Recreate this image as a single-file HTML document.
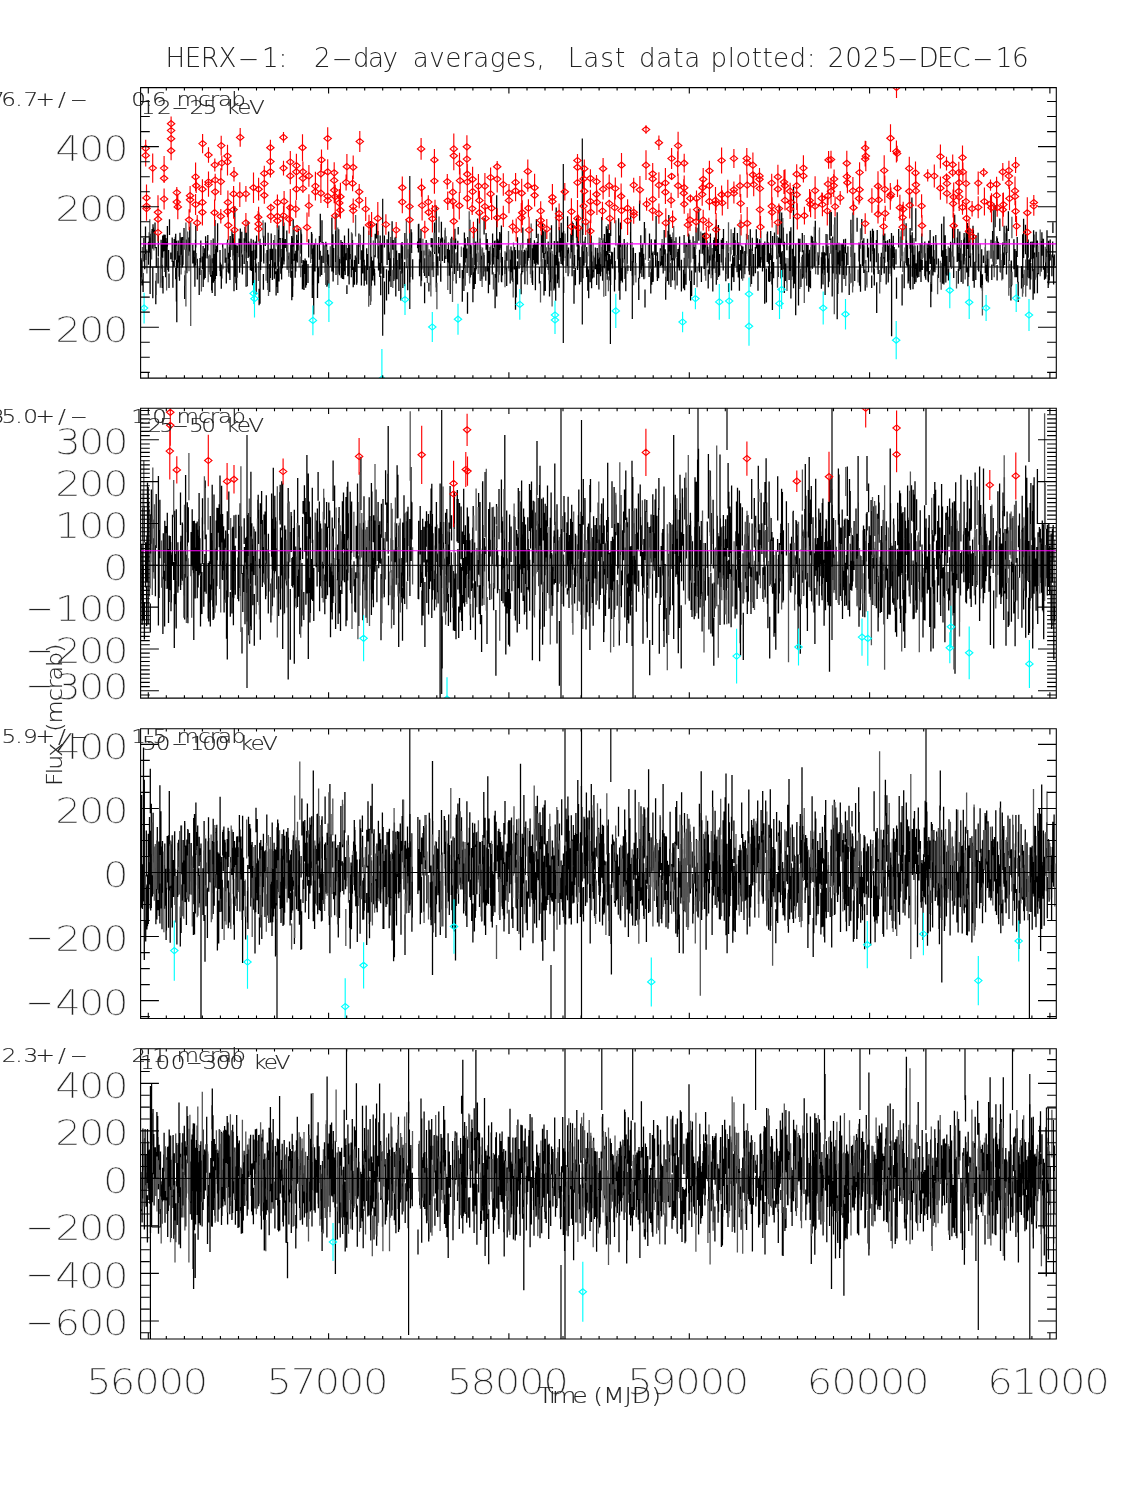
<!DOCTYPE html>
<html><head><meta charset="utf-8"><title>HERX-1 2-day averages</title>
<style>html,body{margin:0;padding:0;background:#fff;overflow:hidden}svg{display:block}</style>
</head><body>
<svg width="1125" height="1500" viewBox="0 0 1125 1500">
<rect width="1125" height="1500" fill="#fff"/>
<style>.big{stroke:#fff;stroke-width:0.45px}.sm{stroke:#222;stroke-width:0.15px}</style>
<defs>
<clipPath id="c0"><rect x="140.6" y="87.6" width="915.7" height="290.5"/></clipPath>
<clipPath id="c1"><rect x="140.6" y="408.3" width="915.7" height="289.8"/></clipPath>
<clipPath id="c2"><rect x="140.6" y="728.7" width="915.7" height="289.8"/></clipPath>
<clipPath id="c3"><rect x="140.6" y="1048.7" width="915.7" height="290.3"/></clipPath>
</defs>
<g clip-path="url(#c0)" fill="none">
<path stroke="#000" stroke-width="1.30" d="M141 260.1V277.3M141.9 258.3V280.6M142 263.2V285.4M143.1 273V292M143.9 237.9V261.6M144.7 254.1V269.3M145.5 226.6V254M146.3 249.7V260M148.5 241.7V264.8M149.3 232.3V252.6M150.1 266.5V294.1M150.3 233.7V256.7M150.4 252.6V267.7M152.1 229V247.9M152.8 267.2V298.2M153 224.2V249M153.3 227.6V246.8M154.5 229.8V245.7M155 222.5V248.2M155.8 280.8V304.3M156.3 246.9V267.8M158.1 257.4V283.4M158.3 235.4V256.5M161.1 239.8V268.6M161.9 243.3V265.1M162.2 264.7V288M162.7 235.6V257.8M163 276.1V293.6M163.9 234.4V251.5M165.2 234.8V253.1M165.6 252.5V274.1M165.6 238.1V277.3M166.4 241.7V267.1M167.1 238.3V270.1M167.4 226.1V246.6M168.6 250V271.8M169 273.6V287.9M169.5 219.3V234.9M170.8 252.4V259.2M172.2 237.5V261.9M172.9 261V287.7M174.2 238.9V266.7M175.3 236.8V259.7M175.7 233.8V254.4M175.7 268V279.3M176.4 240.7V301.4M176.8 250.9V322.3M177.5 252.8V268M178.2 240.6V262.6M179.1 255.6V276.7M179.5 261V280.8M180 232.7V265.1M181.4 237.2V256.7M181.6 239V267.4M181.9 239.4V251.5M182.5 237V267.6M183 249.6V264.8M184 228.1V249.7M184.7 275.2V298.9M185.8 249.3V267.9M186.4 239.4V269M186.5 249.5V270.2M186.9 261V273.2M188.8 237.5V255.8M189.7 226.7V252M192.8 244.5V263.5M194.1 250.6V267.2M194.9 256.9V286.8M195.5 239.8V265.5M195.8 225.7V247.5M197.3 258.8V279.4M199.2 267.9V295M200 258.1V275M200.8 240.6V262.4M202.4 256.6V269M203.1 246V265.1M203.2 254.5V287M204.2 252.9V279.5M204.7 248.2V275.5M205.2 253.6V278M205.6 237V258.3M205.6 236.2V250.7M207.3 241V258.6M207.8 235V250.6M210.1 255.3V274.5M210.6 259.3V276.8M211.8 258.3V275.3M211.7 259.6V290.5M212.2 271.1V293M213.2 238.4V263.2M213.4 256.2V282.8M213.8 253.9V281M215 220.1V295.9M215.4 254.3V279M216.1 249.3V271.4M216.5 245.7V275.9M217.5 239.9V252.2M217.6 223.3V241.3M220 249.9V270.9M220.4 262.5V276.3M221.3 270.5V288.7M221.8 264.4V278.5M222.7 244.1V268.8M225.1 248.5V262.8M226.3 257.6V283.5M227.6 239.6V258.9M228.1 263.4V272.2M228.8 252.7V273.6M229.5 246.7V268.3M229.8 242.8V255.6M229.9 259V280.1M230.2 235.9V256.9M232 230.2V250M233.1 234.1V255.5M234 238.2V291.2M234.8 206.3V274.3M234.8 252.3V276.7M235.1 261.2V276.3M235.9 244.4V283.3M236.6 269.3V290.1M237.3 245.6V277M239.1 238.5V257.2M239.6 251.1V272.8M240.3 228.6V254.4M240.4 239.4V261.2M241.7 250.3V257.1M241.8 231.7V251.8M242.4 254.5V274.6M244.2 238.3V263.9M245 226.8V251.1M246.1 262.8V286.7M246.2 241.5V269.8M246.4 232.6V252.5M247.3 261.3V286.2M248.1 221.3V258M248.8 241.5V256.8M250.3 243.5V270.3M251.1 238.7V256.9M251.4 250.7V270.9M252.6 266.5V285.3M252.8 250.7V276.1M253.3 239.7V256.6M253.6 249.8V263M253.7 261.2V293.5M255.2 241.4V259.9M255.7 250.2V272.5M256.2 263.6V294.7M256.6 235.6V258.4M259.1 288.7V305.3M260 238.8V303.8M260.6 247.5V269.9M261.2 245V261.8M263.4 274.1V289.7M263.8 248.2V263.5M263.6 235.8V261.3M265.3 222.5V246M267 250.1V263M267.5 256.7V283M268.1 232.8V289.9M269.7 264V291.9M270.1 248.8V261.3M270.4 256.5V278M271.2 233.5V259.9M272.4 248.8V279.9M273.9 239.9V267.4M274.3 260.2V278.8M274.8 248.5V274.3M275.7 249.3V268.8M276.1 271.2V295.6M277.1 268.4V286.9M277.8 239.6V266.4M277.8 268.7V292.9M278.6 229.7V273.9M278.9 225.4V258.3M279 267.6V281.6M279.1 239V254.6M280.2 237.9V256.8M280.8 248.9V273.8M281.6 257.3V279.4M282.4 246.5V268.3M282.4 237.9V266.6M283 215.8V260.6M283.9 222.4V264.5M284.2 241.4V261.6M285.3 239.1V248.1M286.8 230.5V251.5M287.2 250V269.7M288.7 256.1V272.9M289 252.4V267.6M290.8 244.6V277.8M291.6 242V263.9M291.7 236V263.5M291.8 270.8V300.3M292.3 237.7V269.3M292.6 277.4V297.1M292.8 259.6V286.3M293.2 219.3V246.5M293.9 242.6V260.8M295.2 253.4V277.7M295.8 250.8V271.4M296.7 234.8V260.9M297.3 240V262.6M298.3 228.4V250.4M300.9 229.2V252.9M301.1 232.4V254M301.5 234.3V263M302.4 264.7V289.2M303.1 259.9V286.5M303.8 260.7V289.4M304 266.1V289.9M305.1 258.5V273.9M305.7 264.4V287.7M306.4 260.4V285.3M308 264.1V282.9M308.7 239.3V257.4M311.4 245.8V253.5M311.5 231.9V254.2M312 233.7V258.9M312.3 264.2V298.1M312.7 248.4V268.3M313.2 265.8V285.1M313.7 245.5V314.5M313.8 244.9V264.4M314.2 243.5V264.2M315 243.5V271.6M317.5 244.6V297.9M318.5 267.2V283.2M319.4 236V259.7M320.3 213.8V242.2M320.2 250.8V276.5M321.7 255.7V275.1M322 220.2V243.1M323.2 242.3V262.9M325.2 253.3V272.7M325.8 241.7V262M326.6 243.7V262M326.9 264.4V286.7M327.6 249.9V276.4M328.3 265.2V285.4M328.2 260.5V277.6M328.6 254.4V285.5M331.9 217.6V271.5M332.6 247.3V265.1M332.9 234.2V263.5M333.1 254.5V281.5M333.4 252.8V272.7M333.7 248V266.2M335.6 230.8V242.4M335.7 239.8V262M336 213.9V274.9M338.7 229.3V271.6M338.9 257.3V273.8M339.4 259.1V275.3M339.8 259.5V263.6M341 240V259.5M341.3 245.3V277.8M342.4 242.1V279M342.7 246.4V276.4M343.1 244.9V261.4M343.6 256.7V279.2M344.5 256.7V271.3M344.5 235.4V265.3M345.2 253.2V274.9M346.3 245.1V260.3M346.9 285.3V294M347.8 248V276.2M348.5 228.6V253.6M349.1 253.8V284.6M349.2 247.7V274M349.9 244.4V259.3M351.3 254.1V277.3M352 233.5V259M352.5 240V270.1M353.2 266.9V287.2M353.4 271.6V281M354.5 260.1V284.7M355.3 255.4V272.1M356.7 257.6V284.7M357 244.8V282.7M358.6 243.9V262.5M358.6 246.7V264.1M358.9 233.6V246.9M361.4 250.3V285.5M362.2 257.5V273.2M362.1 250.4V267.3M362.8 244.5V273.4M363.6 226.5V261.9M363.6 240.9V262.1M364.2 259.8V285.8M365.1 265.5V280.7M366.7 248.2V284.4M367.9 254.1V269.9M369.4 266.4V295.8M370.8 221V301.4M370.9 263.1V288.4M371.4 256.8V285.7M372 260.8V278.7M372.7 260.6V280.5M373.8 255.2V275.7M374.5 268.8V282.1M374.7 273.1V285.4M375.2 233.7V257.3M376.5 223.2V238.5M378 231.1V258.5M378.5 246.3V270.4M379.8 253.2V277.1M380.2 235.5V256.5M380.7 275.7V295.3M381 246V273.7M381.4 243V262.9M383.7 266.4V278.1M384.4 235.5V247.6M384.5 281.4V314.6M386.5 269.2V300.5M387.1 239.2V264.9M388.6 270.6V294.3M388.6 231.6V259.9M389.5 253.8V281.4M390 252.6V276.1M390.3 251.7V275.4M391 255.7V272.6M391 236.9V286.9M392.1 221.2V249.7M393.2 240V249.7M393.7 257.9V281M394.1 248.6V279.4M395.8 236.7V296.6M395.7 241.7V264.3M396.3 258.4V278.2M396.6 250.6V275.5M396.8 269V278.3M397.1 260V279.2M398.9 276.5V291M398.9 253V280.5M399.7 253.2V269.6M400.8 271V300.4M401.2 242.9V273.7M402.1 242.1V258.6M402.6 246.2V272.7M402.8 268V288M404.6 261.9V286.2M404.9 233.1V259.5M407.7 266.2V290.2M409.6 253.5V282.6M411.1 229.2V252.9M411.6 232.2V253.1M412.7 259.2V279.4M417.6 241.6V248.2M418.4 224.3V252.6M418.8 223.8V246.6M419.5 259.3V276.2M419.9 246V262.4M420.2 238.2V258.1M421 229V286.3M421.5 250.7V280.8M424.6 282.5V303.3M424.5 258.2V276M426.2 240V278.1M428.3 255V276.1M428.9 282.7V291.5M429.2 251.4V260.7M429.9 258.2V276.2M430.2 250.7V272.2M431.2 237.9V247.3M432 251.8V270.3M432.3 238.3V268.4M433.5 262V277M434.5 222.5V254M436.2 205.6V287.6M436.4 268.8V291.9M436.8 245.3V267.9M437.9 256.3V275.4M438.7 236.9V253.4M439.7 246.9V260.9M440.8 264.4V281.8M440.7 238.4V281.3M441.4 221.8V251.4M442.4 237.7V261.1M442.5 237.5V254.6M444.5 239.4V263.1M445.2 230.2V248.1M445.9 236.2V258.9M447.6 248.9V275.8M448.4 243.5V263.3M448.5 242.6V257.8M449.4 249.7V261.9M449.4 256.8V275.7M450.2 261.3V274.2M450.2 266V293.9M451.3 242.2V260.1M451.7 254.9V268M451.7 236.7V258.7M452.4 245.5V263.2M454.2 244.6V266.2M454.4 249.4V274M454.9 228.8V247.7M455.6 238.4V249.3M456.2 253.3V283.5M457.6 245.8V264.5M457.8 240.7V270.9M458.2 227V234.6M459.8 263.3V277.9M462.3 270.1V301.8M463.5 247.6V278.5M463.9 266.1V291M464.4 232.4V257M464.6 250.2V268.3M465.2 238.3V262.5M465.8 243.6V258.2M467.1 248.6V273.1M467.5 292.3V313.8M467.7 237.1V245.5M469 239V267.4M469.8 219.7V255.9M470.4 252.3V277.4M470.9 244.5V271.7M471.2 246.2V275M472.9 257.8V302.3M474 228.5V242.8M474.2 267.9V289M474.8 245.1V264.9M475.3 261.3V284M475.3 242.6V274.1M475.8 241.6V270.5M476.2 253.5V269.1M477.6 218.5V250.1M480.1 238.5V265.1M480.7 246.7V272.4M480.9 249.3V280.9M482 255.8V265M482.1 258V279.2M483.8 252.4V276.5M484.1 254.9V271.4M484.1 217.8V234.5M485.8 266.6V280.8M486.1 232.9V249.7M487.3 239.1V271.5M487.8 245.1V262.9M488.4 266.3V293.2M489.1 251.1V278.7M489.6 261.8V284.7M490.1 247V264.8M492.3 253.4V274.4M492.6 233.6V256.3M493.3 248V264.4M494.5 240.8V257.2M495.1 274V308.3M496.1 249V277.8M496.7 195.2V296.5M497 246.7V271.8M497 241.4V262.4M497.8 238.8V259.1M498.6 240.5V261.4M499 243.8V274.7M499.7 232.1V250.1M501.1 252.7V262.5M501.1 233.6V248.3M501.4 225.4V281.5M501.7 268.5V282.2M502.4 257.1V275.6M504.9 260.3V273.9M506 252.5V269.8M506.7 267.5V286M507 245.4V260.7M510.2 259.5V283.6M511 246.5V272.3M511.8 250.3V260M512 250.2V280.4M512.8 251.3V282M514.3 249.4V269.5M514.6 246.9V264.4M515.5 249.9V309.7M516.2 266.1V297.6M517.5 261.3V284.6M517.5 237.2V258.8M519.1 250.3V268.7M521.1 273.4V294.2M521.7 250.3V274.6M522.8 252V272.3M522.8 227.4V248.4M524.3 249.7V266.9M524.9 263.8V284.3M525.4 250.6V263.8M527.3 250.6V271.3M527.9 238.8V260.8M529 238.4V257.9M530.5 238.1V263.5M532.1 248.2V282.8M532.6 270.5V285M532.7 251.4V266.6M533.1 244.5V260.1M534.4 240.2V263.8M534.7 242.3V258.1M535.4 255.9V290.3M536 244.2V257.2M536 246.9V265.2M536.4 219.3V238.1M537.2 241.8V262.7M537.6 242.2V263.8M538.1 233.8V264.7M539.4 267.1V283.5M541.4 234.3V261.5M541.9 258.8V274M542.5 223.2V248.4M542.4 237.2V252.8M543.3 231.2V258.1M544 273.3V295.6M544.2 252.9V278.9M545.1 229.7V253.7M545.3 259.8V291.1M546.2 251.4V264.7M547.2 251.2V263.9M548.2 241.5V270.1M549 256.5V274.5M549.5 265.2V296.6M549.8 247.7V282.3M550.8 247.6V276.7M551.1 267V290.7M551.5 225.2V249.1M553.9 267.1V290.6M554.3 240.9V267.8M555.1 255V288.6M555.7 274.6V300.7M556.2 207.5V265.4M557.4 251.8V283.2M557.7 241.3V261.7M558.1 258.3V279.6M559 261.4V287.8M559.3 227V252.4M560.2 237.9V256.8M560.9 241.2V261.3M561.1 239.3V264.1M561.2 222.8V250.7M562.5 232.6V265.6M563.6 231V260.7M566.9 242.7V266.1M567.6 216.3V242.2M568.1 249.9V276.2M568.5 247.4V273.2M570.9 233.8V252.3M572.1 221.6V276.3M572.9 245.1V264.2M573.1 223.1V240.1M573.9 243.5V268.7M574 269.9V303.7M574.6 254.9V266.3M575.4 268V285.3M576.5 218.6V237.8M577.1 217.6V246.4M577.5 249.6V270.1M577.9 244.1V260.6M578.5 231.8V259.1M579.1 245.2V266.1M579.5 257.2V284.4M581 257.1V282M582.8 220.5V234.9M582.9 251.3V278.2M584 241.4V265.8M584.6 242.7V262.8M585.3 236.8V247M586.6 254.8V272.5M586.7 247.1V277M587.8 266.4V290.7M588.7 269.6V298.3M589.3 242.9V256.2M589.7 228.4V245.3M590.2 258.6V282.3M590.6 237.5V262.3M591.2 235.5V254.3M591.6 251.4V288.2M592.4 261.6V278.4M593.5 255.6V272.1M593.9 257.5V277.4M595.4 247.6V269.2M596.7 264.3V284.9M597.2 247.9V265.1M597.9 252.7V274M598.9 259.1V289.5M599.4 242.6V265M600.2 252V274M600.6 253.7V276.2M601.8 216.9V239.9M602.1 247V271.8M602.6 261.8V280.8M602.6 240.3V273.1M603.8 249.9V268.1M604.4 233.9V245.3M604.5 234.4V260.8M605 250.5V268.6M605.6 242.1V256.5M606.4 251.1V273.8M606.3 226.3V243.8M607.2 260.2V279.7M607.6 229.1V255.2M608.1 224.2V270.8M608.9 233.1V250.9M609.3 254.1V274.6M609.9 233.3V253.1M609.9 255.5V280.5M610.7 221.4V236M610.6 259.3V284.9M611.6 251.8V264.3M612.4 252.2V268.6M614.3 251.4V269.5M614.5 247.5V291.6M615.1 260.9V279.8M618.6 218.2V267.4M618.8 235.3V272.5M619.1 269.6V290.8M619.9 235.4V299.7M620.1 249.5V283.4M620.5 222.5V247.2M621.4 258.6V280.7M622.2 244.3V266.2M622.4 257.9V282.5M624.2 239V262.8M624.9 243.6V278.6M625.8 267.5V291.2M627.3 242.6V263.8M627.8 265.2V270.9M630.6 232.3V249.6M630.7 209.3V270.9M632.4 259.1V275.7M632.5 248V266.2M633.4 247.6V276.2M635.4 252.9V275.2M638.8 285.3V300M638.7 277.7V289.9M639.6 200.5V220.8M639.5 252.3V278.5M640.2 253.1V273.4M640.9 245.3V253.4M640.8 235.2V256.8M641.6 249.3V269.7M641.6 248.1V261.2M641.9 253.5V277.1M642.8 243.4V266.3M643.6 253.7V276.7M643.9 258.1V279.2M644.4 222.1V243.3M645 289.6V307.5M649.1 262.1V277.1M649.5 233.4V258.2M650.8 272.3V293.6M651.3 239.3V259.1M651.7 253V284.7M653 251.5V281.9M653.2 258V280.8M654.8 239.4V255.1M655.6 244.6V266.8M656.1 216.1V255.7M657.2 260.2V277M657.4 257.7V280.9M657.5 252.3V270.7M658.6 261.1V278.2M660.3 248.3V266.2M661.5 243.4V265.4M662.8 246V267.5M663.2 251.9V273.4M663.4 243.3V266.4M664.2 229.9V254.4M665.1 249.3V270.7M665.2 249.8V261.9M665.7 276.7V299.7M667.4 253.6V281.1M667.8 257.7V272.3M668 230.7V260M668.8 215V284.8M668.7 243.3V259M670 234.6V255M670.9 263.1V287M671.1 236.9V261.1M671.5 239.2V265.3M672.4 258.1V280.2M673.1 232.4V260.4M674.5 241.1V265.7M674.5 260V280.4M676 237.3V257.6M677.1 258.1V285.4M677.7 252.1V267.2M678 249V267.5M679.3 247.2V270.4M679.6 236.6V270.5M681.4 259.8V291.5M683.5 269.8V288.6M684.1 235.1V252.9M684.3 257.7V279.7M684.6 272V290.2M686 266.1V284.8M685.9 242.5V269.4M687 244.8V257.1M688.6 233.6V258.5M689 234.7V253.3M689.8 255.6V280.8M689.9 239.7V263.8M690.6 280.9V300.6M691.6 270.4V295.9M693.1 236.2V258.7M694.2 257.8V285M694.5 247V263.2M695.1 241V263.7M695.6 254.9V272.5M697 227.7V243.4M698.8 208.7V240.7M699.1 262.8V271.1M699.5 249.7V272.6M701.4 266.6V282.1M702.3 233.2V253.7M703.3 233.9V249.4M703.8 233V255.2M704.1 253.8V269M704.9 232.5V258.1M705.3 244.6V275.8M707.1 240.5V265.7M707.8 246.7V263.2M708.2 269.6V288.6M709.3 249.5V274.2M710.4 233.6V260.4M712 248.1V270.8M712.5 257.4V275M712.8 254.6V291.4M713.7 240V260.2M714.2 247.3V268.4M714.4 237.4V257.9M715.6 225.7V251.1M715.8 229.1V250.9M716.3 219.5V284.7M717.1 239V263M717.4 249.2V273.2M718.1 250.7V272M718.5 241.1V276.9M718.4 225V246.4M719.6 264.1V275.4M719.5 253.9V275.2M721.3 239.8V262.6M722.5 238.1V264.9M723.2 246.5V270.6M723.5 228.9V249.3M725.8 257.5V281.2M727.9 243.8V278.8M728.3 253V278.2M728.6 283.3V291.9M731.5 263.8V290.6M732.7 255.5V277.3M733.2 233.1V250M733.6 236.7V255.9M733.9 257.2V282M734.6 227.6V250.7M734.9 240.1V266.3M735.1 240.4V255.3M737.4 233.1V271.9M738.3 242.7V270.8M738.3 247.6V277.4M738.9 242.5V259.9M739.4 264.2V290.7M740.7 250V270.4M741.7 245.6V278.7M742.9 246.6V264.1M744.1 252.2V269.7M744.8 251V274.3M745.8 243.3V265.6M748.9 254.6V271.2M749.4 249.1V274.8M750.3 245.4V274.9M750.3 229.3V249.2M751.5 267.2V283.9M751.9 248.7V276.3M752 251.9V274.8M752.3 237.8V250.9M753.6 254.1V276.3M755.4 247V273.2M756.3 229.3V248.5M757.5 238.3V268.8M758 271.3V290.7M758.6 243.5V267.3M759.7 239.3V266.7M760.3 241V267.8M760.8 244.3V262.6M761.1 246.2V259.8M762.5 244.8V271.4M763.7 242.9V267.9M764.7 246.2V303.7M764.8 241.5V255.1M766.4 268.6V302.5M767.2 233.7V262.1M767.5 231.6V252.9M768.5 242.5V263.7M768.6 266.3V281.4M769.4 253.2V281.9M770 271.8V281.3M770.7 230.9V260M771.5 255.2V273.8M771.9 266.7V284.4M772.4 248.1V310M772.6 236V258.6M773.6 262.1V278.3M774.5 232.5V242.9M776.9 236V259.3M778 255.6V268.4M778.2 266.6V277.1M778.6 237.4V257.7M779.8 205.9V256.9M780.4 238.5V264M781 252.3V278.4M781.5 219V243M781.7 212.5V241.2M782.2 251V277.3M783.4 227.5V246.2M783.8 243.8V269.2M784.2 252.2V277.4M784.3 271.9V293.1M784.4 241.8V265.1M784.9 257.4V281M785.9 263.6V280.9M786.9 233.7V250.3M789.1 258.3V280.1M789.4 246.2V262.6M789.8 231.2V259.1M790.3 243.6V271M790.9 227.3V298.4M792.5 248.7V276.4M793.5 260.2V288.3M793.5 186.9V283.5M794.3 268.1V280.1M794.5 256.2V283.8M795.7 256.7V315.2M795.8 243.4V274.4M798.5 238.6V305.6M799.3 242.1V262.9M799.9 238.7V251.8M800.9 268.8V286.9M802.3 233V252.3M802.5 254.8V278.7M803.4 250.3V277.6M804 254.7V271.1M806.2 243V272.6M806.8 244.4V267.4M806.8 262V285.7M808.1 245V267M808.7 264.8V291.7M808.7 253.5V274.4M809.3 263.2V284.5M809.5 259.6V286.9M809.7 249.7V270.3M810.5 270.6V288.2M811.3 235.7V248.4M812.4 236.8V268.7M814 241.1V266.8M815 243V266.2M815.3 220.8V256.6M818 252.3V274.7M818.8 255.5V265M821.4 257.3V288.7M821.9 252.3V273.5M823.1 245.8V263.9M823 253.5V284.5M824.4 252.2V269.7M824.9 253.2V271.2M824.8 260.5V275M825.1 258.4V295M826.1 233.9V255.4M827.5 244.1V272.7M828.4 254.7V287.3M828.9 253V266.2M829.1 254.4V281.7M829.8 210.9V240.1M831 238.4V253.8M831.3 212V236.1M832.2 250.2V296.5M832.7 236.5V261.2M833.2 248.9V273.5M833.3 249.2V272.8M833.6 245.3V258.4M834.4 252V264.8M834.9 217.3V265.4M836.5 243.6V271.1M836.4 245.1V274.2M837.2 212.2V319.3M837.8 267.2V293.9M838.5 252.2V273.3M839 242.8V270.1M839.7 250.5V274.5M841.1 243.9V265.9M842 264.6V292.4M842.5 243.7V266.5M842.9 251.2V275M843.7 239.2V256.5M844.1 246.8V279.1M843.9 254.1V273.3M844.3 254.5V265.3M845.5 238.7V253.5M846.4 252.7V275.5M847.9 246.3V265.1M849.2 266V295M850.9 219.7V244.5M851.1 246.9V257.1M851.8 239V265.7M852.1 242.8V259.3M852.8 258.5V286.4M854.7 252.8V281.1M857.1 217.7V231.8M859 242.4V261.4M859.5 243.2V285.8M860.5 264.3V291.7M861.8 218.9V239.8M862.4 240.4V266M863.5 246.5V264.2M863.8 238.3V273.1M865.2 269.5V290.8M867.5 238.7V257.4M868.5 247.4V272.2M870.5 230.8V261.6M870.6 233.7V251.5M871.7 275.4V288.1M872.5 228.8V251.1M873 239.9V253.9M873.7 263.9V274.5M873.4 230.8V266.2M874.3 268.6V285.6M874.4 248.2V267M876.4 239.9V262.2M876.7 282.3V313M877.2 230.1V256.8M878.2 253.2V274.1M881.4 252.7V275M883.4 229.7V256.1M883.2 234.6V258.8M884.1 256V273.4M884.3 254.5V273.6M884.8 233.5V262.8M885.8 241.1V251.8M886.2 266.1V284.5M887.6 241.3V260.4M887.6 240.3V261.8M888.3 254.3V280.5M888.2 261.5V282.4M888.6 245.7V273.8M889.5 238.9V259.9M890.4 248.3V268.2M891.3 261.7V276.3M891.6 240.7V336.2M891.5 233.1V262.5M892.2 245.7V266.6M893.3 235.7V258.1M893.8 258.8V267.9M894.2 246.9V269.2M894.4 252.7V269.8M896 249.3V264.4M896.5 277.6V298.7M898.7 228.9V247.4M900.5 246V267.6M901 236.5V254.9M902 228.5V255.9M902.1 274.2V305.6M904.2 261.3V288.3M906 239.4V263.1M906.1 223.3V250.6M906.5 240.4V265.4M907.4 246V266.8M907.5 244.9V265.7M908.1 258.5V283.6M908.5 258V281.3M910 264.5V288.1M910.1 227.9V248.7M910.5 241.1V289.7M910.7 235.3V253M911.9 197.4V230.8M912.3 238.3V276.7M912.2 232.3V252.6M913 246.6V289.2M913.2 246.3V277.8M913.9 254.4V268.1M914.6 258.4V284.1M914.9 245.6V269M915.8 208.2V241.6M916 263.2V282.2M917.3 259.8V275.7M917.5 245.3V277.8M918.9 252.3V277M919.3 251.1V271.6M920.2 243.2V271.8M921 259.3V282.1M922 242.5V259.5M921.8 233.4V253.3M922.2 260V270M924.8 241.6V276.2M925.1 253.2V270M925.5 261.5V278M925.8 260.8V279.8M927.2 243.9V271.5M927.6 247.9V263.7M928 262.6V280.7M928.4 262.9V282.2M928.7 240.8V264.2M929.5 246.3V258.7M929.3 270.9V274.4M930.1 229.9V251.5M930.3 246.2V264.1M930.8 281.9V307.3M931.6 245V291.7M933 256.5V275.4M933.5 236.2V271.8M933.9 249.9V269.5M934.9 258.7V272.3M935.8 234.9V259.8M936.2 243.8V256.5M936.5 242.9V264.6M938.4 258.4V278M941.6 223.8V256.7M942.5 256.8V283.7M942.7 250.2V282.8M943.9 216.4V284.4M945.2 235.3V274.3M945.8 249.1V282.4M947 256V275.4M948.6 247.6V274.6M948.5 261.7V280.6M949.2 248.1V261.9M950.6 241.7V265.6M950.7 248.8V266.9M952.6 227.8V256.7M953.7 256.6V278.1M954.7 214.7V243.8M957.2 237.6V262.1M957.9 229V250M958.2 247.1V260.9M958.3 268.8V283.8M959 257.1V271M959.5 252.9V261.9M959.8 231.6V259.4M960.4 248.2V269.3M961.2 256.9V282.1M963 253.7V283.7M963.7 239.6V258.8M964.1 233V264.4M964.4 237.4V261.3M966.2 231.2V256.2M966.7 249.3V272.6M967.4 222.9V249M967.9 267.3V286.2M968.2 226V244.2M968.6 251.2V276.9M968.7 240.6V271.2M970 228.7V258M970.6 253.3V266.7M972.5 231V249.7M972.9 236.9V255M973 225.7V280.9M973.4 230.3V266.1M974.2 261.7V287.7M975.8 244.2V280.1M976 235.1V262.5M978.1 232.7V249.6M978.2 246.3V270.1M978.6 253.7V271.6M980.6 268.7V287M981.1 264.7V288.3M981.7 249.2V267.6M982.4 274.3V290.7M983.5 255.6V262.9M985.3 247.3V273M986.2 266.5V279.4M986.7 257.6V281.2M987.2 250.7V275.9M988.2 258.7V273.9M988.2 262.3V282.6M991 239.8V258.8M991.8 264.5V280.1M992.6 231.1V258.5M993.4 250.5V265.9M993.5 210.3V242.9M994.7 242.7V267.1M995.1 205.1V227.3M996.8 236.3V259.1M997.1 264.9V280.5M997.4 238.2V259.4M998.4 241.7V259.2M999.8 218.6V230.9M1000 245.1V265.3M1000.5 253.8V272.5M1002.7 242.4V279.2M1003.4 252.6V268.1M1004.1 225.7V240.5M1004.2 232V245.6M1004.5 246.5V264.9M1006.3 225.7V241M1006.5 252V274.5M1006.9 228.5V253.1M1008.4 211.3V230.9M1009.2 239V260.9M1010.9 279.1V300.4M1011.2 260.5V286.6M1011.4 260.5V286.4M1013.9 239.2V269.3M1015 249.1V277.2M1016.4 258.4V277.2M1016.4 251.1V273.4M1017.2 236.9V256.9M1017.7 265.2V282.3M1018.2 281.7V302.1M1021.5 266V288.4M1022.7 234.2V293.6M1023.2 274.2V286.7M1023.6 218.8V258.1M1025.5 224.7V251.6M1025.6 244.1V254.3M1026.9 253.8V285.8M1027.2 234.7V277.3M1027.5 247.4V269.9M1028.2 239.4V257.7M1028.9 259.6V278.2M1030.1 258.2V289.6M1030.6 241.7V262.2M1030.8 262.9V279.6M1032.1 241.4V259.2M1032.7 242.5V271.3M1033.1 269V299.8M1033.6 230.3V258.5M1034.5 264.8V293.4M1034.5 252.5V278.1M1036.1 231.7V257.5M1037.4 240.4V293.2M1038.6 252.1V274.2M1041.1 240.9V271.8M1041.9 232.3V249.5M1042 238.3V255.7M1043.5 246.3V260M1043.4 238.8V269.7M1044.5 266.1V279.8M1045.6 249V278.7M1047 230.2V264.3M1047 249.5V272.9M1048.2 275V287.9M1048.6 240.8V256.7M1048.7 248.2V284.4M1049.3 253.9V280.4M1050.2 239.4V260.6M1051.9 254.6V276.2M1052.9 222.2V233.1M1052.7 241.4V257.5M1053.6 256.3V284.4M1054.3 254.5V265.8"/>
<path stroke="#555" stroke-width="1.30" d="M142.4 246.9V261.3M142.5 258.8V279.6M146.9 249.4V273.6M149.8 219.3V237.5M151.6 230.9V259.5M153.9 232.6V250.6M156.3 273V295M160.3 265.7V287.7M160.8 257.2V282.4M164.5 251.6V272.1M166.6 267.4V290.6M176.5 245.4V260.1M181.1 254.8V274.4M183.2 240.1V255.4M185.2 270.4V285.8M185.9 222.6V306.4M187.3 249.6V266.8M187.7 231.6V251.3M189 250.8V271.3M190.7 222.2V325.9M196.4 253V262.7M201.4 269.8V291.5M208.2 256.1V282.3M209.2 254.5V272.1M211.1 240V275.1M222.7 247.5V269.4M227.2 242.2V269.1M232.8 243.2V260.3M237.2 253.1V277.9M240.6 243.3V266.5M241.2 253.3V265.9M245.3 241.5V258.4M246.8 261.7V285.7M258.5 262.1V281M258.9 212.6V242.5M263 220.3V237.4M266.1 253.2V280.7M268.5 268.9V296M274.8 235.1V262.3M277.2 224.9V246.5M279.8 239.4V261.7M287.8 244.6V269.7M288.8 259.5V276.7M294.4 225.7V243.2M299.1 245.2V267.2M300.8 256.5V277.3M310.7 243.6V263.1M315.6 238.6V267M324.7 245.3V263.6M325.7 266.6V285.1M326.2 246.4V266.2M327.1 264.6V280.2M328.9 265.9V288M330.3 246.3V267.1M337.4 255.6V274.1M337.8 227.4V285.1M346.1 244.7V252.9M351.5 232.3V259.6M355.6 215.1V236.4M360.4 234.8V259.8M368.7 230.7V306.7M370.5 268.1V305.1M373.4 240.4V258.6M379.6 240.8V262.8M390.4 247.8V258.3M391.5 236.8V253.7M392.8 269.7V288.1M394.5 237.6V263.8M406.4 219.2V268.2M407.1 238.8V258.1M407.9 249.3V269.4M409 243.3V266.1M410.7 247.8V277.1M422.9 238.8V269.5M423.8 250.5V270.2M423.7 254.7V273.1M425.2 242.8V255.4M427.4 255.2V283.1M427.7 242.7V272.2M429.2 249.3V266.7M430.3 256.8V285.2M430.9 264.8V296.5M433.2 254.2V277M434.2 232.7V252M436.9 282.8V309.3M439 216.4V232.6M440.5 245.2V263.4M441.6 241.8V258.8M445.3 227.7V255.8M447.8 262.2V290.1M450.7 238.6V265.4M452.5 271.5V302M453 253.9V281M453.2 238V260.6M453.6 249.4V265.3M456.3 252.3V280.1M461.3 246.6V256.9M465.3 265V285.8M468.3 238.4V263.9M469.2 211.3V275.7M469.6 254V283.5M473.3 254V272.2M473.4 236.6V255.9M477.8 242.2V261.9M478.2 252.4V273.9M480 212.2V280.7M482.1 259.6V286.9M482.6 247.4V271.1M490.9 245.3V261.6M493.4 272.2V289.6M494.8 246.9V266.8M495.6 240.6V255.8M498.5 259.5V282.4M505 251.2V287.2M508.5 231V268.4M509.2 249.5V271.3M513.2 278.3V297.6M513.5 242.5V267M520.3 244.5V265.4M522.2 242.7V271.1M526.2 247.8V266.3M527.4 265.3V284.7M530.4 260.3V274.3M531.2 223.6V278.1M540.5 280.9V302.4M541.1 246.6V273.6M546.4 247.3V267M549.2 248.8V280.6M550.1 232.5V252.6M552.1 251.1V306.4M552.4 253.8V266.5M553 254.5V278.8M563.8 276.7V293.1M565.1 233.5V258M565.9 256.3V273M568.7 253.4V273.5M570.4 249.9V258.6M573.3 236.3V263.8M580.4 227.5V243.2M581.8 246.4V273.5M585 239.3V262.8M587.2 251.7V264.4M587.9 223.2V244.1M589.7 235.1V274.2M593.1 242.7V269.8M599.2 237.6V257.4M600.9 238V264.3M603.1 238.3V266.2M603.8 266.9V296.7M605.7 261.3V296M608.4 276.2V291.3M615.8 220.2V245.4M617.5 243.8V259.2M621.5 246.2V268.1M624.5 259.2V278.9M626.9 246.8V273.8M632 241.9V263.7M633.6 262.6V285.3M635.9 263V282.6M644.7 263.2V278.5M645.5 228.3V259.7M648.4 244.4V261M649.8 260.3V276.8M651.1 255.2V268.8M660.3 250.6V261.5M662.1 238.9V255.9M666.1 266V282.5M669.3 251.6V272.6M671.6 259.9V280.6M673.7 226V243.9M675.2 271.4V289.4M675.1 241.6V258.6M685.1 252.4V273.8M686.7 246.7V267.3M687.7 243.9V266.3M689.2 244.5V269.1M690.8 242.3V262.4M695.8 226.7V249.2M697.1 266.9V287.2M700.8 231.4V253.8M705.8 247.5V280.8M709.5 242.2V255.6M711.1 243.5V278.2M715.4 261.5V273M717.4 262V280.1M722.3 249.1V265.4M726.1 245V262.5M726.6 241.1V261.1M726.7 254.1V273.9M728.5 222.3V251M730.3 247V261.4M731.1 229.3V254.4M736.8 254.9V272.2M740.1 219.8V246.2M742.6 253.8V280.8M743.8 252.1V278.3M746.5 233.7V253.7M748.4 234.9V256.1M748.4 241V252.4M750.5 266.1V286.8M760.9 230.8V257M776.2 224.7V246.6M777.5 260.5V287.8M778 253.6V272.1M782.8 218V244.2M786.7 268.7V282.4M787 258V291.1M791.6 254V280.1M799.8 262.6V289.1M801.7 256.7V274.1M804.3 234.9V303.1M805.1 253.4V278.4M810.8 247.2V269.7M811.6 242.5V267.6M814.3 226.8V245.4M815.6 253.8V274.3M815.9 241.8V261.3M819.5 227.5V254.1M819.3 230V257.5M827.5 234.3V246.4M828.6 246V258.4M831.8 238.4V264.5M834.3 224.5V314.3M835.8 250V279.3M838.2 264.4V283.1M841.8 261.2V284.8M845.7 265.8V286M849.8 273.5V283.7M851.2 233.4V282.8M852.6 212.5V292.6M853.5 202V266.6M858.1 269.6V282.4M860.5 228.3V248.8M864.6 245.4V263.5M865.9 260.1V284.7M867 270.9V287.6M871.7 237.3V272.4M877.5 243V269.9M879.7 270.1V293.4M880.6 256.7V282.1M882.6 246.9V268.3M883.9 239.9V256.9M890 241.9V273.8M900.4 237V258.5M901.2 231.3V261.2M902.8 251.7V272.1M904 218.5V236.3M905 247.4V263.2M914 238V254.8M923.1 245.3V257.8M930.9 269.8V283.9M935.6 241.4V270.1M937.6 274.6V294.3M940.4 260.8V282.2M941.2 263.1V289.7M944.6 266.3V282.6M948.2 246.3V268.9M951.4 251.4V268.9M953 242.3V267.8M956.5 271V288.5M961.4 240V260.5M965.2 257.5V279.6M969.8 242.1V255.7M975.6 244V261.3M980.2 243.6V271.3M982.4 285.1V315.5M985.4 238.7V261M986.2 254.5V264.8M988.9 250.6V266.5M992.6 244.1V261.7M994.2 203.7V277.3M996.1 241.1V264.1M1000.1 247V271.9M1001.8 260V280.6M1005.3 233.2V254.8M1008.8 259.8V295.7M1010.2 263.9V288.1M1011.9 216.7V238.2M1012 271.7V285.3M1022.5 278.1V296.7M1024.2 269.7V285.1M1025.7 259.5V296.8M1034.7 234.6V247.4M1035.4 254.4V279.8M1036.1 257.7V277.5M1037.9 245.6V272.9M1040.2 229.4V276.2M1045.3 246.8V262.4M1046.7 256.9V276.8"/>
</g>
<g clip-path="url(#c1)" fill="none">
<path stroke="#000" stroke-width="1.30" d="M141.8 544.3V600.5M142.1 551.6V624.7M142.8 508V540.1M143.3 489.3V620.4M144.4 602V639.6M144.2 505.8V542.5M145.6 542.2V587.6M146.6 585.9V626.1M146.9 535.7V582.3M147.5 482.6V538.7M147.9 545.7V576.1M148.2 487V624.2M148.7 501.4V560.4M149.9 540.5V588.5M150.3 603.6V632.6M150.7 514.2V553.5M151.4 489.6V543.7M152.6 547.8V572M153.6 538.3V572.3M155.4 545.3V596.3M156.2 493.9V547.9M158.4 476V625.4M159.1 530.1V598M159.9 499.7V558.3M162.9 576.7V633.9M163.3 533.2V579.3M164.6 570.8V626.6M164.8 520.7V562.9M165.2 530.7V580.9M166.1 526.1V580.7M167.3 512.7V566.8M167.3 553.3V588.7M168.5 548.9V622.9M169.1 535.6V602.1M170.3 536V590M170.6 542.1V590.2M171 552.5V611.3M171.3 554.7V602.6M172.5 514.7V565.7M173.6 562.1V579.9M174.3 594.1V647.9M174.6 510.8V561M174.9 558.1V604.3M175.6 553.9V587.2M176.1 564.5V626.7M176.2 581.1V628.6M176.3 509.2V564.8M177.9 558.3V592.8M177.9 542.3V592.7M178.6 551V586.5M180.5 492.6V524.9M180.6 541.6V589.9M180.9 535.8V584.9M182.3 522.4V578.7M182.5 524.2V580.8M184.1 563.8V595.4M184.7 570.7V619.4M185.4 517.2V577.8M185.6 475.1V532.3M186.8 554.8V617.6M187.3 502.2V566.5M187.9 558.2V623.3M188.3 507.3V542.5M191.1 531.9V576.3M192.2 509.2V570.2M193.5 521V573.2M193.8 524.7V639.9M194.4 520.7V568.6M195.2 557.8V586.5M195.2 547.5V598.6M195.9 523.2V571M197.2 521.4V598.3M197.5 529.7V567.7M198.1 535.7V587.4M198.9 518.9V573.1M199.1 493.1V575.2M199.3 525.9V565.1M199.9 538.3V573.4M200.5 587V626.4M200.7 575.7V614.6M201 563.6V598.9M201.9 572V613.9M202.3 517.4V564M202.5 498.3V552M202.7 530.4V562.1M203.8 562.7V606.7M204.8 554V591.8M205.2 480.6V539.3M206.2 534.4V593.8M208.2 562.9V618.4M208.8 583V621.4M209.3 561.3V602.4M210.3 516V564.1M210.3 584.4V626.4M211 558.9V600.2M211.4 533V589.5M212.2 484.8V542.7M212.3 540.4V574.6M212.8 559.9V606.8M213.1 570.5V620M213.6 560.8V590.2M214 494.6V618.6M215.7 548.9V595.6M216.2 520.6V605.4M216.9 507.8V586.3M217.2 521V560.3M218 508.1V532.8M219.2 504.3V547.2M220 475.4V589.1M220.8 514.2V579.2M221.6 485.7V560.2M222.5 521.8V579.9M222.6 514.1V551.5M223.6 526.3V570.5M223.9 552.8V569.1M224.1 564.7V612.6M224.8 539.7V599.6M225.1 538.6V585.4M225.7 530.5V579.8M226.5 590.4V638.8M226.9 563.3V616M227.3 511.3V659.5M228 533.7V597.2M228.8 491.5V530.1M230.3 592.1V616.8M231.3 550.5V589.8M231.9 572.9V613.5M232.3 528.3V597.4M232.8 526.8V580.4M233.4 563.6V625.3M233.8 536.1V598.3M234 515.2V570.8M235.2 545.7V590.1M235.3 550.3V594.8M235.9 514.7V538.2M237.9 557.4V599.1M238.5 514.8V562.2M238.7 551.3V601.3M238.8 526V590.9M239.2 529V588.1M240.1 503.3V551.1M241.5 526.5V574.1M242 627.3V653.6M242.8 573V612M243.6 566.1V592M244.2 518.3V544.1M244.4 547.1V576.6M245 567.1V624.3M245.7 537.8V587.1M246.7 536.7V592.7M247.7 515V574.7M248.5 513.1V635.3M249.6 517.1V643.7M250.2 527.9V583.8M250.6 585.7V626.2M250.9 471.7V536.6M251.2 563.2V629.9M251.8 523.2V571.6M252.8 544.4V605.3M253.2 538.7V570.4M254 528.9V575.1M254.3 594.1V645.7M255.5 531.5V585.5M257.2 550.4V602M257.9 499.8V541.6M258.2 494.8V541.9M258.5 509.7V544M259.3 558.8V605.3M260.3 503.2V639.7M261.6 491V538.8M262.3 519.9V582M262.3 527.3V587M263 547V582.4M264 514.5V573.4M265 523.1V555.6M265.1 511.6V560.6M265.6 563V599.2M266 557.3V596.1M266.3 495.3V563.7M268.4 533.7V582M268.3 563.8V613.6M268.9 552.9V591.4M270.9 583.4V622.6M271.6 493.6V556.7M272.2 518.7V569.2M272.4 562.6V606.3M273.3 467.7V570.8M274.1 535.1V597.4M274.5 528.8V573.6M274.8 495.8V559.9M275.6 517.2V571.3M275.9 521.3V566.4M276.6 548.2V589.2M278.7 576.3V616.1M279.8 492.2V520.3M280.4 527.5V593.5M280.2 484.7V524.4M280.6 564.7V609.4M281.3 537.5V575.5M281.8 481.2V530.3M282.4 520.2V588.4M282.7 483.5V648.9M284.5 573.3V613.2M284.7 525.5V583.4M285.6 565.6V579.4M285.7 529.6V576.7M286.6 561.5V585.6M288.2 488.1V679.6M288.6 519.4V578.4M289.7 532.1V562.2M290.3 589.1V659.8M291.1 512V551.7M291.4 516.1V552.1M291.9 558V585.9M292.7 557V587.4M293.4 527.9V585M294.4 526.8V596.9M294.3 509.7V663.8M294.8 572.8V606.4M295.8 546.4V583.4M295.7 557V598.2M297.7 478V537.3M297.5 562.5V607M298.7 555.2V596.7M299.2 525.2V577.6M299.8 579.6V634.2M299.9 575V623.3M300.5 547.8V609.1M301.6 589.7V626.4M302 563.1V615.5M302.6 517V559M303.1 501.1V513.7M303.8 592.1V620M304.4 485.3V514.7M304.8 513.3V551M305.1 498.1V552M305.9 551.4V604.7M306.2 512V573.6M306.7 536.3V555.8M307 558.6V593.6M306.9 455.1V523.9M308.3 473.5V658.9M308.3 474.7V518.8M309.2 501.6V593M309 515.3V556.6M309.9 516.8V622.5M310.4 517.6V613.1M311.6 558.9V599.5M312.3 487.8V543.1M312.7 539.8V601M313.8 567.9V621.1M316.1 521.2V567.3M316.4 520.6V555M317.1 549.9V586.4M317.4 508.4V550.6M318.1 472.1V500.7M318.9 531.7V572.1M319.3 501.4V568.8M319.6 521.1V611.3M319.8 535.4V580.3M320.3 561.5V586.2M320.5 523.5V551.6M320.6 535.5V580.2M322.3 561.7V598M323.4 511.8V581.1M324.1 497.8V519.5M324.8 574.4V614.2M325.4 535.9V593.6M325.3 523.4V551M326 556.5V599.1M326.6 502V547.5M326.4 550.5V581.4M327.5 526.8V595.2M328.8 502.5V527.8M329.4 549.9V587.2M329.6 543.7V576.1M329.7 510.5V573.1M330.5 566.4V637.2M331.4 563.3V612.2M332.2 517.6V619.5M332.9 575.3V603M333.1 460.6V501M333.3 528.4V558.7M333.8 558V596.3M334.6 485.6V528.6M335.6 578.9V628.9M337.5 544.4V580.2M338.1 546.4V624.1M338.7 518V572.1M339.1 507.1V553.4M339.5 557.7V613.6M340.5 589.9V631.1M341.1 542.1V586.6M341.8 539.6V568.1M341.9 560.2V594M342.4 501.2V566.6M342.8 552.7V580.4M343.5 492.4V549.3M344.5 533.9V582.2M346 497V626.2M346.1 509.6V533.7M346.5 506.6V566.2M347 569.6V620.5M347.2 486.8V540.2M347.7 548.5V580.6M347.8 481.8V534.9M348.3 513.3V562.7M350.2 491.8V539.5M350.3 538.1V590.3M350.7 529V593M351 505.6V559.7M351.7 567.9V603.4M351.6 501.4V552.8M354 561.2V586.2M354.8 579.3V611.8M355.7 572.3V612.4M356.2 525.7V558.6M357.1 533.5V578.3M357.5 483.6V560M357.9 502V554.3M358.2 555.5V578.5M358.8 572.6V626M359.8 523.2V559.6M360.9 456.7V510.1M363 529.6V584.3M362.8 579.4V620.3M363.5 522.7V581.4M364 496.2V561.5M365 529.6V590.3M366.1 574.4V617.8M366.6 547.2V600.4M367 526.9V578.5M369.2 497.2V556.9M369.8 515.9V540.8M371.2 544.1V589.7M371.4 483V615M371.6 524.1V564.7M371.9 491.4V542M372.6 550.6V593.6M373 550.8V599.7M373.4 557.9V607.2M373.6 515.2V542.2M373.9 560.7V579.4M374.5 515.3V561M375.1 521.3V571.7M375.8 504.7V564.4M376.9 565.4V602.2M378 516.6V561.1M378.1 502.1V537.7M378.7 525V568.3M379.8 521.2V563.3M380.5 534.2V563.7M381 574.1V640.2M381.4 503.8V537.7M381.9 558.4V598M383 498.9V551.5M384 538.3V594M384.3 548.5V597.3M385.6 470.2V504.7M386.8 502.4V541.5M387.9 473.7V522.7M388.2 426V553.7M388.5 555.8V605.3M391.9 508.7V561.5M392.1 570V609.5M393.9 549.7V624.9M394.1 550.4V597.2M395.3 522.4V562.3M396.2 533.3V584.7M396.7 523.3V578.1M397.1 465.3V518.6M397.9 474.8V518.3M398.7 582.8V647M398.8 525.6V578.3M399.2 531V593.6M399.8 558.5V590.9M400.9 572.6V597M401.9 558V602.8M402.5 587.7V640.8M402.7 522.5V575.6M403.3 558.4V586.5M403.7 567.3V598.4M404 495.2V560.9M404.2 513.4V597.3M404.7 537.9V603.9M406.2 521.3V551.7M407 511.4V562.2M407.7 528.9V580.9M408 506.7V546M409.9 546.8V596.1M409.8 519V576.4M411 467V538.6M411.2 515.6V560.9M411.2 501.3V550.3M411.9 502.3V539.6M418.2 551.3V598.9M418.7 520.8V564.8M418.7 555.4V599.2M420.2 506V554.4M420.5 564.4V587.1M421.2 529.9V583M421.9 590.6V625.3M422.4 572.2V601.6M422.7 518.7V582.5M423.2 578V615.7M424.1 526.8V562.4M424.9 581.9V647M425.5 521.3V576.7M426.5 511.2V546.8M426.8 559.6V603M428 521V562.5M428.4 513.9V572.1M428.6 548.9V614.5M429.4 523.8V572.4M429.5 548.5V589.1M430.4 510.8V581.4M431.1 488.5V511.9M431.2 526.3V570.7M431.8 483.7V617.9M432.3 527.7V599.5M432.4 513.9V554.2M433 533.3V590.3M434.5 570.5V610.5M435.3 526.8V564.8M435.3 550.5V599.6M436.4 502.1V548.6M436.8 524.4V562.1M437.3 553.6V592.3M438.1 555.2V603.6M438.9 528.3V566.9M440.1 483.5V700.2M440.7 521.9V575.4M441.3 527.2V571.4M442.1 616.2V668.4M443.6 522.1V558.4M444.1 558.4V612.4M445.6 512.7V543.9M446 526.4V574.8M446.3 563V611.2M446.8 509.1V572M447.5 531.6V585M447.7 571.4V602.4M448.4 594V626.1M448.8 544.6V582.5M449.1 522.5V552.9M449.5 532.3V564.3M450.1 486.1V528.7M450.4 565.6V597.1M450.5 569.5V622.3M451.3 552.2V597.2M451.5 515.3V540.5M453.4 571V630.5M453.7 573.6V611.5M454.4 492.3V529M454.7 578.6V630.9M455.2 552.5V598.1M456 573.5V620.7M456 596V639.2M457 498.9V541.6M457.3 490V525.5M457.9 548.9V589.4M458.1 499.1V542.9M458.7 606.6V638.1M459.5 502.9V570.2M459.5 542.4V593.6M460 576.8V612.5M460.5 563.3V610.1M461.1 506.5V559.3M461.6 566.9V621M462.5 531.6V570.7M462.4 594.9V630.9M463.5 558.1V591.6M463.4 563.4V603.3M463.7 488.7V543.9M464.6 540.7V606.7M465 534.9V566.5M465.4 525.3V550.8M465.7 556.8V587.9M466.3 566.9V601.9M466.8 540V574.1M467.3 507.5V566M468.3 528.9V597.5M468.5 516.6V551.3M469.1 533.4V578.9M469.9 540.2V599M470.5 604.1V630.1M471.3 552.5V591.1M472.2 539V583M472.1 553.4V588.3M472.8 527.5V580.8M473 583.2V617.4M473.2 506V535M474.6 542.6V597.8M475.4 581.2V639.7M477.5 555.3V586.7M478.6 534.5V574.8M478.6 493V549.9M479.2 585.2V614.1M480 502V563.2M480.1 539.8V576.4M480.4 553.7V624.2M481.6 615V652M482.1 553.7V605.7M482.6 483V598.5M482.7 481.2V581.2M483 525.1V586.2M484.5 537.9V571.6M485.1 472V537.2M485.6 546.4V554M487 597.1V644M488.7 509.1V570.8M488.6 538.9V581.3M489.3 539.3V588.4M489.8 583.7V599.9M489.8 502.2V546.6M490.2 539.8V556.6M492.2 507.2V556.3M492.6 530.2V564.6M493.6 582.9V610.2M494.3 550V584.9M494.6 516.8V588.6M495.9 610V675.7M496.5 503.9V524.3M496.7 526.1V566.4M497.5 550.3V593.2M498 555.2V590.3M499 489.1V539.3M501.4 479.4V532.8M501.6 555.7V601.1M501.9 516.7V569.4M502.7 521.2V563.1M503.1 557.2V603.3M504.4 530.4V567.9M504.7 540.2V588.7M504.8 435.1V606.5M505.8 592V654.5M506.7 510.5V565M507.1 558.3V613.5M507.6 574.2V607.9M508.5 589V644.7M509.1 542.1V579.5M509.6 514.6V646.4M510.4 593.2V609M511.1 526.6V562.1M511.9 565V591.2M514.2 516V580.9M514.9 516.9V563.5M515 546.7V597M515.5 556.3V620.5M516.6 530.1V545.8M517.2 533.8V632.6M518.3 488V529.3M518.4 537.4V588.3M518.9 512.4V574.6M519.4 564.2V624.1M520.8 501.6V569.4M521.3 536.5V592.7M521.6 480.5V554.8M522.2 521.9V574M523.1 547.2V601M523.1 534.4V593M523.6 508.5V566.9M524.4 572.7V614.5M524.4 516.7V568.3M525.1 543.2V583.9M525.5 524.6V558.3M526.1 549.6V612M526.8 586.9V629.5M527.8 517.3V570.3M528.2 539.1V589.8M529.2 549V591.5M529.5 483.9V530.9M529.7 559.8V610.7M530.5 520.4V548.4M530.6 489.9V532.3M531.5 481.4V528.3M532.4 510.9V660.2M532.9 509.8V556.2M533.3 500.8V542.8M533.7 529.9V562.9M534.1 530.2V576.4M534.3 572.1V615.4M535.8 512.6V573.6M537 440.9V495M537.3 529.8V552.7M538.1 498V541.6M538.1 510.2V570M538.9 523.8V586.3M539.6 485.1V661.3M540 465.8V629.2M540.9 528V566.9M541.4 539.3V584.4M541.7 498.8V553.9M542.6 581.7V644.7M543.3 497.5V540.6M544.3 512.7V626.7M545.2 503.7V575.3M546.4 520.3V557.5M546.9 505.9V569.5M547.3 532.7V593M547.5 485.5V526.5M549.9 554.5V597.4M550.3 517.7V558.5M551.1 492.5V552.2M551.6 552.7V595.2M552 554.4V615.8M552.2 565V594.5M552.8 567.1V606.1M553.9 536.4V570.8M554.2 530.4V584.5M554.8 463.6V525M555.2 521.7V570.2M555.4 534.4V583M557 504.2V643.4M557.2 554.7V590.7M557.7 529.6V579.7M558 540.4V592.1M559.4 621.1V685.8M561.1 534.3V582.1M561.7 529V586.2M563.6 554.5V606.6M564 496V531.9M564.8 512.3V551.9M566.6 533V584.5M567 522.2V564.8M567.3 588.2V594.5M568.1 496.8V564.5M568.1 540.5V566.2M568.5 544V590.6M569 541.4V608M569.5 535V560.5M570.4 539.9V587.7M570.6 518.8V584.7M571.7 504.8V564.3M572.2 537.8V604.8M572.7 521.9V574.7M574.6 567.6V603.6M575.4 533.7V586.9M577.6 544.2V600.1M578.4 515.3V559.2M578.8 489.5V525.8M579.5 561.3V601.6M579.9 524.1V570.6M580.4 556.4V578.8M581.1 511.8V564.4M581.3 533.6V614.7M582.1 516V591.8M583.3 479.1V524.7M583.5 552.2V604.8M584.9 498.1V556M585 500.3V558M586 584.4V629.6M586.8 575.2V602M587.1 560.9V612.2M587.8 526.8V566.2M588.5 523.5V581.5M589.3 582.1V616.2M589.9 485.1V649.9M590.5 479.1V512.3M591.9 559.5V596.9M592.3 553.4V603.1M592.5 536.9V568.3M592.5 538.6V587.1M593.2 564.8V625.8M593.6 516.3V583.2M595.1 525V578.5M596.1 548.9V604.7M596.5 517.9V556.1M596.8 529.2V579M598.2 502.4V561.1M599.2 571.5V609.3M599.7 525.3V575.6M600.3 543.6V595M601.3 513.8V549.6M601.7 503.5V556.9M602.1 533.1V588.6M603.3 498.3V544M603.7 561.3V641.9M604.2 525.5V574.7M604.1 594.8V632.2M605.5 568.9V615.9M605.7 543.3V593.2M606.6 520V552.6M607 540.8V584.3M607.7 462.8V532.3M608.2 516.9V570.9M608.1 534.2V577.9M608.9 553.1V609M610.1 552.3V607.7M611.1 550V600.7M611.1 541.1V561.4M611.6 564.4V618.9M612 481.2V528M612.5 536.7V590.1M613.4 539.3V591.8M614.1 487V583.1M614.2 561.6V617M614.8 546V609.8M615.2 523.9V565.1M616.1 504.6V535.2M617.2 579.9V605.8M617.7 522.7V574.7M618.6 522.9V568.6M619.3 584.4V645.6M620.4 524.5V559.5M621.4 570.6V607.3M622.4 530.3V585.2M623.6 511.4V560.2M624.5 489.4V532.7M624.8 566.9V617.5M625.3 547.5V574.5M625.8 470.4V520M626.8 517.6V642.9M627.5 522.2V583.4M627.8 587.5V620M628.7 573.5V623.5M629.2 508.7V576.1M629.8 560.9V596.2M630.4 556.2V615.4M630.5 546.5V604.4M631.2 546.1V590.9M632 460.8V605.4M632.1 606.6V646M632.5 519.3V575.3M632.8 477.1V527.7M634.1 523.2V583.6M635 533.9V584.5M636.3 559.7V611.7M636.5 508.5V569.9M636.5 526.4V578.3M637.2 532.6V572.6M638.4 493.6V549.8M638.7 570.5V591.7M640.2 484.5V529.4M640.5 517.1V556.3M641.7 525.2V576.2M642.6 551.9V595.2M643 594.4V643.8M643.9 539V587.8M644.9 499.3V560M645.6 511.2V556.2M646.3 522.3V563.3M646.8 500V621.8M647.3 586.7V637.7M647.6 522.2V585.4M649.2 527.1V576M649.7 640V675.2M650.6 526.2V558.6M651.1 519.4V562.4M651.1 514.4V549.8M652.5 564.7V645.1M652.8 494.3V566.4M653.6 514.9V561.6M654.2 533.2V570.8M655.1 499.6V558.1M655.8 537V597.8M655.9 488.7V540.6M656.9 515.8V558.5M656.9 531.9V593.1M658.6 507.9V577.1M658.9 478.1V509.9M659.3 604V653.8M660.1 566.7V605M661.2 545.9V597.5M662.3 532.7V573.5M662.8 529V575.6M663.6 568.4V630.9M664 583.7V642.3M664 486.5V647M664.5 564.4V611.2M665.1 564V619.3M666.6 607.9V643.2M668.5 553.7V597.1M669.4 579V614.7M670.2 563.2V610.6M670.2 523V572.9M672 524.5V569.1M672.7 544V605.3M673.1 544.3V577.9M673.5 520V588.1M673.7 434.9V639.1M675.3 494.8V554.1M676 508.9V567.8M675.8 537.9V576.9M676.6 530.7V574.6M677.8 519.6V584.4M678.2 581V639.5M678.3 589.1V653.2M678.9 571.6V589M679.2 556V616.6M679.5 510.1V627.9M680 474.8V524.5M680.3 503.3V562.7M681.2 605.3V668.6M681.6 532.3V581.3M682.3 488.4V542.8M682.6 497.5V545.7M683.6 533.9V590.5M684.8 477.8V519.4M686.1 487.7V550.6M686.3 509.5V558.4M688.9 534.4V595.5M689.3 542.2V600.8M689.2 525V568.7M690.1 530V574.9M690.4 512.8V548.9M690.6 520.8V580.5M691.2 553V610.1M692 551.8V617.1M692.5 543.9V566.5M692.5 541.2V581.5M694.2 582.7V619.3M694.8 526.7V581.1M695 477.3V616.2M696.2 481.7V596.3M696.8 506.3V552.2M697.4 481.5V586M697.6 459.5V503.6M697.8 557.5V597.1M698.5 448.8V618.7M699.4 526.3V570.4M700.1 545V607.5M700.3 540V599.1M701.1 558.3V593.7M701.3 521.1V567.3M701.9 535.3V596.1M702.1 591.9V631.6M703.8 568.5V606.2M704.4 581.1V616.8M705.4 542.9V600.4M707.3 521.6V568M707.9 551.4V595.7M708.4 454V518.5M708.9 576.9V629.4M710.4 471V535.9M710.9 572.8V633.6M711.3 512.9V564.2M712.5 583.5V636.5M713.1 499.8V543.9M713.4 528.7V568.3M713.4 543.7V568.6M713.8 617.6V665.7M714.2 582.6V616.9M715.1 549.6V597.4M715.9 547.5V604.3M717.3 515.7V550.3M717.8 532.9V584.6M719.1 536.3V578.2M719.6 554V598.7M720 454.4V625.1M720.3 518.6V556.5M721.2 527.3V587.1M722.8 532.7V575.2M723.4 515V567.9M723.8 526.1V589.9M724.3 554.8V624.5M724.7 548V597.7M725.4 539.3V590.6M725.7 519.3V577.3M726.5 548.1V599.8M726.8 538.8V587.9M727.4 515.3V548.1M728.1 463V508.5M728.2 560.9V579M728.8 491.8V556.9M728.8 559.7V623.5M729.9 506.6V574.1M730.3 514.8V546.7M731.1 569.3V627.3M731.2 512.8V553M731.6 485.4V576.8M735.1 566V618.6M735.9 531.3V559.4M735.7 551.7V609.1M736.5 501.4V546.2M736.9 569.6V614.5M737.7 533.5V569.7M737.5 487.8V543.5M738.6 533.4V587.7M739.4 490.5V558.1M739.8 558.4V590.7M740.2 588.1V643.2M740.5 503.2V655.6M740.9 582.3V624.7M742.3 507.2V545.4M743.1 553.2V603.6M743.3 612.8V660.1M745.1 534.2V578.5M746.2 543.5V592.2M747 515.9V557.8M747.3 566.7V614.1M747.9 515V559.6M748 532.9V595.7M748.3 540.8V601.4M749.3 535.7V568.4M750.2 549.8V576.6M750.9 578.4V602.1M751 567.3V614M751.7 479V519.1M752.1 531.2V569.8M752.1 523.5V577.2M753.3 566.4V608M754.3 498.1V547.4M755.7 515.8V580.5M757.1 571.4V599M758.3 465.8V532.8M758.1 539.5V584.2M759 524.2V561.8M759.7 529.9V575.6M761.1 492.7V548.2M761.9 523.2V554M762.9 567.3V599.1M763.9 502.2V562M764.1 531.2V589.8M765 481.9V524.9M765.2 566.3V597.5M766.1 458.3V503.2M766.7 502.5V565.3M767.4 553.7V603.7M767.9 561V628.2M769.1 481.6V541.9M769.7 616.8V658.5M770.2 539.5V584.5M771.1 518.1V564.2M771.9 532V580.7M772.5 540.3V592.5M772.7 554.6V593.7M773.3 537.5V572.6M773.7 554.9V587.8M774 586.8V636.7M775 583.3V633.1M775.8 578.5V649.8M776.1 551.2V599.5M777.7 476.3V520.5M777.6 539.1V551.7M778.3 558.8V613.4M778.5 554.8V612.9M779.3 543V593.4M780.6 533.1V574.1M780.9 523.7V581.4M781.6 488.8V551.6M781.8 533.5V573.8M782.4 491.9V568.8M782.8 562.5V602.4M783.4 567.3V600.6M783.4 530.2V595.5M786.4 501.2V555.4M790.4 543.4V567.3M790.7 544.5V592.6M791.6 536.7V586M793.3 510.8V578M794.8 555.2V586.3M795.2 556.6V594.5M796 520.1V550.3M796.6 521.2V564.3M797.1 524.1V572.4M797.8 535.6V604.3M798.1 589.1V649M798.8 572.2V605.4M799.1 566.6V593.8M799.5 558.2V606.6M800.3 598.7V653.8M802.1 514.5V582.8M803.5 531.4V595.9M804.8 509V538.1M805.3 464.1V579.5M805.9 495.8V547.6M806.6 552V608.3M807.4 573.1V631M808.3 490.1V537.4M809.2 457.1V587.2M810.2 513.2V546M810.6 499.4V555.3M811.3 550.7V589.4M811.3 486.1V524M811.6 566.2V601.6M813 517.3V564.5M814.1 553.3V600.3M814 564.2V612.4M814.9 587.9V644.1M815.2 538.2V575.9M815.7 478.7V528.3M815.9 517.3V570.4M816.9 544.2V594.8M817.6 538V581.4M818.8 508.5V567.2M819.2 555.3V605.7M819.5 519.8V586.1M820.1 523.3V576.2M820.4 512.8V553M821 553.5V564.4M821.7 535.9V595.4M822.1 531.5V600.3M822.3 502.9V561.3M822.3 554.3V584.1M822.9 498.4V550.1M822.9 522.5V578.1M824.1 559.8V625.7M824.8 542.1V562.8M825.5 553V610.2M825.5 528.6V583.3M826.2 519.3V573.6M826.6 521.1V581.9M827.1 541.2V577.7M827.6 555V602M828 550.4V573M828.2 546.7V605.4M828.5 501.7V557.3M828.8 507.9V556.1M829.5 479.6V671.8M830.3 539.8V589.7M830.7 544.8V606.3M831 475.6V502.8M832.1 504.7V566.5M833.3 551.3V580M833.6 517.9V562.1M834.2 554.6V590M836.1 546.8V600M838.4 468.6V524.7M839 474.6V604.9M839.3 513.7V543.2M840.5 531.7V573M840.5 527.6V595.9M841 527.7V582.7M842 546.4V596.1M842.2 509.4V582.2M842.5 573.1V619M843.2 566.9V586.9M843.9 527.7V590.2M844.4 519.8V573.3M844.7 571.5V606M845.1 518.5V538.1M845.1 562.7V595.4M846.4 555.1V605.4M847.1 518.8V569M847.3 466.4V516M848.1 575.4V610.1M848.2 519.9V570.2M849.5 478.9V536M849.6 583.6V616.4M850.2 491.1V532.7M850.5 543.7V590.1M851.2 563.3V576.7M851.8 553.1V590.8M852.3 534.9V586.2M852.8 536.2V581.4M854.1 521V569.9M856 508.6V587.7M857.3 533.8V589.9M858.1 455.9V605.3M858.2 502.5V540.9M859 574.4V626.7M860 571.6V591.4M860.3 555.4V610.2M862.8 573.2V616.7M863.2 530.3V565.5M863.5 525.4V566M864.6 541.2V570.1M864.6 529V593M864.8 580.9V617.3M865.3 541V590.4M866.4 513.5V561.4M867 456.1V491M867.1 512V530.4M868.6 483.6V512.3M868.6 543V578.8M869.2 526.3V593.7M869.8 535.2V585.9M870.1 543.5V597.1M870.5 538V585.6M871.1 500.1V600.2M871.3 531.1V542.4M871.9 511V554.8M872.8 557.7V605.1M873.2 506.3V548.6M873.9 548.2V568.4M874.7 554.5V584.1M876.4 550.6V608.2M877.2 513.8V576.9M878.1 579.1V631.5M878.4 575.9V617.4M878.6 495V534.6M879.1 502.4V542.8M880.1 561V600.8M880.2 556.8V612.9M880.6 557.4V602.5M880.9 540V580.1M881.5 566.8V612M881.5 526V571.9M882.9 542.6V597.8M883.1 519.7V570.7M884.8 534.9V589.8M885.2 554.1V587.7M886.3 521.2V580.5M886.6 526.7V578.6M887.5 568.6V619.1M888.9 574.8V614.5M889.1 548.1V607.9M889.7 562.4V612.4M890.2 448.5V614.7M890.5 503.2V563.7M890.7 543V588.4M892.1 545.7V586.3M892.7 571.5V602.8M893.5 521.8V604.8M893.6 518.4V587.7M894.9 544.9V611.3M895.3 540.9V592.7M895.5 563.3V632.3M896.6 580V636.7M897.3 548.8V599.8M897.7 502.7V545.2M897.7 551.6V598.8M898.9 531.6V576.6M899.5 518.9V563.2M899.6 490.5V550M899.9 557V608.7M900.5 493.2V623.1M901 506.3V575M901.9 541.5V573.1M902 513.2V548.9M902.8 550.4V599.3M903 512V556.6M903.5 570.6V631.4M904.4 539.4V585.5M904.8 507.2V648.1M905.2 557.7V599.7M905.6 574.1V613.3M905.5 520.7V572.6M906.9 528.3V555.1M907.6 485.5V580.4M908.9 519.9V578.5M909.1 555.2V590.5M909.3 517.5V596.4M911.2 533.3V584.9M911.5 485.3V520.7M913.2 489.8V521.7M913.1 560.5V619.3M913.8 494.5V550.7M914.2 564.3V618.8M915 481.3V568.7M915.4 529.9V600.5M915.9 541.3V590.9M916.1 571V612.7M916.6 499.3V530.6M917.1 562.3V609.7M917.6 549.4V568.7M918.7 540.6V581.4M919.7 550V601.2M920.2 510.3V546.7M922 544.6V597.4M922.3 553.4V595.6M923 576.7V637.6M924.1 568.1V619.9M924.6 505.3V574.8M925 572V620.6M925.6 527.4V573M926.1 518.4V569.6M927.2 556.5V593.5M928.5 527.8V589.7M929.1 515.1V551.5M929.2 516.1V577.8M929.7 544.3V593.5M929.7 569.7V626.9M930.9 587.3V651.5M932.2 530.1V586.8M933.1 548.4V589.3M933.2 535.2V648.4M934 494.1V541.4M934.1 558.1V593.8M934.7 580.3V628.4M934.8 482.1V535.8M935.6 489.8V534.2M936.6 540.6V569.2M936.5 544.3V563.7M937.4 576.9V602.3M937.7 520.9V567.3M937.7 524.6V585.6M938.4 538.1V585.4M938.7 505.4V558.4M940 527.6V585.5M940.3 554.6V605M940.7 570.5V615.9M941.6 484V547.3M941.7 524.3V578.4M942.5 506.6V552.9M943 567.6V622.5M943.8 566.9V596.3M944.6 534.9V597.9M944.9 572.3V642.2M945.8 513.1V555.3M946.3 512.4V565.6M947.5 506V563.1M947.9 571.9V594.3M948.7 588.5V610.6M949 516.7V546.8M949.7 557.3V600.6M949.6 498.5V534.6M951.1 526V571.5M952.2 531.3V585.4M952.5 502.5V541.8M953.2 555.4V615.5M954.2 501.3V627.1M955 501.2V673.7M955.5 544.5V577.2M955.7 482.3V593.1M956 510.5V547.5M956.7 528.8V579.9M957.7 532.5V563.9M958.2 530.9V588.3M960.5 553V595.5M960.9 474.8V541.4M961.7 551.2V573.5M963.5 534.4V571.8M963.9 531.3V582.2M964.1 501.7V534.8M965.6 527.9V582.2M965.8 533.2V583.7M965.8 539.8V602.3M966.2 532.6V568.7M966.5 563.9V603.6M966.9 522.2V570.9M967.3 479.8V590.7M967.7 490.1V536.6M968.5 554.6V588.8M968.8 531.3V583.1M969.6 508.6V540.8M970.2 545.7V598.7M970.3 567.4V592.5M970.8 479.9V530.8M971.2 553.6V607.1M971.3 485.7V529.2M972.6 539.4V586.1M973.9 552.9V574.9M975.1 472.4V528.7M975.5 555.9V604.5M976.1 529.8V587M977 550.9V581.8M979.1 500.2V544.7M979.6 466.4V621.1M979.9 548V598.2M980 521.3V570.7M980.7 505V535.2M982.7 553.7V587.7M983.2 545.1V603.3M983.5 468.4V598.7M983.9 540.2V580M984.2 517V572.3M984.7 537V592.9M985.1 513.8V564.8M985.7 530.8V581.2M986.3 533.8V576M989 545.3V591.8M989.7 540.6V580.2M990.4 576V645M990.9 520V568.4M990.9 505.9V560.1M991.5 506V560.1M993.2 518.1V572.9M993.7 590.4V648.4M995.9 535.3V577.1M996.8 531.2V575.1M997.9 491.3V533.1M999.5 546.6V594.6M999.6 483.5V534.1M999.7 536.9V593M1000.2 528.2V570.4M1000.9 544.1V604M1001.5 543.6V597.2M1001.9 548.7V587.8M1002.8 510.8V586.4M1003 492.5V528.4M1003.3 532.7V595.9M1003.7 591.1V620M1004.4 477.3V516.3M1005 528.9V593.5M1005.9 541.1V559.4M1006 568.8V645.7M1006.6 528.8V599M1007.1 511.5V546M1007.7 527.2V565.3M1008.2 611.4V626.9M1009 577.8V625.4M1010.1 513.5V554.7M1010.9 518.5V529.8M1011.4 561.7V621.7M1012.2 541V572.3M1012.6 517.7V571.4M1013.1 549.3V589.8M1013.8 554.9V613.6M1015.1 601.8V646.2M1015.4 565.8V602.1M1016 523.2V562.7M1016 500.7V547.4M1017.1 557.9V600.5M1018.5 525.4V547.3M1019.5 513.6V577.8M1019.8 538.7V571.7M1021.9 529.8V627.7M1022.2 495.8V561.2M1022.5 528.1V573.7M1023.3 527.8V557.3M1023.6 563.9V609.5M1024.6 542.7V578.3M1025 540.4V578M1025.7 465.5V637.7M1026.3 549.4V597.5M1026.7 520.7V572.9M1026.8 477.7V522.9M1027.4 533.5V564.2M1027.7 507.4V580.5M1028.6 597.7V635M1028.7 541V582.1M1029.5 567.6V633.1M1029.7 555.7V608.5M1030.1 503.1V600.8M1030.9 483.1V540.3M1031.9 545.1V598.3M1032.6 510.9V562.9M1032.7 554V648.4M1032.9 485.2V629.2M1033.4 530.3V578.7M1034.1 477.3V593.8M1034.4 550.8V585.4M1034.8 537.5V586.6M1036.1 558.5V610.8M1036.8 546.9V591.3M1037.4 469.1V524M1037.7 563V624.1M1038 532.3V585.9M1039.4 526.9V557.9M1040.3 528.7V577.5M1040.9 538.6V583M1041.3 544.2V578.1M1041.5 551.6V592.8M1042.3 520.5V583.4M1042.5 561.9V610.5M1043.4 524.2V612.3M1043.3 528.1V576M1043.7 574.7V639.2M1046.6 528.7V578.2M1047.3 546.4V595.4M1047.4 524.7V571.1M1048.3 549.2V587.1M1048.8 523.9V557.7M1049.6 545.9V594.3M1051.1 533.5V594.9M1051.1 578.5V620.4M1051.6 590.3V629.1M1052.5 528.8V582.4M1053.2 525V560.4M1053.8 594.2V659.7M1054.6 577.6V621.5"/>
<path stroke="#555" stroke-width="1.30" d="M143.4 499.7V565.3M143.8 460.5V516.3M149.5 509.2V560.9M149.5 528.4V596.5M152 521.7V562.2M152.3 515.6V594.9M152.8 467.5V528.4M154 519.6V578.6M154.5 504.2V578.7M161.6 540.4V587.7M166.2 533.3V588.9M173.7 479.9V517.2M183.4 550.9V585.2M183.8 558V617.8M184.5 504.8V574M186.4 561.3V622.9M187.5 546.2V576.5M188.9 452.9V500.2M191.7 566.3V617.7M204.4 476.3V524.2M205.2 488.1V534.6M208.1 497.7V529.8M213.6 515.9V578.8M215 547.7V612.7M220.7 565V612.4M221.8 542.4V561.1M225.5 547.7V602.8M230.7 517.9V590.1M240.4 525.9V596M240.9 466.3V631.9M245.3 562.6V600.6M246.5 569.2V592.8M247.1 575.5V621.5M248.3 555.9V578.8M249.3 498.4V640.8M253.6 526.4V555.9M256.2 561.1V614.3M257.5 518.4V575.8M259.5 568.3V619.5M261.3 523.9V550.6M264.7 534.6V584.4M267.7 549.3V578.4M271.6 578.4V615.4M277.3 486.3V637.4M283.6 566.2V614.5M286.2 539.8V581.1M287.2 566.3V607.4M287.8 503.3V553.8M289.2 501.5V562.1M296.3 556.4V608.2M297.3 523.1V576M298.3 536.9V569.6M300.5 559.9V598.6M300.7 590V637.8M309.6 538.8V577.7M315.1 512.4V565.9M315.7 513.1V562.7M321.7 528.5V588.2M323.2 568.6V602.6M323.7 488.8V564.3M324.6 523.2V564.6M332.2 536.5V571.6M335.6 547.4V602.9M336.1 507.5V560M339.2 522.5V559.1M340.2 525.2V585.2M341.2 531.2V580.8M348.5 538.3V572.7M352 565.2V629.1M353.9 511.8V556.9M357.9 566.7V639.3M359.9 471.9V595.4M361.6 527.4V557.4M361.8 513.1V542.2M364.7 520.5V575.3M365 546.1V608.5M367.2 561.9V622.9M368.4 520.3V566.9M369.5 552.5V626.1M370.5 520.9V568.7M375 464V520.4M376.3 489.5V550M376.9 518.5V560.9M382 579.2V623.2M382.5 531.8V579.2M382.6 556.2V598.4M385.4 532.1V579.6M389.9 571.4V595.3M390.8 538.2V572.6M391.2 503V558.5M391.5 585.5V628.5M392.7 539.9V578.4M395.4 497.6V537.3M398 547V596.5M399.3 522.7V558.6M400.3 518.4V612.4M405.8 512.4V562.7M406.8 581.4V609.2M410.2 411.3V480.8M412.6 547.2V584.6M427.4 527.5V551.2M433.9 545.5V579M436.4 573.7V607.2M438.6 543.5V590.2M441.6 534.4V588M442.2 534V569.8M443.1 486.4V542.6M443.8 548.4V594.1M445.6 575.6V624.7M447.1 518.8V556.7M448 566.3V588.3M452.6 565V607.7M454 523.6V564.4M466.9 575.2V604.1M470 570.6V615.6M473.7 515.5V565.5M476.1 488.4V530.8M476.8 548.1V607.2M478.2 507.1V560M480.8 548.5V584.9M483.9 565.9V585.1M484 569.4V605.1M486.3 468.7V610.7M491.6 550.1V599.3M493.5 506.7V565.5M493.9 537V587.9M497 506.4V548.1M499.7 588.9V640.7M504 489.1V538.7M514.1 503.4V562.4M514.4 556.6V615.8M519.7 491V537.5M524.1 568.1V595.4M534.5 501.5V617.4M535.4 548.3V595M536.6 487.6V525.8M537.6 521V572M539.8 545.7V609.5M542.5 551.6V592.2M546.1 561.7V611.1M549 527.1V594.8M549.4 563.4V608.4M550.3 571.8V644.4M554.3 543V579.1M556.1 510.3V553.4M559.3 536.9V583.7M562 551V603.9M562.7 516V561.2M565.8 550.2V587.8M572.4 569.8V623M572.9 584.1V634.7M573.7 511.4V569.7M576.9 535.4V576.3M577.4 573.3V611M579 550.8V600.9M582.6 533.7V588.2M582.8 579.2V628.9M585.3 561.9V617.7M586.8 540.1V577M587.5 543.4V579.2M590.7 543.4V608.4M591 541.4V571.6M591.6 528.3V556.5M597.3 543.1V600.7M598.8 481.5V539.5M606.3 541.4V589.9M608.9 554.2V597.8M610.6 589.4V652.4M613.7 581.4V646.9M615.7 495.3V512.2M615.8 492.8V531.9M619.4 551.4V620.8M619.8 462.2V630.6M620.3 554.9V596M621.2 495.1V551.9M625.1 522.6V585.4M627 527.2V574.5M633.2 510.7V560M634.8 508.2V555.8M637.4 548.9V586M642.4 500.2V544.8M644.5 566.5V593.5M646.3 512V565.1M648.2 527.8V572.8M648.8 547.5V598.6M650 533.1V578.4M652.4 531.9V574.1M661.7 560.6V596M665 565.4V600.3M667.3 524.2V670.3M667.6 533.4V570.5M668.7 576.5V635M669.2 555.2V596.8M669.4 521.9V572M677 498.3V538.8M685.4 550V604.5M685.9 472.4V526.1M687.5 524.5V550.1M688.3 455.1V598.5M691.4 535.8V582.7M692.8 568.5V611.3M696.9 567.2V613.3M698.4 521.7V570.8M702.5 510.6V566.6M704 543V652.5M709.9 470.1V532.2M710.6 496.2V571.7M715.4 548.3V608.4M716.8 571.3V606.3M716.7 445.6V555.5M718.3 604.8V657.7M720 572.4V610.9M721.8 546.5V600.2M722.3 526.3V578.5M725.2 556.4V614.4M726.8 590.4V624.3M732.7 564.2V606.5M734.1 541.2V580.5M744.1 545.5V598.9M745.3 521.8V572.1M747 510.7V585.9M749.4 522.7V562.6M752.8 555.5V602.3M754.5 560.8V610M755.7 527.5V546.3M758.9 489V501.7M760.4 544.9V588.3M763.6 575V602.1M765.5 530V557.7M767.4 526.7V564.9M769.6 516.5V586M771.8 541V586.9M780.3 545V578.2M781.6 554.2V609.6M788.5 557.4V662.2M788.4 523V572.6M789.5 552.7V590.6M792.8 512.1V570.9M794.1 542.7V567.2M794.6 560.2V610.5M798.5 521.7V574.6M801.2 549V604.3M802.2 536.2V570.5M802.4 469.5V510.7M803.9 529.4V595.4M806.8 531.6V581.6M810.2 563.3V591.1M813.2 542.4V605.4M831.7 527.9V567M831.7 489.2V542.6M833.8 557.8V592.8M835.5 519.9V593.5M838.2 561.4V602.7M841.4 543.9V583.4M841.6 558V600.8M843.6 526.3V570.7M845.8 467V496.1M848.8 543.4V600.6M851.2 527.8V560.7M854.2 526.4V561.3M856.9 558.8V606.2M858.4 555.9V607.4M859.5 548V607.6M861.2 556.1V589.2M862.3 560.1V603.7M866 535.4V611.6M871.4 589.5V645.2M872.5 497V557.4M874.6 501.1V536M875 541.7V605.9M875.9 505.6V558.1M878 518.8V582.3M883.3 509.9V562.5M883.7 574.1V624.6M884.6 485.2V669.7M885.7 540.6V566.4M888.7 527.5V587.2M894.1 524.5V598.3M896.2 559.4V607.8M901.7 605.7V651.5M903.8 538.3V590.1M909.6 490.7V543.3M910.4 471.4V603.5M914.6 564.1V605M917.8 535.3V589M918.7 532.3V581.5M919.3 590.3V652.3M921.3 572.4V602.3M931.7 497.7V533.9M946.6 520V591M950.8 508.6V644.9M953.4 517.6V573M953.9 613V669.5M957.1 520.4V561.5M957.3 528.6V573.8M959.5 513.3V636.4M959.6 593.4V622.1M974.4 537.3V595.5M974.8 500.6V590M976.7 528.9V581.3M977.2 486.5V525.1M977.5 564.9V585M981.4 526.7V589.1M983.1 513.9V556.3M987.6 537V566.6M991.9 504.4V559M995.8 551.1V608.5M996.4 553V595.9M996.9 554.5V597.2M997.8 528.1V574.8M1004.2 455.3V506M1007 533.5V582.9M1008.5 530.4V568.8M1009.5 560.1V610.1M1011.1 511.5V558.5M1013 516V563.7M1014.5 504.7V565M1018.2 577.2V619.1M1021.5 532.1V580.6M1023.9 517.2V588.5M1024.3 525.7V590.8M1028 551.1V581M1030.5 524V580.4M1038.8 536.9V561M1039.8 542.5V593.6M1044.6 413.3V601.1M1045.2 483.1V529.3M1045.8 545V586.5M1052.5 585V625.9M1054.1 539.4V606.1"/>
</g>
<g clip-path="url(#c2)" fill="none">
<path stroke="#000" stroke-width="1.30" d="M141.5 850.5V905.1M141.6 795V907.8M142.4 864.3V909.1M143.2 875.7V901.6M143.5 747.5V894.4M143.7 849.2V873.7M144.3 779.7V960M145.7 886.6V941.5M146.3 830.6V876.5M146.9 884.6V929.6M147.5 874.5V926.2M148.3 833.7V924.1M148.8 862.2V908.5M149.5 817V856.5M149.8 855.2V884.4M150.2 830.8V870.5M150.3 768.7V813.3M150.8 840.9V892.5M150.7 861.4V910.5M151.3 803.8V907.9M152.4 875.2V896.4M153.1 812.7V862.6M153 834.8V894M155 846.6V879M155.9 868.1V924.3M156.7 844.5V899M156.9 887.4V919.5M157.3 827.1V889.6M158.2 900V910.3M158.8 841.6V893.4M158.8 841.7V872.6M159.2 878.5V915.9M159.9 785.2V923.6M160.6 837.4V882.1M160.9 811.2V861.2M161.3 862.8V908.5M161.7 846.4V893.8M162 881.3V929.3M162.5 841.1V892.7M164.5 870.2V908.7M164.6 864.9V905.6M164.8 843.4V905.8M166.1 874.6V940M166.1 868.8V915.4M166.4 887.8V930.6M167.2 836.1V868.9M167.6 845.2V882.6M168.2 846.5V889.5M168.5 879.7V927.7M168.5 835.3V886.2M169.3 791.1V845.8M169.6 868.7V890.5M170.2 885.9V942.8M170.5 844.3V888.3M171.1 844.5V879.3M171.9 841.5V889M171.7 848.7V907.8M172.2 835.2V902.7M172.3 874.4V927.4M173.5 860V897M174.7 831.3V870.1M174.5 834.7V876.1M175.1 869.7V904.9M176.9 876V944.5M177.6 870.1V897M178 842.8V895.3M178.7 839.7V866.9M180.3 906.4V946.6M181.1 884.5V933M181.2 838.8V874.3M181.5 825.4V868.4M182.5 862.4V900.5M183 871.7V916.3M183.2 839.9V898.3M184 860.6V897.4M184.7 820.9V847M184.8 823.3V902.1M186 845.4V902.2M186.4 898.2V925.1M187 839.4V884.7M186.9 840.2V892.2M187.8 829V872.8M188.1 829.9V877.8M188.8 847.9V901.8M189.5 833V882.6M189.7 844.6V894.3M191.3 843.1V881.6M191.6 855.4V894.4M193.4 912V934.9M193.7 818.1V868.3M193.8 868.5V904.2M194.5 814.1V934.6M194.6 860.5V877.7M195.3 864.2V901.9M195.3 853.6V913.6M195.9 802.5V855M196.6 832V849.9M197.5 848V885.3M197.7 825.4V888.7M198.9 868.2V907.5M199.2 836.7V865.9M199.7 875V903.2M199.8 848.3V855.5M200.8 855.9V890.8M201 843.5V1022.3M202.9 868.3V915M204 850.5V920.9M204.1 821.1V877.8M205 914.9V961.7M205.3 839.3V876.5M205.7 838.4V885.3M205.9 872.6V906.2M207.4 887.8V938.1M208.1 841.2V873.7M208.5 817.2V853.1M208.8 838.1V891.8M210.2 849.7V882.3M212.2 841V893.2M213.2 877.9V913.9M213.2 818.8V864.2M213.7 847.7V888.7M214.2 841.9V905.8M214.5 850.7V887.3M215.7 832.1V886.5M215.8 837.9V878.7M216.1 828.1V888.3M216.8 824.7V853.6M217.1 840.8V874.4M217.4 890.7V950.4M217.7 864.9V900.4M217.9 852.2V879.6M218.7 900.6V943.4M218.9 853.6V889M220.1 796.7V912.1M220.3 856.1V876.6M220.9 862.3V898.7M221.7 857.1V911.8M222.3 879.7V929M222.7 832V855.5M223.3 829.8V871.3M223.9 826.6V857.6M224.9 839.8V921.2M225.2 842.5V875.5M225.8 851.8V891.2M226.6 868.4V886M227.2 864.3V888.2M227.2 838.9V873.4M228.1 827.7V866.9M228.3 880.4V928.3M228.9 831V857M229.4 892.4V922.5M230.5 856.9V909.6M231.8 829.4V875.1M233.1 847.8V879.4M233.3 832V894.1M233.5 851V903.7M233.7 879V924.7M234.3 896.4V939.8M234.5 840.9V867.1M235.1 848.4V872M235.9 847.5V898.5M236.6 844V880M236.7 836.4V869.1M237.1 874.1V911M237.8 836.3V875.1M238.2 847.3V889.9M239.4 814.9V842.2M239.9 846.6V911.4M239.9 829.6V875.4M241 836.5V874.1M241.3 848.5V879.4M242.1 866.3V912.2M242.2 896.2V919.9M242.6 815.8V963.1M243.4 866.1V910.4M243.5 857.6V895.2M244.9 880.9V895.9M245.6 906.6V939.4M247.5 891.1V922.4M247.9 887V929M247.8 864.9V904.6M248.5 816.7V856.4M249.2 829.3V869.1M249.8 823.9V855.4M250.5 828.4V872.6M250.8 844.7V906.4M251.1 870.1V891.6M251.4 858.7V897.7M252.1 842.1V877.9M252.6 869.8V898.8M253.3 865.9V909.7M254.8 867.9V912.8M255 886.7V953.5M255.2 844.9V889.1M255.7 877.2V912.2M256 807.8V832.3M256.7 863.3V892.8M257.1 839.7V900.3M257.2 819V879.6M257.8 858.4V876.5M258.4 875V913.9M258.7 860.6V904.3M259.4 917.6V944.8M259.7 842.8V886.7M260.1 895.1V927.4M260.8 840.1V876.5M261.8 889.3V938.9M262.2 846.3V899.2M262.6 878.3V906.8M263.4 833.8V887.1M264.4 851.2V892.6M265.1 857.1V917M265.5 850.3V871.1M266.8 814.5V845.7M267.3 867.1V915.6M268.9 848.8V923.1M270.6 876.9V922.4M271.5 867.9V908.6M272 877.3V936M272.2 822.6V872.5M272.7 875.1V922.3M272.7 868.9V916.7M273.6 881V916.4M273.8 850.9V903.5M273.9 855.8V882.9M274.1 842.8V877.8M274.5 858.1V908.8M274.9 848.9V883.4M275.5 850.1V956.5M275.8 919.1V955M276.6 860.1V905.6M276.8 847.3V894.1M277.1 827.2V888.8M277.7 819.5V848.5M278.3 823.3V860.3M278.9 840.8V892.1M279.3 862.6V898.1M279.3 835.1V871.7M280.2 881.8V909M281 858.3V922.9M281.1 848.8V921.7M281.4 853.3V907.7M281.8 850V908M282.1 834V895.3M282.6 855.7V901.5M283 877.1V926M283.6 829.5V859.4M283.9 883.8V924.8M284.1 855.9V904.8M284.7 835.8V889.2M284.6 862.1V912.8M285 853.8V886.1M286.5 831.8V885.4M287.9 828.1V869.7M287.8 865.5V897.8M288.4 837.5V897.9M288.8 849V878.6M289.4 879.6V898.8M289.4 860.2V897.7M290.1 893.1V925.5M290.7 854.6V891.1M291.2 880.4V919.9M291.5 850V902.2M291.7 850V912.7M292.6 865.7V910.6M293.3 835.3V858.7M293.6 848.5V886.3M294.2 830.7V889.8M294.4 891.6V943.9M295.6 844V896.4M295.8 840.2V876M296.5 848.5V896.6M296.6 859.8V909.3M297.3 836.9V883.7M298.2 860.2V910.9M298.8 840.3V888.5M299.1 845.3V901.7M299.5 863.6V915.1M299.4 851.3V924.8M300.8 899.2V950.1M301.1 855.9V877.6M301.6 911.3V949M301.9 798.6V835.4M303 879.7V902.9M303.4 821.2V868.7M303.3 822.4V874.3M303.6 833.3V889.1M304.1 826.6V853.6M304.8 820.1V855.6M304.8 825.2V861.4M305.3 863.2V912.5M305.7 842.8V886.7M305.9 871.6V900.9M306.7 831V876.6M307.4 803.4V837.8M307.7 842.4V885.8M308.7 879.9V918.9M309.1 834.3V877M309.8 844.9V878.4M309.9 817.4V893.6M310.1 866.5V887.8M311.1 824.7V885.6M311.7 816.2V868M313.2 880.8V912M313.3 770.5V921.3M313.9 848.8V897.9M314.6 891.5V929M315.3 845.5V903.7M316.7 849.1V897.2M317.1 814V864.1M317.2 859.3V903M317.7 865.4V914.3M318 813.5V860.8M318.9 816.1V850.8M319.3 893V910M319.2 837.5V878.7M319.8 848.1V887.4M320.3 841.4V895.6M320.4 873.1V911M321.4 868.5V921.4M321.7 819.7V858.5M322.1 816.3V920.7M322.4 836.6V899.9M323.9 873.5V904.1M324.6 844.3V898.9M325.1 796.5V824M325.5 842.6V886M326 858V891.9M326.2 860.6V893.8M327.1 832.8V890.2M327.6 844.1V893.1M328.2 823.4V857M328.6 837V873.8M329.4 883.5V925M329.3 855.1V897.2M329.9 784V953.2M330.4 839.2V868.7M330.5 836.4V877.9M331.3 834.2V887.2M332.7 841.4V867.4M333.6 872V899.2M334.7 877.4V915.3M335.5 834.6V883M335.6 851.9V883.7M335.8 852V895.4M336.5 847.8V881.2M337.9 861V899M338 845V876.3M338.3 891.2V937.6M338.9 860.1V906.3M339.5 889.9V918.1M339.7 847.4V897.3M339.8 842.1V869.7M340.4 854.9V892.2M340.9 805.9V865.8M342.3 861.3V891M342.6 804.2V847.3M343.8 862.7V894.4M344.2 839.6V879.7M344.3 830.2V874.4M344.9 792.1V832.8M345.5 857.1V889.3M346.3 857V881.1M348.2 835.3V877.7M349.6 899.9V927.7M350.2 911.7V948.7M350.5 874.4V919.1M351 862.4V917.2M351.4 866.3V911.1M351.4 874.9V929.2M351.8 875.4V913M352.4 855V893.7M353.6 841.4V877M354.3 833.6V849.9M354.3 820V875.2M354.6 827V890.5M354.9 830V883.4M355.4 844.8V896.4M355.8 861.9V906.2M356.1 851.6V891.6M357.1 859.5V912.8M357.3 896.1V941.9M359.6 859.3V897.7M360 819.4V876.8M360.1 884.6V933.7M360.8 830V876.5M360.6 828.2V885.8M362.4 815.4V831.9M362.6 835.7V866.9M362.8 880.6V919.7M363.7 878V919.4M364.2 873.7V910.8M365.1 864.8V903.1M365.4 857V887.5M366.7 892.9V945M366.8 829.8V867.5M368 801.3V841.6M368.1 865.8V912.7M368.8 854.5V908.4M369.5 881.3V938.3M369.3 828.7V924.1M370.8 805.7V855.3M371.5 860.6V902.3M372.2 783.7V833.6M373.4 833.4V888.6M373.5 859.6V904.2M374.1 829.2V876.4M374.5 854.5V900.9M375 853.5V881M376.1 879V908.3M376.9 843.6V905.7M377.2 856.1V912.2M377.9 860.5V897.9M378.4 820.8V887.7M379.4 871.1V899M379.7 833.2V865.8M380.3 856.6V900.2M380.7 839.2V903.3M380.8 852.5V893.7M382.4 812.6V889.2M382.4 834V875.9M383.1 827V928.9M383.8 860.9V929M385 854.8V879.8M385.1 871.3V887M385.1 845.1V880.5M386 880.2V907M385.9 849.6V902.7M386.8 857.8V892.7M387 831.9V904.2M387.9 859.1V897.2M388.4 832.6V889M388.6 831.8V869.7M389.2 883.3V928.3M389.4 828.8V887.2M389.7 861V902.7M390.1 854.3V915.5M390.6 861.1V898.2M392.1 877.1V940.5M392.1 853.6V906.7M393.1 830.8V859M393.6 836.3V961.3M393.8 877.9V907.7M394.4 822.4V957.2M394.7 872.1V910.9M395.8 844.1V881.5M395.9 831.8V888.5M396 870.6V893.8M396.5 875.3V925.5M397 845.3V877.1M397.5 830.9V875.3M398.3 866.3V893.7M398.8 831.7V866.7M398.9 868V898.2M399.6 853.7V892.2M400.3 823.4V865.5M400.7 861V883.7M401 841V934.8M402.2 816V862.3M402.9 799.5V849.7M404 841.1V889.6M404 863.1V889.6M404.7 845.3V867.7M405 914.5V955.1M405.6 840.7V906.5M406.3 848.6V884.2M406.7 863.3V913.1M407.5 826.5V875.4M407.7 843V883.2M408.7 848.5V881.2M408.9 856.7V913.1M409 847.6V898.8M409.9 814.1V863.1M410 856.9V905.5M410.2 841.3V883M411.3 842.4V878.8M411.6 833.4V899.4M411.9 893.4V931.7M412.3 866.8V917.5M417.9 817.1V894.1M419.1 849.1V890.6M419.8 819.7V875.7M419.8 856.2V889.7M420.3 887.9V924.3M420.8 852V902.5M421.5 877V912.7M421.6 837.4V864.3M422.4 838V850.6M423 832.9V875.4M423.6 826V857.6M423.8 872.5V911.7M425 827.7V869.1M426 824.4V875.4M426.8 872.6V903.3M426.8 872.7V896.8M429.3 812.8V872.2M429.7 818.5V872.2M430.3 882.2V907.4M430.8 893.2V920.1M431.1 887.2V925.3M431 865.4V905.1M431.5 872.9V917.1M432.5 761.1V975.1M432.7 821V845.4M433.7 854.6V890.9M433.8 860.1V890.8M435 863.2V923.3M435.3 855.8V899.5M435.8 903.7V936.9M436.4 841.7V904.2M437.3 848.4V868.9M437.9 849V895.3M437.9 854.9V886.9M438.9 836.9V892.8M439.1 830.1V871.6M439.3 871.2V912.3M440.3 880.9V935M441.5 810V862.3M441.8 861.8V909.6M444.3 815.9V854M445.1 820.1V868.6M445.4 841.8V885.8M445.8 874V908.1M445.9 884.3V938M447.6 851.2V892.8M447.8 843.6V885.2M448.3 848.2V901.6M448.7 814.4V855.2M449.3 855.1V915.1M449.5 844.9V874.1M451.3 854.8V895.1M451.5 840.4V885.8M451.9 869V910.3M452.6 884.8V929M453.1 837.2V873.3M454.2 837.7V893.2M454.4 882.2V931.4M455.2 871V922.1M455.5 860.4V960.4M456.2 817.8V905.9M456.6 863.6V893.6M456.5 814.4V868.9M457.2 857.2V879.7M457.9 803.5V888.8M458.5 879.1V903.7M459.2 854.1V884.6M459.5 798V882.8M460.9 828.7V889.5M461.5 817.2V846.8M462.3 849.7V884M462.9 861.3V889.5M463.1 841.6V881.2M463.6 876.7V908.3M463.6 878.5V913.6M464.2 863.6V903.4M465.1 848.7V874.6M465.3 857.4V893.9M465.8 874.2V915.7M466.9 801.3V927M467.6 843.6V882.3M468.4 842.6V881.5M469.3 827.7V855.4M469.8 812.2V897.2M470.8 879.6V900M471.5 848V877.7M471.6 857V902.3M471.7 870.6V921.1M472.6 822.7V857.5M472.9 903.6V942.5M473.3 832.7V894.9M473.4 846.6V886.6M474.4 872.7V910M474.4 899.7V931.6M474.7 823.6V875.1M475.3 877.2V917.8M475.7 844.5V910.9M476.3 832.2V885.2M476.9 852.3V894.3M477.3 840.9V863.8M478 842.4V879.5M479.1 841.8V875.4M479.5 844.7V907M480.3 841.9V886.2M481.3 869.8V916.5M481.6 877.2V921.4M482.2 841.1V903.2M482.7 873.5V901.6M483 835.1V882M482.9 865.8V902.3M483.7 858.2V874.4M483.8 792.1V837.8M484.1 856.8V903.3M484.4 844.9V925.4M485.1 817.7V863.6M485.3 849.1V911.6M485.6 880V935.1M486.5 847.5V905.5M486.8 863.8V897.4M487.3 830.6V882.5M487.8 776.3V843.8M487.6 864.9V903.3M488.4 848.7V891.7M488.6 866.4V904M489.1 818.5V847.6M490.3 843.1V887.8M490.7 846.7V905.7M491.3 869.4V921.7M491.9 843.9V898.7M492.3 871.2V927.4M493.1 874.2V916M494.2 862.2V905.8M494.5 815.5V879M494.5 855V893.5M494.9 856.5V912.3M495.2 810.7V868.1M496.1 821.7V871.4M497.5 845.2V861.4M498.2 831.1V879.3M498.9 828.7V892.1M499.2 832.4V872.8M500 832.1V874.1M499.9 870.3V919.9M500.4 837.1V878.9M501.6 848.5V882.3M501.8 841.7V876.5M502 867.3V902.7M502.5 845.3V909.1M502.8 857.8V895.1M503.4 890.4V915.6M504 885.1V931.4M503.9 822.9V864M504.5 862.2V919.3M505 801V834.5M505 805.3V830.9M505.9 863.6V900.4M506 851.5V890.5M507.2 843.5V886.1M507.9 861.5V902.1M508.3 822.2V869.6M508.7 820.2V856.7M509 909.7V934.1M509.7 842.5V893.2M510 820.3V855.3M511.2 840.5V884.2M511.5 817.4V878.7M511.8 873.2V918.8M512.1 863.4V907.2M512.9 906.9V928.1M513 843.4V875.7M514.9 842.1V873.6M515.5 832.8V882.8M516.6 859.7V908.4M516.8 819.2V854.7M517.4 833.8V931.1M518.1 835.4V888.3M518.8 856V893.6M520.1 894V931.9M520.5 763.7V950.3M521.6 857.1V889.6M521.5 858.9V907.1M522.2 833.7V907.1M522.8 878.6V937.4M522.8 841.8V886.3M523.5 837.7V883.4M523.9 794.9V844.8M525.4 826.9V875.1M525.8 821.5V856.6M526.1 880.3V922.7M527.3 891.5V930.2M528.4 846.5V898.5M529.6 831V862.8M529.9 840V906.7M530.1 818.6V863.6M531.4 846V893.1M532.1 863V897.9M532.4 834.4V899.4M532.6 835.2V899.7M533 897.1V943.2M533.5 852.1V903.8M534.7 838.6V923.6M535.9 872V899.8M535.9 805.9V840.4M536.7 851.3V882M536.6 876V927.8M537.4 795.7V846.3M537.8 827V877.7M538.3 834.1V880.3M538.5 822.9V850.5M539.3 876.9V920.2M539.5 842V889.6M540 812.3V913.7M540.8 854.7V885.4M541.1 824.9V885.4M541.8 836.2V888.4M541.8 902.5V941.4M542.2 873.2V912.3M542.8 807.4V960.8M543.9 861.7V910.4M544.4 855.8V893.1M544.3 804.7V844.2M545.1 800.3V844.6M545.2 882.1V940M545.8 843.6V883.9M546.2 876.3V910.3M546.5 844.8V883M546.9 867V905M547.3 841V876.6M547.9 853.2V900.1M549 829.1V873.1M549 848.5V894.9M550 865.2V914.2M549.9 875.5V904.7M551.1 860.4V897.4M551.7 856.2V900.4M552.3 840.5V901.8M552.9 847.5V887.6M552.8 851.4V875M553.6 870V915.8M554.1 855.5V912.3M554 897.7V951.2M554.9 878.6V911.5M555.2 824.5V884.3M556 869.9V899.1M557.7 810.1V860M557.9 843.5V885.7M558 867.6V902.9M558.6 849.6V866M559.5 823.6V866.5M559.8 877.8V924.8M561.1 860.6V899M561.7 799.2V835.2M562 882.4V899.3M562.2 872V902.3M562.6 866.2V910.5M562.7 865.1V908.9M563.4 871.1V917.1M563.4 853.5V903.7M564.8 845.4V901.2M565.6 885.6V924.4M566 808.4V841.8M566.4 851.3V895.4M566.9 819.2V862.5M567.5 860.4V900.2M567.3 843.3V894.7M567.9 796.5V869.4M568.5 815.6V852.6M569.1 874.2V918.6M569.1 830.7V879.8M570.2 875.9V918.1M570.3 848.3V899.3M571.1 840.8V879.4M571.3 815.2V924.4M572 839.6V872M572.3 846.8V895.6M572.9 867.3V903.6M573.3 825.1V865.1M573.7 838.2V867.5M574 860.9V902.8M574.2 834.9V874.3M574.6 838.2V885.1M575.5 833.1V877.5M575.9 813V842.8M576.4 843.6V896.8M576.7 833.9V885.2M577.1 852.2V897.7M577.4 861.5V923.3M577.8 780.1V902M578.3 837.4V887M578.5 804V842.9M579.3 855.4V884.9M579.5 861.8V886M580.4 865.1V917M580.5 832.2V885.9M581.4 785.9V832.2M581.9 806.9V845.5M582.2 852.5V881.6M582.9 887.6V914.3M583.5 887V921.4M584 816.8V878.6M584.7 818.8V864.1M585.5 858.2V906M585.4 837.3V884M586.4 792.6V850.9M586.6 835.4V866M587 841.7V902.5M587.4 840.1V884.4M587.8 817.4V861M589.3 810.6V860.5M589.6 840.9V898M590.2 862.5V943.4M591.3 784.1V898.6M591.9 863.1V885.9M592.6 817.6V861.2M592.8 846.1V892.1M593.4 863.2V898.8M593.9 795.1V846.6M594.1 810.7V869.5M594.5 873.6V916M595.2 847.8V918.1M596 880.5V913.9M596.7 836.5V856.7M598.6 827.8V882.2M598.8 832.3V885.8M599.1 843.3V895M599.7 880.7V921.8M600.2 850.3V896M600.4 833.6V888.7M600.5 808.7V892.2M601.6 833.9V877.7M602.4 824.7V845.1M602.5 897.5V925.4M602.9 839.6V883.2M603.5 825.7V866.2M603.5 882.4V911.6M603.8 843.5V914.6M604.5 860.6V912.7M605.6 861.6V904.6M607.6 825.6V880.7M607.7 853.5V905.4M608.3 819.5V883.2M609 872.9V921.1M608.9 853V898.7M609.2 884.2V936.1M611 884.3V944.1M611.4 895V974.6M611.7 844.2V887.9M612.3 857.7V882.4M612.5 834.5V867.3M613.1 839.4V871.3M614.2 841.6V882.8M614.5 852.6V903.1M615.4 860.8V906.7M616.1 838V879.5M616.3 853V866.8M616.5 856.5V900.4M616.7 857.7V881.3M617.5 854.4V899.1M618.3 866.4V914.8M618.5 806.7V836.4M619.6 847.6V875.1M620.1 859.4V886.4M620.1 885.4V918.6M620.7 860.6V920.4M622.8 845.4V886.8M623.4 836.2V878M624.1 852.9V896.9M624.7 809.5V869.2M625.1 860.3V927.3M625.5 829.7V885.6M626 845.9V883.7M626.9 862.5V892.3M627 853.8V889.5M627.1 868V909.5M628.4 861.5V936.9M628.4 852.8V891.4M628.9 789V905.7M629.2 868.4V910.8M629.8 858.6V913.4M629.9 818.3V883.1M630.9 864V903.4M631.8 857.8V915.7M632.7 885.9V925.6M633.7 854.4V879.8M634.2 842.7V874.7M635.2 879.9V925.9M635.2 789.8V894.8M636 832.4V875.2M636.3 878.4V920.5M637.4 858.5V909.1M637.6 848.1V885.7M638.1 872.7V924.7M639.3 876V919.5M639.6 839V881.6M639.9 841.9V881.5M640.3 871.8V900.9M641 806.2V866.5M641.2 850.3V900.2M641.9 845.7V886.6M642.4 854.3V905.4M643.1 826.1V871M643.7 863.3V916M643.9 807.3V858.4M644.1 873.3V919M644.7 809.2V857.4M645.7 868V909.1M646.4 885.3V941.9M647 855.8V883.7M647.9 807.6V862.8M648.2 852.5V889.1M648.6 769.3V913.1M649.5 832.9V877M650.1 885.1V911.8M650.6 867V886.5M651.3 837.5V871.7M652.9 812.5V870.7M654.2 851.8V867.8M654.4 851.3V882.3M655.2 845.2V877.7M655.6 798.3V857.9M656.7 873.8V907M657.5 868.7V922.5M658 850.2V886.2M659 861.5V926.4M659.4 842.9V877.2M659.6 839.5V873.8M660.4 816.4V861.2M660.6 842.2V870M661.1 875.2V919.1M662 883V914.5M661.8 863.1V923.3M662.6 829.9V879.9M663.1 784.1V837.2M664.1 833.2V878.1M664.6 864.7V900.2M665.3 859.3V903.9M665.4 836.3V883M666 891.1V927.3M666.2 837.2V884.4M666.4 836.6V867M667.4 860.7V900M668 875.6V928.7M668.4 864.8V912.4M668.6 875.6V922.8M669.8 848.8V876.3M670.1 811.7V853.9M670.5 880.3V905.1M671.6 863.9V899.6M672.8 843.4V881.8M673.2 843.1V876.6M673.8 847.6V911.7M674.9 841.8V889.8M675.6 876.9V914.2M675.8 806.9V915.8M675.8 881.6V933.4M676.7 801.1V845.5M677.3 897.3V936.9M677.6 897.9V933.9M678.5 858.1V929.4M678.3 831.5V849.1M678.8 865V920.7M679.3 914.6V953M679.9 861.2V887.4M680.8 865.7V903.5M681.1 844V874.1M681.6 792.3V844M681.6 835.5V897.4M683.2 898.7V953.4M684.1 866.2V911.2M684.5 813V853.8M685.6 858.3V890M688.9 818.7V874.5M688.9 869.3V902.4M690.4 831.5V893.5M692.2 851.6V867.7M692.8 873.7V923.4M693.4 880.5V913.7M693.9 826.7V871.6M694.4 855.7V883.6M695.5 873V905.1M696 866.8V911.4M696.4 839V891.5M697.3 862.7V888.3M697.8 875.3V916.3M698.2 874.8V917.4M699.4 803.7V880M699.6 812.9V879.8M699.7 856V896.9M701.2 771.2V898.4M701.6 895.1V920.1M701.9 850V909.9M701.8 820.2V863.2M704.4 863.8V909.1M704.4 838.8V878.8M705.2 831.7V882.9M705.9 859.6V909.5M706.1 849.2V949.7M706.7 831.6V853.1M706.8 845V916.2M707.2 841.7V881.6M707.6 820.8V880.5M708.4 834.5V872.6M708.6 879.1V913.4M709.4 872.5V893.2M709.8 852.6V870M711.6 834.8V861.1M712.1 886.7V935.1M712.4 843.2V908.2M712.6 790.4V882.6M713.4 853V895.6M714.3 841.3V886.7M714.6 834.6V871.6M715.1 810.7V863.3M715.2 860.8V904.9M716.1 839.5V873.9M716.9 850.7V907.7M717.1 836.6V884.6M717.8 861.3V897M718.6 869.9V901.6M719 855.3V882.9M719.4 874.7V919.2M719.9 827.5V870.2M719.9 853.5V877.8M720.3 864.6V919.6M722.5 873.1V889.9M722.9 854.6V902.8M723 843.5V893.2M723.1 820.3V870.2M724.1 811.6V883.3M724.3 877.3V920.7M724.8 834V894.5M725.2 797.2V839.3M725.5 834.2V884.9M726 852.8V889.4M726 773.5V935.2M727 843.7V893.3M727.1 860V953.3M728.6 803.6V934.1M729.3 844.2V891.9M729.4 822.3V916.4M729.8 871.7V906.1M730.4 839.1V883.4M730.7 844.5V896.1M731.5 835.7V860.9M731.5 816.8V871.7M732 775.1V830.8M732.5 859.1V889.9M732.8 873.3V942.7M733.2 879V907.3M733.5 873.3V898.2M733.9 820.6V863M733.9 865.9V930.7M734.8 876.2V918.3M735.3 847.8V931.9M736.5 864.2V910.2M736.5 871.1V908.6M738.4 855.7V904.7M739.1 850.1V888.6M740.1 844.7V884.8M740.9 861V896.5M740.8 850.2V895.5M741.2 850.3V912.1M741.7 802.5V837.9M742.7 834V866.5M743 858.1V901.4M743.9 842V893.6M744 869.1V920.1M744.8 845.9V889.1M745 848.7V900.9M745.4 840.3V871M745.8 857V899.8M746.1 848.3V899.4M747 879.8V908.4M747.2 876.7V926.4M747.2 895.1V934.6M747.8 854.7V897.6M748 831.3V873.2M748.8 789.5V843.2M749.3 885V917.8M749.8 887.5V926.6M750.6 883.9V907.4M750.9 843.7V890.2M751.3 852V896.6M751.6 819.9V856.1M752 825.1V863.8M752.1 850.1V882.5M752.7 845.6V885.6M753.2 834.9V847.6M753.2 827.5V865M753.9 818.7V858.5M754.3 849.4V881.9M754.8 835.7V917.5M755.5 847.8V870.3M756.8 824.8V855.1M756.8 823.6V873.4M757.5 818V867.3M757.7 800.6V841.1M758.5 843.9V903.9M758.7 843.4V885.7M759.3 835.9V878.3M761.1 810V874.1M761 835.6V869M762.3 831V896.4M762.7 791V834.6M763.1 839.7V903.7M763.4 851V901.6M763.9 823.3V853.5M765.7 800.6V852.9M766.3 857.3V900.8M766.7 850.1V924.7M768.6 889.9V929.7M768.9 824.8V881.1M769.6 834.9V841.3M770.3 789.3V930.9M770.7 903V925.7M770.8 862.7V887.8M771.5 857.4V907.1M771.4 828.6V873.7M772.2 878.1V901.7M772.9 847V886.6M773.5 854.8V896.4M773.8 818.9V888.3M774.9 849.1V888.1M775.1 850.6V902.3M775.8 909.3V943.3M776.6 812.1V841.7M776.9 874.1V921.1M777.7 883V923.1M777.8 872.2V906.2M778.4 832.4V869.9M779.1 840.7V892.2M779.4 820.6V870.7M779.8 840.1V872M780.4 868.3V902.6M780.9 842.4V895.1M780.9 849.5V888.2M781.2 822V880.8M782.6 862V907.9M783.1 868.2V915.3M783.8 881.5V915.2M784.5 881V916.4M784.9 862.4V920.4M785.4 850.9V898.8M786.1 831.3V881.5M787.5 854.8V884.1M787.7 804.7V847.3M788.4 889.5V932.8M789 778.9V906.5M789.6 889.3V919.3M789.7 864.9V900.4M790 846V899M791.3 863.3V912.6M792.3 824.4V861.4M792.9 867.8V919M793.5 875.5V923M793.8 871.8V911.1M793.9 836.9V888.9M794.3 854.8V901M794.6 863.7V894.7M795 863V905.9M796.3 872.1V906.5M796.8 825.6V879M796.9 821.9V874.7M797.4 856.5V902.8M798.1 854.6V893.2M799 872.2V917M799.9 826.1V855M800.3 813.9V863.9M800.8 840V892.8M801.8 890.6V920.9M802 767.3V899.9M802.1 815.4V878M802.8 825.9V866.4M803.2 834.3V877.3M803.8 841V874.3M804.7 839V880.1M805.1 887.6V903M805.8 846.7V878.9M805.6 834.9V890.3M806.1 839.6V880.6M806.8 838V859.8M806.8 848V887.7M807.2 846.3V883.2M807.9 882.7V948.1M807.9 851.6V880M808.7 885.4V924.2M809.4 857.3V888.6M810.1 865.3V915.1M810.8 853.8V883.3M812.1 796.2V849.4M813 839.1V882M812.9 867.9V881.5M813.2 918.1V957.1M813.8 887.5V933.2M814.4 832.1V883M815.2 826.7V867.2M815.2 811.4V842.1M815.8 818.4V886.5M815.9 863.2V896.6M816.1 869.1V925.2M816.5 889.2V916M817 876.4V905.6M817.7 841.1V902.2M817.9 867.8V905.9M818.1 890.1V914.3M818.7 850V905.9M820 832.9V883.8M820.9 892.7V934.6M821.1 851.6V889M821.4 847.9V885M821.8 888.7V927.3M822.4 826.7V863.6M822.8 871.5V926.7M823.6 858.1V900.4M824.1 874.1V936.8M824.7 814.9V942.6M825.3 850.8V911.7M825.4 837.5V884.2M825.7 800V847.3M826.3 887.7V918.2M826.6 840V883.8M828.1 869.4V912M828.5 865.1V875.2M830.2 887.1V917M830.9 845.8V886.8M831.3 829.4V876.1M831.5 840.3V870.7M831.7 898.2V947.6M832.7 849.3V894.7M832.9 845.1V884.1M833.2 828.3V885.4M833.9 824.8V875.3M834.3 799.8V882.4M834.5 886.6V914.9M835 849.7V914.3M835.7 807.6V851.3M837.1 817.4V874M837.6 836.8V902M838.3 833.4V874.2M838.4 871.5V894.7M839.3 851.8V885.9M839.2 831.9V886.6M840.5 871.7V931.9M840.3 802.4V856.5M841.8 824.7V858.5M842.7 839.9V892.1M843.6 867.7V898.9M843.8 833.2V871.8M844.5 863.9V910.3M845 861.6V904.3M845.2 844.6V884.4M845.4 811.4V842M846.1 838.9V921.8M846.5 879.8V931.3M846.8 865.7V887.4M847.1 820.3V871.6M847.9 874V906M848.3 846.4V884.3M849 805.7V845.8M849.2 886.7V926.1M850.6 830.3V878.9M850.7 877.8V920.8M851 846.4V896.8M851.1 868.9V911.4M852 810.9V826.4M852.3 833.4V872.2M852.5 843.4V889.3M852.8 836.2V869.3M853.4 850.2V886.5M853.4 900.6V941.7M854.2 848.3V911M854.1 883.6V939.1M855.6 803.1V851.6M856 846.8V883.6M856.8 887.3V939M857.4 891V929.7M858.1 867V918.2M858.7 787.3V832.6M859.1 812.1V866.1M859.7 861.3V904M860.7 872.3V922.7M860.9 851.2V894.2M861.3 865.3V906.4M861.7 871.9V898.8M862.5 877V920.2M862.7 878.4V910.5M863.6 847.8V893.2M864.1 835V884.1M864.6 904.3V949.3M864.9 836.5V872.2M864.8 863.4V897.3M866.4 851.2V894.2M867.1 885.7V915.1M867.3 843.4V881.6M868.7 846.3V897.8M870.6 839.4V945.4M871.5 856.1V898M873.6 870.9V916.6M874.1 791.2V831.3M874.6 885.7V921.8M875.1 886.6V942.2M875.4 847.6V916.8M875.8 869.7V920.2M875.7 831.4V876.2M876.2 832.5V919M877.2 828.1V870.4M877.1 886.4V923.5M878.4 859V916.2M879.2 838.4V865M881.7 859.9V896.4M882.1 839.3V868.8M882.9 865V934M883.2 839.9V924.6M883.6 876.8V936.7M883.6 829.8V847.5M884.8 845.3V888.1M885.2 795V911.7M885.4 779.7V847.3M886.6 813.1V861.7M886.9 795.3V834.1M887.7 865.4V896.6M888.1 845V876.7M888.4 824.7V872.9M889.4 842.2V879.7M889.8 857.8V914.9M890.9 852.4V890.1M890.9 853.9V909.8M891.3 864.7V891.1M892.1 868.8V921.1M892.5 866.9V928.2M893.5 828.2V920.9M893.9 831.9V854.7M894.8 841.3V899.3M894.8 850.3V893.5M895.4 864.3V921.4M895.7 838.8V929.2M896.6 825.5V860.3M897.3 830.3V875.6M897.3 828.7V877.3M898.1 863.7V909.6M898.4 872.9V911.9M899.2 795.9V855.5M899.6 872.8V924.7M900.2 855.1V897.5M900.8 859.6V891.5M900.9 822.3V864.9M901.7 838.7V871.1M902.1 806.1V862.1M902.7 864.1V883.8M903.1 863.3V912.7M903.2 844.9V874.4M903.7 790.3V852.6M904.5 878.7V903.8M905 863.4V915.5M905.1 854.7V897.6M906.3 802.6V899.7M906.7 822V870.5M907.4 819.4V886.5M907.4 839.2V876.2M908.6 843.6V883.7M908.7 826.2V885.4M908.9 871.4V918.3M909.7 850.7V905.2M909.9 831.2V850.6M910.7 840.2V873.4M912.4 828.9V875.1M913.7 818.4V867.8M913.8 831.2V873.7M914 834V880.1M914.5 810.9V873.5M915.5 836.9V863.9M916.6 828.8V863.9M916.5 828.7V874M917.6 854.5V917.4M917.5 895.6V947.2M918.3 807.6V852.1M918.8 865V880.4M919.2 829.6V874.1M920.4 840.9V873.4M920.9 862.9V902.3M921.3 888.4V907.7M922 859.9V901.5M923 896.9V940M923 863.4V891.1M923.6 854.3V896.7M924.3 827.6V857.2M924.4 861.8V897.3M925.2 800.8V848.3M925.4 858.5V902.6M925.7 845.1V904.6M925.9 848.9V877.9M926.5 802.3V861.1M926.9 811.6V870.6M927.3 841V880.2M927.5 855.1V945.8M927.9 868.8V905.6M928.1 894.7V933.3M928.8 837V886.6M930 840.5V878M930.3 896.4V931.6M930.5 890.6V914.9M931.4 822V880M932.2 823.9V848.5M932.6 886.5V927.5M932.7 839.6V891.6M933.4 852.5V876M933.9 830V887.4M934.2 845.2V883.2M935.1 843V881.8M935.2 840.8V901.1M936.1 865.5V897.3M936.7 831.5V883.2M937.8 862.2V905.4M938.4 837.4V890.4M939 890.6V929.1M939.4 888.2V944.3M939.9 805.6V918M940.1 855.8V906.5M940.3 770.6V810.5M941.7 829.7V888.4M941.8 832.2V982.4M942 885.8V920.1M943.6 806.8V864.3M944 857.7V889.6M944.2 840.2V883M944.4 885.9V930.9M944.9 845.2V884.7M944.8 867.5V926.3M946.2 860.6V900.6M946.4 875.9V916.4M946.6 851.8V903M948.3 850.6V889.1M949 850.8V885.6M949 819.2V865.9M950.1 876.7V935.4M950.6 848.1V890.4M952.4 837.4V900.8M953 846.3V886.7M953.1 869.8V906.4M953.2 882.9V914.4M954.7 860.8V905.8M955.8 842.7V880.7M956.5 825.1V873.4M956.5 809.2V852.7M956.9 871.5V922.5M958.1 872.5V932.4M958.9 852.5V897.4M960.3 865.7V907.1M960.8 820.2V878.6M961.2 856.5V898.2M961.5 846.1V883.8M962.2 877.7V933.5M962.7 845.5V887.5M963.3 809.8V853.9M963.4 853.1V895.4M964 866.6V910.4M964.3 870.7V913.2M965.2 840.5V907.5M965.4 826.7V855.3M965.8 847.9V893.8M966.6 883.9V934.9M967.4 878.5V935.5M967.7 830.1V878.7M968.1 858.7V894.7M968.9 845.6V893.4M969 892.3V931.4M970.1 838V858M971.9 836.3V942.6M972.2 842.8V883.4M972.6 862.1V898.7M973 879V923.3M974.2 807.3V873.5M975 874.6V926.9M975.8 829.2V879.6M976.2 859.6V904M976.7 849.9V908.1M977.9 860.1V883M978.2 823.6V862M979.6 860.9V908.4M980.1 808.3V852.8M980.7 862.8V890.1M981 848.7V903.1M981.4 856.5V887.6M982.5 878.7V923.3M982.5 840.2V888.2M983.3 839.6V884.3M985.1 813V864.1M985.6 863.1V912.2M985.8 841.3V890.4M986 815.8V849M986.7 810.4V864.4M987.5 850.2V888M988.1 821.3V882.4M989 864.1V897.8M989.2 850.1V897M989.5 870V891.2M990.8 874.8V900.6M990.7 859.4V896.7M991.4 870.6V889.8M991.6 841.1V897.9M992.2 826.6V886.6M993.4 846.9V859.6M993.2 839.2V891.2M994.6 836.9V881.6M995.5 875.5V911.2M995.8 810.3V881M996.5 879.1V915.1M997.5 867.8V893.6M997.5 841.6V885.9M998.4 885.6V918.5M998.4 854.9V903M998.7 874.5V924.2M999.1 866.2V905.2M999.8 864.2V886.4M1000.5 801.4V853.2M1000.4 816.7V869.8M1000.8 839.8V933.2M1001.7 890V913.3M1002.3 812.6V866.8M1002.7 829.6V869.9M1002.9 899.4V925.7M1003.7 839V874.1M1003.8 825.9V883.7M1004.2 853.1V886.8M1005.2 866.9V902.4M1006.1 840.1V913.2M1006.6 841.9V898M1008 815.4V867.5M1008.2 851.1V898.7M1009 871.2V919.1M1009.3 865.9V894.7M1009.9 818.7V858.2M1010.9 849.4V875.1M1011.7 854.2V877.5M1012.1 848.9V891.4M1012.5 853.3V883.5M1012.9 824.8V875M1013.3 872V900.8M1013.7 857.3V897.6M1014.6 857.5V911M1015.3 850.3V892.9M1015.8 829.9V868.5M1015.9 814.9V847M1016.6 889.1V931.7M1018.3 831.7V876.4M1018.8 900.6V948.9M1018.8 814.7V852.8M1019.5 855.5V892.9M1020 867.9V923.8M1020.3 876.5V900.8M1021.1 824.1V861.6M1021.7 849.2V898.7M1022.5 844.9V880.3M1022.7 862.1V899.7M1023.5 850.7V893.4M1023.7 870.7V911.2M1024.4 876.8V920.4M1025 864.8V906.4M1025.3 829.6V881.8M1025.7 843.3V897M1027.1 843.3V911M1030.2 847.3V882.5M1030.8 847.3V912M1031.1 848.1V877M1032.2 851.3V905M1032.2 845.8V929.7M1033.3 856.8V893.8M1034 835V896.5M1034.7 825.8V852.5M1034.8 880V916.7M1035.4 825.9V887.4M1035.4 854.3V888.2M1036 876.5V927.3M1036.7 855.4V882.2M1037.6 876.2V907.3M1037.8 813.2V913.8M1038.2 855.4V901.4M1038.5 830.7V887.5M1039 856V898M1039.5 808.2V864.8M1039.8 856.3V908.7M1040.6 813.7V951M1040.5 864.9V904.4M1041.2 855.8V894.1M1041.2 828.1V878.9M1041.7 784.6V929.1M1042 862.1V896.1M1043.1 876.7V898.7M1043 865.6V895.2M1043.4 830.4V878.9M1044.2 856.8V925.7M1044.5 859.1V890.6M1045.4 833.6V868.5M1045.9 840V874.4M1046.7 822.2V876.5M1047.3 876.9V918.2M1048.3 839V871.3M1049.1 854.7V901.7M1049.6 843V878.5M1051.4 864.9V899.4M1051.6 876.1V920.4M1051.7 855.4V897.4M1052.3 847V882.6M1052.8 821.8V864.4M1053.5 836.1V886.8M1054.1 814.6V870.3"/>
<path stroke="#555" stroke-width="1.30" d="M145.4 875V920.1M152.4 822.6V854.2M154.3 856V900.7M155.3 844V894.8M156.7 840.6V889.1M160.2 855.1V883.5M163.9 851.5V899.7M163.9 899V932.2M169.9 844V886.2M170.7 840.6V885.5M175.6 868.8V922.4M179.1 850.5V893.6M179.6 851.2V894.6M179.7 831V878.2M180.7 825.5V917.8M183.8 884.2V918.7M187.4 855.6V899.6M188.8 843.8V896.5M190.8 842.9V894.4M192.4 856.4V910.7M192.3 865.4V926.4M197.2 846V917.3M198 876V915.8M200.6 862.1V916.7M204.6 835.1V894.3M206.5 862.4V889.2M211.1 834.6V882.9M211.3 865.5V922.2M211.6 843.8V894.4M212.2 871.5V919.2M214.9 825V886.4M215.4 832.9V873.9M224.1 887.4V940.1M226.2 859.2V902.3M226.1 868.4V924.7M230.1 871.3V906.3M230.5 862.4V926.1M230.8 898.4V929.1M231.2 825.6V868.4M235.6 865V905.9M235.9 877.2V893.7M238.3 857V892M245.2 879.4V916.7M246.7 819.4V858.4M252.2 877.7V937M253.8 860.7V896.4M253.9 847.1V898.6M259.8 858.6V908.2M261.3 850V914.9M264.6 872.2V917.1M266.3 894.2V931.7M266.4 843V877.5M268 851.5V876.5M268.3 835V918.1M269.5 871.8V914.5M270.3 836.9V884.3M271.2 849.3V881.8M276.4 868.2V903M279.6 830.2V895.5M285.8 852.4V888.7M287.1 862.8V902.5M291.6 923.6V949.4M292.6 839.4V876.9M293.7 871.8V880.4M294.7 795.5V938.1M297.6 855.6V885.2M297.5 821.7V876M299.8 761.6V819.8M308.3 830.2V863.4M312.1 829.8V861.4M312.5 826.6V875.8M314.8 840.4V880.6M316.4 864.3V905.4M318.6 788.4V843.5M320.8 824.9V873.6M324.6 860V910.9M327.2 844.9V895.8M328.9 792.3V915.8M331.1 813.9V917.3M331.7 847.7V886.2M332.2 872.7V894.1M332.8 798.4V835.3M334.2 841.3V892.1M337.1 860.8V916.8M337.6 877.2V924.6M342.5 799.8V844.4M345.8 909.1V946M346.8 840.5V886.4M348.5 845V902.8M349.2 857.2V893.3M353.2 850.7V884.9M358.7 872.9V906.1M361.5 847.6V899.2M363.3 857.5V873.7M365.4 846.9V900.2M370.3 830.1V896.9M370.6 885.6V921.7M371.1 857V883.1M372.4 875.8V925.5M374.6 846.1V912.8M379 850.8V901.3M382.1 853.4V891.7M387.5 844.7V901M391.4 852.3V897.2M394.1 808.1V850.2M397.1 839V873.5M401.8 851.1V878.9M403.6 799.7V865M405.2 893.6V928.8M406.3 859V913.5M408 876.3V900.7M410.9 856.9V910.2M411.8 833.3V881.8M424.1 869.7V923.1M424.9 814.9V855.9M425.7 816.5V860.3M426.1 814.9V860.1M427 851.4V899.2M428.5 874.9V919.6M432.4 834.5V881.6M433.4 875.6V932.6M434.4 845.5V906.7M435.5 841.3V886.3M440.8 872.1V926.9M441.3 854.8V901M442.3 890.2V926.3M442.7 852.5V890.5M442.9 875.9V926.4M446.9 830.5V897.4M446.8 867.4V908.2M450.8 788V838.5M453.1 836.3V886M453.5 857.2V921.5M458.3 859.5V894M459.1 864.3V885.3M460.2 811.2V857.8M460.6 857.9V877.5M461.7 831V888.9M465 841.9V910.9M467.2 845V901.6M475.5 847V894.5M477.8 831.4V882.5M478.4 820.3V865.6M479.8 863.7V893.9M482 864.3V920.9M485.8 839.8V889.7M491.5 840.7V854M496.5 925.1V958.9M499.3 876.9V915M501.1 860.2V906.5M507.3 881.8V913.6M512.6 850.2V897.7M513.5 825.2V854.8M514 806.3V854.2M515.8 867.6V907.8M517.3 835.3V877.1M518.1 830.2V899M518.9 818.5V861.8M519 892.5V934.1M524.3 886.8V914.3M524.7 868.4V904.9M527.8 828.1V875.9M534.2 785.5V853.6M535.3 828.8V861.5M537.8 813.5V859.2M540.4 849.3V892M546.1 867.3V896.3M549.8 813.8V844.9M550.4 826.2V865.2M552.2 859.4V893M556.4 837.2V875M557 819.2V929.8M556.8 806.9V854.6M559.6 840.6V892.9M564.5 865.9V923.6M572 840.8V881.5M577.4 851.1V903.9M579.4 843.2V892.7M588.9 829.6V883.7M590.8 855.7V884M591.6 862.9V910.2M593.2 805.2V851.6M595.6 879V924M597.5 803.3V858.6M598.4 829V867.1M605.1 865.3V884.3M605.9 875.9V935.1M606.3 861.6V892.1M606.8 793.3V854.6M613.7 845.3V887.7M614.6 861.6V900.9M615.7 825.4V860.5M620.7 844.8V895.6M621.2 846V900.1M622.4 858.4V906M624.7 881.6V913.9M626.4 842.2V880.3M632.2 849.3V896.5M638.9 802.1V859.1M638.8 891V943.7M641.2 827.2V887.3M642 814.2V872.2M645.3 827V848.8M645.8 817.6V879.8M648.8 841V898.8M650.8 837.5V887.2M652.9 850V926.4M654.5 847.4V900.9M655.6 861.8V889.8M656.3 839V880.2M657.5 842.9V896.2M660.1 815.1V847M663.5 875.8V907M670.7 852.7V891.5M671.6 866.5V913.7M673.7 867.3V891.6M675.1 844.1V871.6M676.8 877.6V919.6M680 814.7V871.8M682.2 825.2V865.1M682.5 849.3V904.6M683.1 858.4V909.9M683.9 861.8V901M684.2 838.3V888.6M684.8 832.5V879.2M685.3 857.7V912.3M686.5 873.9V926.9M686.4 828.8V876.9M686.7 866.2V896.7M687.4 813.9V865.6M687.9 882.2V930.1M688.5 886.8V927.3M689.9 824.4V864.4M691 842V888.6M693.8 849.6V883.4M695.3 896.8V943.4M696.9 840.1V888.6M699 840.7V901.3M700.3 826.5V995.7M702.5 856.5V901.8M703.4 834V887.2M706.1 815.5V863.6M711.3 831V879.9M713 806.9V861.3M718.3 829.7V886.8M720.7 798.8V834.8M721.5 876.9V916.2M722 839.2V889.2M736 834V871.5M739.2 882.7V915.6M742.3 848.5V894.2M743.8 870.1V914.7M749.8 836.8V873.2M755.9 821.2V883.1M758.8 863V917.8M759.6 849.8V891.6M761.7 842.5V895M764.4 836.2V875.1M766.8 811.6V926.3M767.7 879.4V911.3M769.1 855.4V898.6M769.6 837.7V868.4M772.6 891.9V965.7M778.5 836.1V866M781.5 853.6V890.9M784.8 829.6V877M785.1 860.3V888.3M787.7 893.1V926M790.5 827.4V875.9M795.5 864V918.6M795.8 856.1V910M799.6 880.2V921.9M800.3 867.7V917M801.2 862.7V927.2M803.4 839.4V880.9M804.2 807.9V842.3M808.7 849.7V895.7M810.8 830.8V867.3M811.4 843V880.6M814.3 830.5V887.3M824.2 832.3V859.2M828.2 852V887M829 874V892M832.5 805.2V915.9M834.9 802.1V893.3M835.6 864.9V896M836.3 857.4V892.8M841.3 822.7V861.4M842.9 852.6V911.4M847.9 859.2V884.8M849.8 827.1V851.7M854.4 856.7V896.3M856.3 840.4V890.9M857.4 840.7V887.4M860.3 833.7V876.7M872.2 844V875.6M873.1 839.9V868.5M877.9 861.7V895.4M879.6 751.2V899.2M881.1 829.8V883.3M882.6 870.1V905.7M885.3 815.8V870.2M887 886.8V929.4M889.2 803.1V870.1M892.2 838.8V905.8M893.1 896.6V932M893 876.8V923.7M896.7 852.1V935.9M903.9 855.5V900.3M909.3 862V896.1M910.8 774.1V959M911.3 828.8V869M915.3 872.9V924.4M920 848.8V880.2M929.5 869.1V914M931.3 860.6V903.1M931.9 830.5V862.3M934.4 841.2V887.3M937.2 836.7V890.7M938.4 828.1V883.2M940.9 836.9V884.4M943.1 876.9V897.5M945.6 828.9V878.2M947.5 845.4V897.8M949.3 843.9V902.8M950.4 821.8V864.9M952.3 836.5V865.4M953.7 853.3V901.2M955.4 830.7V897.7M957.7 812V861.1M957.8 809.7V856.6M959.4 841.9V866.7M962 872.9V915.5M964.8 852.7V903.8M965.5 850.3V904.8M966.6 792.5V833.5M967.5 888.2V899.2M973.4 859.2V899.8M973.3 846V902.2M974.1 804.6V935.8M975 866.8V930.5M983 882.7V906.1M983.6 829.9V869M984.7 831.4V870.5M985.3 830V858.4M987.1 823.4V861.6M990.4 826.8V879.2M992.8 855.2V905.4M999.9 807.8V849.5M1001.8 839.7V903.8M1006.7 837.2V880.4M1008.5 855.3V898.9M1012.7 814.8V925.6M1013.8 843.6V883.9M1017.7 858.1V908.4M1020.9 844V903.4M1021.8 855.2V887.4M1022.6 867.8V896.7M1025.3 840V898M1026.9 841.9V878.9M1028 875.8V920.3M1029.4 864.5V911.8M1029.3 854.9V892M1033.5 788.9V862M1037.1 835.9V876.2M1045.8 832.1V875.9M1046.4 858.2V891.2M1047 791.6V847.9M1048.8 880.5V891.9M1049.2 839.8V897.6M1050.2 846.4V889.3M1054.8 863.6V906.4"/>
</g>
<g clip-path="url(#c3)" fill="none">
<path stroke="#000" stroke-width="1.30" d="M140.9 1172.2V1211.3M141.3 1190.4V1207.2M142.1 1172.4V1222.5M142.1 1176.5V1207.3M142.6 1143.4V1198.6M142.9 1128.4V1170.4M144.4 1164.6V1229.5M144.6 1138.4V1185.3M145.1 1129V1177.9M146 1154V1202.6M146.1 1172.4V1206.7M147.4 1195.2V1242.5M147.5 1129.1V1183.1M148 1141.2V1188.7M148.3 1163.4V1186.3M148.9 1150.5V1200.1M149.5 1149.5V1186.3M149.8 1163.1V1203.7M150.5 1206.3V1233M151 1117.1V1156.2M151.4 1203.1V1224.3M151.5 1113.3V1145.4M152.3 1172.7V1202.2M153 1136.1V1174.3M153 1109V1142.6M153.8 1133.9V1173.6M154.1 1147.2V1205.6M155.4 1147.3V1179.1M156 1151.9V1195.9M156.9 1112V1156.4M157.7 1116V1152.4M158 1136.9V1189.5M158.5 1199V1233.8M159.1 1144.7V1189.1M159.9 1164.5V1213.6M160.5 1151.4V1196.5M161.7 1184.6V1209.8M162 1181.3V1223.8M162.6 1167.8V1201.5M163.8 1154.4V1193.8M163.8 1165V1200.2M164.1 1132.7V1171.5M165 1178.4V1222.8M166.3 1157.3V1200.4M167.1 1167.9V1213.9M167.7 1175.7V1237.1M167.7 1146.7V1193.4M168.3 1176.3V1211.1M168.9 1145.7V1186.4M169.2 1129.5V1176.3M169.9 1156.7V1205.5M170.3 1135.5V1163M171 1159.7V1209.1M171.2 1186.7V1237.9M172.5 1156.2V1196.8M173 1169.3V1208M173.1 1135.1V1187.4M173.8 1189.6V1238.8M174.3 1153.2V1185.2M174.8 1181V1234.8M175.8 1203.2V1242.3M176.7 1143.1V1186.6M177 1144.9V1185.1M177.3 1177.7V1224.9M177.5 1163V1192.7M178.7 1143.2V1203.1M179 1148.1V1191.1M179 1102.5V1244.5M179.4 1145.6V1197.1M179.8 1132.9V1176.6M180.5 1153.8V1248.3M182 1164V1217.6M182.1 1142.4V1186.6M182.8 1133.2V1169.6M183.3 1171.9V1205.5M184.3 1125.8V1175M185.1 1141.3V1177.2M185.7 1146.8V1187.4M185.8 1179.1V1226.4M186.1 1159.6V1197.7M187 1106.3V1155.4M187.7 1116.1V1163.3M190.2 1161.6V1214.2M190.8 1166.5V1202.7M191.4 1139.6V1185M191.7 1181.4V1219.8M192.1 1134.5V1190.9M193.1 1128.7V1269.1M193.5 1137.1V1185.7M193.3 1123.2V1198.8M193.6 1126.5V1289.1M194 1136.7V1171.2M194.5 1123.6V1230.2M195.2 1147.8V1182.3M195.2 1233.6V1278.1M195.6 1180.4V1224.6M196.4 1140.1V1191.5M197.2 1125.5V1214.9M197.8 1144.1V1170.6M198.1 1195.9V1239.7M198.3 1166.2V1221.9M199.3 1150.9V1212.2M199.1 1162.2V1223.2M199.5 1158.8V1192.2M200.3 1164.7V1225.2M200.1 1145V1185.8M200.9 1141.3V1192M201.7 1160.4V1201.8M202.1 1170.2V1226.5M203.1 1129.5V1210M203.8 1154.8V1196.5M204.2 1166.6V1199.1M204.6 1149.5V1182.6M205.5 1151.2V1190.4M206.1 1144.3V1169.6M206.7 1116.7V1172.8M207.5 1194.4V1244M207.6 1151.5V1206.5M207.8 1153.7V1185.5M208.9 1185.1V1222.4M209.6 1172.7V1217.6M210 1185.4V1252.1M210.8 1158V1183.7M211 1170.6V1226.5M211.8 1141.1V1173.2M212 1105.2V1129.3M212.3 1088.6V1226.8M213 1115.2V1161.2M213.6 1166.4V1210M214.3 1138.9V1173.6M214.7 1152.4V1215.7M214.7 1152.2V1211M215.6 1144V1184.1M217 1149.4V1177.9M217.5 1153.1V1193.4M218 1190.4V1221.7M218.1 1157.4V1197M218.9 1150.6V1209.4M219.1 1167.5V1190.4M219.3 1129.2V1174.2M221.6 1131.7V1166M221.5 1159.6V1224.9M222 1183.9V1215.9M222.9 1169.7V1206.4M223.4 1158.7V1182.2M223.8 1130.6V1183.8M224 1152.4V1199M224.6 1126V1201.5M224.7 1145.9V1190.2M225.1 1143.7V1205.3M225.6 1129.8V1155M226 1130.4V1163.1M227 1148.6V1187.9M227.2 1116V1178.7M227.6 1180.4V1224.4M228 1122.5V1154.1M228.3 1148.9V1176.6M228.7 1134.5V1187.1M229.2 1154.9V1197.8M229.8 1135.8V1185M229.8 1152.1V1214.3M230.1 1166.8V1206.1M231 1142.7V1196.9M231.9 1193.1V1220M232 1168.7V1218.9M232.7 1124.8V1196.3M232.6 1167.4V1213.1M233.1 1131.7V1192.3M233.8 1181.3V1193.4M234.9 1147.5V1199.8M235.4 1185V1224.7M235.9 1166.5V1209.3M236 1186.9V1195.4M236.7 1154.4V1211.1M236.7 1115V1155.6M237.4 1136V1181.8M238 1178.3V1227.9M238.6 1143.2V1176.1M239.1 1165.4V1227.3M239.3 1140.6V1178.7M240.6 1167.8V1210.7M241.1 1176.9V1213.2M241.3 1182V1233.8M242 1168.5V1208M242.5 1165.2V1233.2M243.3 1162.2V1220.5M244 1153.5V1184M244.1 1150.7V1176.2M244.8 1155.3V1206M246.8 1154.1V1200.7M247.2 1170.9V1215.8M247.9 1177.7V1209.5M247.9 1144.4V1201.5M249 1149.6V1177.1M250.6 1134.7V1174.9M251.1 1166.3V1196.1M251.6 1177.9V1211.6M251.7 1163.4V1209.5M252.5 1163.3V1215.2M253.2 1134.8V1167.8M253.4 1187.8V1224.3M253.9 1139.4V1169.6M254.7 1161.1V1185.1M255.1 1164.9V1208.5M255.4 1129.3V1174M256 1148.4V1172.4M256.6 1128.8V1183M257 1140.5V1200.2M258.6 1171.3V1206.3M258.7 1135.1V1186.5M259.4 1154.7V1174.6M260.2 1134.5V1171.6M260.8 1133.8V1196.7M261.4 1191.1V1229.6M262 1137.6V1187M261.9 1169.2V1211.2M262.9 1129.4V1172.5M263.6 1173.2V1219.7M263.6 1159.2V1194.4M264.3 1186.4V1250.6M264.8 1153.4V1211.9M265.1 1158.7V1188.6M265.3 1196.4V1250.3M266.2 1177.2V1214.8M266.2 1183.3V1213.9M267.3 1142.5V1210.3M268.5 1150.6V1190.1M269.1 1127.8V1174.8M269.2 1190.1V1235.2M269.9 1150.7V1191.2M270.2 1131.1V1176.9M270.4 1106.9V1158.2M270.9 1132.8V1180.3M271 1160.2V1213.3M271.8 1139.7V1202.2M271.9 1160.7V1193.8M273.2 1119.1V1167.2M273.1 1152.4V1208.7M274.9 1181.5V1228.4M275.3 1146.1V1190.6M276.2 1151.8V1200M276.5 1175.6V1196.7M277.3 1138.5V1183.5M277.7 1182.3V1205.6M278 1177.9V1230M278.6 1180V1231.6M278.5 1139.2V1178.1M279 1157.2V1226.6M279.7 1199.9V1230.5M279.6 1095.9V1164.4M279.8 1149.2V1178.9M280.4 1169.5V1193.4M281.5 1159.9V1180.8M282.2 1143.7V1197.4M282.8 1174.5V1221.9M283.4 1181.1V1226.4M284.2 1139.9V1181.1M284.7 1155.8V1202.8M285.1 1156.2V1215.6M286 1189.3V1242.7M286.5 1168.8V1198.2M286.8 1147.3V1242.9M287.5 1242V1278.2M288.6 1156.2V1195.6M288.9 1158V1190.9M288.9 1170.1V1224.5M289.5 1141.4V1202.2M290.5 1159V1179.7M290.4 1148.9V1193.4M291.3 1199.8V1232.9M291.4 1185.6V1207.4M291.8 1151.1V1203.7M292.2 1133.8V1149.1M292.9 1145.1V1181M295 1163.4V1182.2M295.1 1151.8V1203.5M295.8 1215V1248.4M296.5 1140.3V1228.6M297.4 1157.1V1183.8M297.3 1116.7V1165.3M297.9 1159V1182.2M299.6 1166V1208.1M300.2 1163.1V1220.2M300.1 1136.7V1166.1M301.9 1150.5V1185.6M302.5 1182.4V1224.7M302.7 1148.3V1192.9M303.1 1173.5V1203.3M304.4 1165.2V1217.5M306 1178.5V1213.2M306.9 1187.3V1226.8M307.3 1155.9V1199.1M307.8 1178.5V1212.4M308.7 1181.8V1218.9M308.7 1124.2V1160.3M309.9 1158.9V1201.6M310.3 1166.6V1211.5M310.6 1138.7V1197.8M311.3 1093.4V1194.3M311.2 1161.9V1210M312.1 1147.2V1188.1M312 1184.2V1226.5M312.4 1161.9V1190M314.1 1176.9V1210.4M314.6 1147.2V1189.1M314.9 1160.3V1204.6M315.1 1158.4V1186.3M315.2 1167.3V1212.8M316.2 1160V1192.8M317.2 1135.5V1177M317.6 1142.6V1192.7M318.2 1151.8V1203.7M318.1 1122.3V1184.9M318.4 1155V1208.2M319.1 1146.3V1183M320.7 1165V1200.7M321 1173.8V1219.2M321.8 1190.9V1232M321.8 1189V1222.6M322.1 1194.8V1251M322.5 1161.1V1229.4M323.1 1172V1223.7M324.5 1142.2V1179.7M324.9 1166.7V1208M325.5 1155.9V1204.2M326.9 1188.7V1237.4M327.1 1076.5V1211.8M328.1 1143.5V1179.3M329.2 1133.4V1195.6M329.7 1138.2V1177.8M330.2 1157.3V1212.1M330.3 1124.7V1178.9M331 1176.8V1192.6M331.6 1122.5V1195.8M332.3 1170.4V1196.5M332.9 1149.3V1193.4M333.2 1143.7V1202.3M333.3 1131V1188.4M334 1157.4V1194.3M334.9 1160.9V1207.4M335.3 1140.8V1182.6M335.4 1160.5V1274M337.3 1206.8V1239.6M337.2 1152.4V1203.7M339.1 1168V1223.3M339.7 1160.3V1198.1M339.7 1151.6V1193.4M340.2 1186.2V1237.4M340.9 1152.1V1188.5M341.6 1147.8V1216.9M342.7 1184.5V1234.1M343.2 1169.7V1192.6M343.7 1166.8V1217.2M344.2 1109.7V1157.1M344.8 1181.6V1224.9M345.2 1206.7V1251.4M345.2 1138.5V1180.3M345.8 1190V1217.5M346.2 1145.1V1196.2M346.7 1194.1V1247.8M347.5 1164.8V1224.8M347.9 1124.5V1183.5M348 1155.9V1199.2M348.7 1143.4V1178.1M349.4 1156.3V1193M350.4 1154.8V1219.3M350.5 1174.7V1217.6M351.1 1142.5V1180.2M351.5 1143.7V1204.1M352.2 1144.1V1205.8M352.3 1118.9V1171.8M352.4 1190.7V1229.8M353.2 1171V1212.2M353.9 1173.7V1206M354.4 1126.4V1161.1M354.5 1132V1159.1M355.3 1130.3V1182.4M356.5 1157.5V1185.5M356.4 1083.2V1216.7M357.3 1205.6V1246.8M357.7 1167.5V1198.8M358.6 1147.9V1182.2M358.9 1161.7V1196.5M360.7 1171.7V1227.9M362 1174V1218M362.3 1188.3V1221.4M362.5 1105.8V1208.1M362.8 1164.8V1201.2M363.2 1208.8V1248.3M364 1153.6V1196.3M364.1 1150.9V1206.5M364.5 1127.9V1158.6M365.1 1168.6V1210.9M365.7 1149.8V1199.3M366.2 1105.6V1138.5M366.2 1131.9V1163.4M366.4 1150.4V1200.9M367.8 1174.2V1216.6M368.1 1129.6V1187.3M368.6 1176.6V1214.4M368.7 1158.4V1210.4M369.1 1176.8V1215.5M370.1 1118.9V1171M370.6 1195.4V1229.8M370.8 1180.1V1240.5M371.1 1170.1V1215.3M371.5 1156.6V1211.4M372.8 1162.2V1208.5M373.2 1114.4V1161.4M373.6 1154.4V1201.8M374 1207.5V1239.6M374 1145.2V1182.4M375.2 1174V1216.2M375.2 1170.9V1195M375.7 1118.6V1196.7M376.3 1182.4V1234.5M376.6 1103.5V1245.8M377.6 1155.8V1210.8M378.8 1122.2V1166.5M379.4 1148V1181.8M379.6 1083.4V1180M380.7 1141V1199.9M382 1151.9V1199.3M382.5 1181.1V1226.7M384 1113.3V1153.2M384.1 1113.8V1166.5M385.1 1164.5V1187M385.3 1171V1224.4M385.9 1159V1220.6M386.2 1164.7V1205.4M386.6 1173.4V1217M387.4 1153V1204.4M388.5 1159.7V1189.5M388.7 1133.6V1185.9M389.1 1154.3V1200.6M389.7 1149.5V1213M391.5 1126.4V1184.3M391.8 1127.5V1215.7M392.1 1162V1210.3M392.6 1147.4V1177.6M392.6 1149.3V1191.2M393.8 1154.8V1179.6M394.3 1193.8V1220.3M394.5 1152V1166.9M395.2 1181.1V1216.4M395.4 1179.8V1225.1M395.9 1154.2V1233.3M396.4 1142.8V1186.4M397.8 1139.6V1178.9M398.1 1166.6V1209.1M398.5 1116.8V1231.9M399.4 1161V1229.4M399.2 1178.2V1220.2M399.9 1147.7V1170M400.3 1163.8V1202.4M401.1 1136.9V1174.4M401.9 1147.8V1199.4M402.2 1166.3V1214.4M403 1144.7V1186M403.1 1166.1V1186.5M404 1157.9V1182.6M405.2 1183.3V1223.1M406.2 1143V1179.3M406.7 1169.4V1201.2M407.9 1165.5V1199.9M408.6 1101.6V1123.2M409.4 1129.5V1170.7M409.8 1161V1188.2M410.4 1149.2V1208.3M410.9 1144.9V1199.6M412.3 1172.7V1206.3M418 1229.6V1254.4M418.9 1144.1V1176M419.2 1159.1V1191.4M419.7 1157.3V1205.2M421 1149.4V1208.2M421 1098.5V1162M421.7 1118.5V1242.7M422.2 1160.1V1197.7M423.2 1157.2V1197.4M423.7 1153.3V1207M424.3 1155.5V1206.7M424.1 1111.4V1154.5M424.8 1152V1209M426.2 1167.6V1215.5M426.5 1130V1173.8M426.6 1164.6V1223.2M427.5 1177.1V1209.4M428.1 1168.1V1220.7M428.7 1203.7V1241.5M428.9 1120.5V1239M429.6 1158.9V1199.9M429.5 1160.9V1205.1M430.1 1146.8V1193.7M430.2 1129.6V1168.3M430.9 1176.8V1232.5M431.1 1145.8V1201.1M431.7 1119V1159.7M433.3 1145.8V1196M434.7 1134.9V1172.4M434.9 1198.2V1225.8M435.4 1146.3V1193.6M436.1 1156V1181.6M436 1139.7V1181M436.7 1135.4V1179.8M436.7 1172.6V1210.8M437.6 1158.5V1206.6M437.7 1167.2V1217.1M438.2 1140.7V1187M438.3 1136.2V1181.3M438.8 1111.5V1189.4M440.4 1161.6V1212.4M441 1134.1V1199.7M441.5 1143.1V1175.2M442.1 1137.7V1190.1M443.6 1155.5V1200.1M443.7 1106V1157M444.5 1194.7V1223.9M444.7 1119.7V1170.7M445.5 1149.9V1174.8M445.7 1190.6V1215.5M445.8 1173.8V1228M446.3 1196.1V1203.8M447 1177V1237M447.6 1188.3V1237.3M448.1 1133.2V1163M448.1 1160.3V1209.5M448.2 1200.6V1258M449 1193.7V1215.1M449.3 1151.6V1187.8M450.6 1164.9V1197.1M452.6 1141.1V1180M453 1176.8V1240.2M454.4 1159.8V1210.1M454.9 1138V1184.6M455.2 1131.3V1172.1M455.9 1151V1179.9M456.8 1132.5V1177.5M457.5 1175.4V1200.9M458.4 1150.3V1186.5M459.3 1181V1228.9M459.2 1174.1V1195.3M459.9 1158.2V1208.2M460.6 1138V1184.6M461.8 1171.9V1218.2M461.6 1095.7V1113.7M462 1153.7V1213.3M462.8 1059.8V1233.6M463.1 1144.6V1191.5M463.3 1181.2V1216M463.4 1135.7V1180.8M464.3 1177.1V1212.5M464.5 1147.4V1194.9M464.6 1122.1V1159.9M465.2 1172.9V1213.9M465.4 1138V1188M465.6 1144.9V1170.5M466.7 1167.3V1222.8M466.8 1136.4V1176.2M467.5 1139.4V1180.8M468.3 1197.5V1217.8M469.7 1197.3V1227.5M470.3 1164.6V1187.8M471 1131.8V1161.9M471 1132.6V1170.7M471.9 1119.6V1152.9M472.4 1128.1V1187.7M472.8 1161V1211.5M474.1 1183.6V1232.9M474.2 1108.3V1150.3M475.1 1156.3V1205.7M475.1 1138V1183.2M475.9 1050.1V1199.2M476.2 1180.1V1214.2M476.9 1184.2V1244.8M476.9 1137.1V1173.5M477.4 1102.6V1140.3M478.7 1132.3V1192.6M479.5 1133.2V1164.2M480.6 1186.3V1229.9M481.6 1180.6V1223.8M481.8 1154.8V1205.9M481.9 1155.8V1193.5M482.2 1137.4V1164.4M483 1172.9V1210.4M483.2 1162.9V1204.8M483.8 1189.6V1220.9M484 1175.6V1212.9M484.5 1098.1V1160M484.7 1148.9V1183.5M485.1 1157.8V1256M486 1150.8V1205M486.1 1159.4V1178.8M486.5 1189.8V1236.9M487.3 1169.4V1219.3M487.4 1155.5V1215.3M488.1 1145.2V1199.8M488.7 1209.3V1264.3M488.6 1125.5V1161.1M489.4 1156.6V1204.8M491.3 1155.9V1191.8M491.2 1132.4V1177.8M491.6 1122.3V1171.9M492.8 1174.2V1217M493 1159.4V1216.6M493.4 1188V1233.8M494.6 1154.5V1220.2M494.9 1156.8V1200.1M495.1 1172.6V1217.2M495.7 1137.3V1173.3M496.4 1132.3V1170M496.7 1162.4V1207.8M497.1 1158.3V1208.7M498.5 1186.6V1224.5M498.9 1155.2V1229.1M499.8 1133.5V1180.1M500.3 1148.8V1194.9M501.1 1140.9V1201.7M502.1 1131.4V1161M502.4 1152.1V1202.2M503 1162.8V1206.4M503.1 1171.7V1209.3M503.8 1149V1232.2M504.2 1214.3V1256.6M504.4 1160.6V1200.2M504.5 1183V1212.2M505.6 1150.8V1191M507 1167.4V1208.8M507.2 1196.9V1237.5M508.3 1136.8V1183.2M509.7 1137V1181.5M510 1108.7V1194.6M510.8 1180V1217.5M510.8 1152.5V1212.2M511.2 1161.5V1206.2M511.7 1163.8V1214.3M511.8 1171.9V1205.9M512.9 1137.5V1178.2M513.4 1183.5V1239.6M513.4 1176.1V1207M514.6 1169.3V1214.8M515.2 1137.7V1240.4M515.3 1139.3V1195.5M516.5 1148V1234.8M516.4 1136.9V1199.2M517.3 1161.5V1206.8M517.9 1119.5V1181.2M518.2 1170.2V1190.6M519 1149.1V1181.2M519.6 1163.1V1214.3M519.9 1158.5V1201.3M520.1 1164.3V1235.8M520.4 1159.5V1184.4M520.9 1124.7V1170.6M521.6 1151.9V1173M522.2 1125.2V1165M522.4 1157.3V1213.4M522.5 1178.8V1218.8M523.5 1173.3V1207.1M523.8 1213.7V1290.3M524 1140.8V1240.1M524.6 1144.4V1193.3M524.8 1143.2V1164.7M525.2 1128.6V1162M526.4 1175.8V1230.6M526.9 1146.6V1204.6M527.7 1166.3V1192M528.8 1135.7V1181.2M529.2 1130V1173.6M530.1 1114.1V1247.2M531.3 1177.1V1224.5M532 1117.2V1170.6M532.7 1130.8V1188.1M533.4 1160.9V1200.9M533.5 1165.4V1210.1M534 1179.3V1235.7M535.6 1172.4V1206.2M536 1166.4V1216.7M536.7 1144.5V1165.6M537.2 1157.2V1184.5M537.5 1152.5V1199.1M537.4 1184.3V1215.4M538.5 1155.5V1192.3M538.5 1165.6V1219.5M539 1167.7V1208.1M540.1 1153V1188.2M540 1178.4V1238.3M541.7 1194V1233.3M542.5 1128.8V1192.4M542.6 1165.7V1206.7M543.5 1150.9V1197.7M544 1124.5V1163.7M544.8 1173.8V1212M545.1 1176.7V1218.9M545.3 1138.7V1204.9M546.2 1172.8V1223.1M547.1 1130V1186.8M547.4 1166.9V1193.7M548.3 1144.7V1191.3M548.7 1171.9V1204.6M548.7 1189.1V1238.9M549.4 1162.4V1207.8M549.2 1143.7V1188.9M550.7 1173.7V1226M551.5 1146.4V1174.6M552.6 1148.9V1188M552.9 1186.4V1206.5M554.4 1153.9V1196.1M554.8 1147.9V1186.4M554.7 1117.4V1166.5M555.5 1174.1V1216.7M556.6 1158.6V1207.9M557.9 1151.9V1190.1M558.8 1169.3V1175.5M559.1 1152.6V1198.2M559.4 1139V1176M560.3 1185.9V1218.4M560.7 1188.8V1229.2M561.2 1172.2V1217M561.6 1166.3V1191.7M562.7 1117.1V1172.6M563.5 1152.3V1214.6M563.3 1194.8V1234.9M564 1148.3V1187.9M564.6 1206.6V1250.9M564.5 1171.3V1201.7M565 1151.6V1192.3M565.2 1176.9V1215.4M565.9 1165V1187.6M567.6 1125.2V1167.1M568.1 1163.9V1236.2M568 1180.2V1196.8M568.8 1151.8V1190.7M569.1 1180.6V1226M570.2 1149V1189.2M570.4 1122.7V1180.2M571.4 1170.7V1218.8M571.3 1173.7V1209.8M571.9 1174.1V1204.7M572.5 1123.3V1172.8M572.5 1148.2V1191.1M572.7 1163.1V1225.1M573.6 1189.6V1260.2M574.3 1146.4V1187.1M574.3 1155.5V1192.8M575.4 1159.6V1179M575.9 1164.6V1222.4M576 1174.2V1209.9M576.8 1110V1197.8M578.5 1163.1V1193.7M578.5 1139.5V1178.2M579.4 1185V1209M579.4 1164.6V1209.2M580.2 1184.4V1223.3M580.8 1123.6V1162.7M582.2 1125.9V1177.3M582.1 1172.4V1236.3M582.8 1176.7V1203.6M583.3 1183.5V1206.4M585.1 1159.3V1204.4M585.4 1182.7V1208.5M585.4 1184V1239.2M586.1 1189.4V1218.1M586.1 1148V1181.2M586.9 1171.1V1203.6M586.9 1162V1210.5M587.6 1132.7V1172.8M588.2 1148.2V1202.6M589.7 1172.2V1211.7M589.7 1141.4V1197.4M590 1188.7V1231M590.8 1135.8V1196.9M591.1 1165.2V1203.2M591.4 1169.2V1222M591.9 1147.9V1191.9M593 1166.2V1208.2M593.6 1137.8V1184.9M594.1 1196.8V1207.7M593.9 1147.8V1186.1M594.4 1174.7V1219.1M595.1 1151.1V1205.2M595.4 1159.5V1216.9M596.1 1151.8V1207.3M596.6 1193V1251.7M597.3 1164.7V1218.6M597.7 1173V1198.3M598.8 1188.9V1221.8M599.2 1157.9V1214.4M599.6 1170.9V1227.4M600.1 1177.4V1224.3M600.6 1170.5V1207.2M601.2 1151.4V1190.4M602.3 1116.7V1158.5M602.7 1114V1154M604.5 1145.7V1198.1M605 1167.2V1199.8M605.7 1165.9V1198.5M606.4 1212.6V1244.4M606.3 1136.7V1197.3M607 1187.4V1237.9M607.3 1184.8V1229.7M609.3 1183.4V1221.9M610.2 1138.6V1244.6M610.3 1141.4V1184.8M611.3 1143.1V1194.8M612.1 1154.1V1201.8M613.2 1155.4V1184.2M613.9 1167.1V1222.2M614.5 1164.4V1237M615.1 1176.3V1198.5M615.2 1162.5V1197.3M615.7 1181.2V1206.6M616.5 1167.8V1208M616.7 1156V1206.5M617.7 1153.9V1213M618.6 1166.6V1195.8M619 1212.8V1252.2M619.3 1148V1203.7M619.6 1182.4V1215.5M620.4 1141.5V1185.7M620.4 1167.9V1201.2M620.8 1144.7V1193.4M621.2 1146.6V1198.7M621.6 1170V1211.5M621.9 1155.7V1197.9M622.1 1167.5V1197.8M623.6 1144V1195.2M624.1 1156V1219.9M624.6 1109.4V1145.9M625.1 1111.9V1168.6M625.4 1134.7V1186.3M626.1 1134.4V1163.6M626.7 1159.4V1263.4M627.2 1171.9V1206.4M627.1 1200.1V1240.3M627.7 1139.2V1163.8M628.3 1117.3V1156.6M628.8 1150.4V1194.4M629 1153.5V1202.8M629.6 1170.8V1214.8M630.1 1145.5V1189.4M630.4 1129.8V1191.8M630.6 1194.1V1225.5M631.2 1168.5V1218M631.2 1120.8V1166M632.4 1189.5V1231.2M633.3 1161.1V1215.4M634.3 1157.7V1209.9M634.9 1122.5V1151.2M635.5 1154.8V1185.5M636.2 1163.8V1217.2M636.4 1165.4V1206.8M636.9 1152.5V1200M637.7 1153.3V1197.7M637.9 1159.4V1196.4M638.2 1150.4V1219.8M639 1146.9V1180.3M639.4 1199V1224.4M639.9 1151V1258.1M639.8 1167.7V1219.6M640.5 1170.1V1200.2M641.4 1101.3V1157.7M642.6 1146.9V1200.9M642.8 1151.9V1198.8M643.1 1180.7V1222.4M643.5 1126.6V1185.9M644 1168.2V1210.8M644.3 1183.8V1236.8M645.3 1177.8V1239.4M645.4 1143.4V1189.6M646.1 1162.7V1211.3M646.5 1150.2V1186.7M646.4 1146.9V1186.5M647.4 1173.6V1232.2M647.8 1155.9V1246.1M649.6 1175.2V1199.5M649.7 1176.2V1218.4M650 1132.9V1159.5M650.6 1167.9V1206.5M650.7 1175.2V1222.9M651.5 1168.2V1185.3M652 1164.6V1224.8M652.2 1173.9V1232.2M652.4 1135.1V1187.3M652.8 1183.6V1236.8M653.5 1150.4V1193.5M653.6 1120V1175.2M654.6 1138.5V1187.4M655.7 1179.4V1202.1M656.8 1189.2V1227.7M657.4 1125V1156.3M658 1125.7V1177.7M658 1169.6V1215.2M658.6 1144.5V1184.6M658.9 1174.7V1230.2M659.7 1181.5V1219.3M660.5 1129.8V1170.3M660.7 1140.3V1211M660.9 1162.8V1193M661.6 1180.2V1216.4M661.5 1164.5V1194.3M662.5 1165.9V1201.9M664.1 1144.5V1199.3M664 1145.4V1200M665.1 1213.2V1244.4M665.9 1159.3V1207.7M667.4 1141.4V1183.7M667.2 1116.3V1157.7M668 1182V1202.1M669.3 1158V1207.5M669.8 1144.4V1181.2M670.1 1182.4V1207M672 1174.2V1228.8M672.4 1144.4V1172.7M672.5 1117.7V1166.6M672.8 1115.7V1170.2M673.1 1179.6V1219.9M673.9 1137.5V1214M674.3 1197.7V1216.4M674.7 1158.7V1213.4M675.2 1153.3V1197.1M675.3 1171.2V1205M675.7 1165.9V1218M675.9 1124.3V1155.3M676.4 1165.2V1199.7M677.4 1118.6V1233.8M677.6 1157V1184.6M678.5 1164.1V1187M678.8 1157.2V1192.1M680 1149.9V1182.4M680.3 1110.3V1165.8M680.7 1166.6V1228.9M681.1 1155.5V1207.1M681.2 1111.7V1169.8M682 1200.8V1241.9M682 1123.1V1164.6M682.7 1187.1V1224.6M683.7 1188.9V1214.1M683.9 1143.7V1173.9M685 1190V1243.3M685.7 1188.6V1241.5M686.2 1138.5V1184.3M686.4 1176.1V1196.7M687.1 1144.5V1171.5M687.6 1132.4V1179.1M688.2 1133.3V1166.3M688.6 1166.7V1193.3M689 1084.2V1220.2M689.7 1180.1V1211.3M690.1 1138.9V1179.3M690.3 1132.3V1182.8M691 1129.7V1189.9M691.5 1163.8V1202.3M691.9 1141.6V1183.8M691.8 1158.2V1227M692.4 1121.4V1161.9M692.6 1150.1V1186.3M693.5 1169.5V1201.4M693.6 1156.4V1206.8M694.6 1162.9V1197M694.6 1163V1213.5M695.2 1163.7V1184.6M696.4 1176.3V1215M697.4 1161.3V1200M698.6 1167.8V1234.5M698.9 1156.4V1181.6M699.8 1123.8V1173.3M699.7 1159.1V1205.8M700.2 1144.1V1183M700.7 1165.9V1223.7M701.5 1171.7V1218.2M702.4 1172.5V1215.9M702.5 1163.1V1193.7M703.2 1151.1V1194.4M703.7 1134.3V1188.5M703.8 1144.1V1179.1M704.7 1142.6V1177.9M704.9 1147.2V1205.4M705.3 1159.6V1195.3M705.6 1112.1V1141M706.2 1142.9V1178.2M706.7 1134.5V1178.5M708.7 1155.6V1201.1M709 1162.3V1176.7M709.4 1186.8V1232.9M711 1169.8V1211.2M711.2 1161.8V1210.8M712.3 1150.6V1199.4M712.6 1136.1V1158.7M713.4 1193.8V1222.3M713.9 1140V1179.7M714.2 1148.3V1171.7M714.4 1137.7V1174M714.9 1206.4V1241.5M715.2 1135.9V1184.8M716 1133.3V1168.7M717.7 1164V1203.4M718.1 1185.5V1222.7M718.6 1168.4V1211.8M719.4 1170.2V1190M720 1150V1187.5M720.7 1136.9V1194.2M720.5 1137.6V1175M721.4 1204.1V1247M722.4 1124.9V1245.5M722.5 1196.2V1239.6M722.7 1146.4V1216.8M723.4 1158.7V1185.9M724.7 1157V1190.3M724.7 1119.8V1210M725.5 1129.4V1173.9M726.6 1147.8V1204.6M726.9 1173.1V1213M728 1193.1V1227.1M727.8 1152.3V1202.1M728.5 1139.1V1168.6M729.5 1179.7V1211M729.8 1125.4V1184.1M730.7 1139.8V1167.4M731.4 1144.5V1180.7M731.4 1142.2V1205.4M733 1153.8V1186.1M733.4 1154V1177.7M734.1 1169.7V1227.1M734.6 1126.7V1187.5M734.7 1190.3V1232.8M735 1169.7V1210M736.8 1139.7V1183.5M736.9 1133.1V1179.7M738.1 1163.2V1194M739.2 1158.7V1217.3M739.8 1171.1V1199.3M741.1 1186.4V1229.7M741.9 1185.2V1211.5M742.7 1157.5V1192.6M743.8 1103.7V1148.4M744.1 1144.1V1193.1M744.2 1155.6V1178.9M744.4 1130.9V1156.3M744.9 1168.8V1200.9M746.1 1139.5V1180.3M746.3 1130.3V1180.6M746.6 1174.4V1230.1M747.9 1147.6V1194M748.1 1131V1166.6M748.7 1151.7V1199.3M749.5 1176.4V1201M750.2 1142.5V1204.4M750.6 1158.9V1184.4M751.4 1135.3V1196.8M751.4 1169.2V1214.1M752.4 1197.9V1251.4M753.4 1155.1V1193.4M753.4 1172V1204.7M755.3 1160.6V1173M755.9 1175.7V1206.4M756.6 1164.8V1196.7M757.2 1154.8V1188M758.6 1178.8V1227.6M759.2 1178V1222.5M759.6 1176.3V1224.7M760.1 1134.5V1176.4M760.6 1137.8V1200.4M760.6 1133.5V1177.3M761.4 1149.9V1190.4M762.5 1170.6V1223.1M762.8 1187.3V1238.1M763 1154.1V1199.5M763.6 1175.9V1214M763.9 1131.5V1181.2M764.3 1125.9V1172M765 1202V1254.4M765.4 1127.2V1196M765.8 1142.5V1178.3M766.7 1107.9V1225.1M766.8 1142V1199M767.8 1158.3V1187.8M768.8 1152.1V1204.2M769 1145.8V1176.3M770.1 1146.4V1174.1M770.8 1159V1189.8M770.9 1160.4V1206M771.5 1136.1V1196M772.1 1150.8V1198.6M772.5 1138.7V1185.9M772.7 1152V1196.3M773 1162.1V1214.9M774.2 1200.7V1222.5M774.7 1151.6V1188.7M775.7 1165.3V1207.8M776.5 1129V1173.9M776.6 1141.7V1204.3M777.2 1148.6V1195.5M777.2 1152.7V1191.1M778 1155.8V1212M778.4 1164.6V1172.1M778.3 1209.3V1242.9M778.6 1161.6V1203.7M779.4 1151V1187.4M780.2 1154.2V1183.8M780.3 1120.4V1170.7M780.7 1154V1176.8M780.8 1190.1V1200M781.3 1129.4V1161.4M782.4 1112.7V1255.5M783.1 1206.7V1239.5M783.1 1219.3V1256M784.4 1127.8V1190.6M784.9 1126.6V1231.1M786 1208.1V1228.1M785.9 1109.9V1170.3M786.4 1136.2V1172.2M787.1 1134.8V1194.6M787.3 1149.3V1192.8M787.5 1185.7V1205.3M788 1151.2V1205.3M789.1 1111.3V1160M789.9 1152.3V1180M791.2 1167.6V1211.9M791.8 1175.7V1197.9M792.1 1184.9V1226M792.5 1183.1V1193.2M792.8 1169.9V1199.8M793.6 1119.7V1155.3M793.5 1152.8V1201.2M794.1 1148.7V1181.5M794.6 1129.2V1186.4M795.7 1166.7V1211.3M795.8 1130.6V1167.5M797.5 1141.2V1185M798.8 1142.5V1180.9M799 1145.5V1181.5M799.5 1135.2V1180.4M800.5 1149.1V1189.8M800.6 1138.4V1170.5M801 1179.3V1220.7M801.6 1157.3V1211.8M801.8 1159.5V1192.8M803.2 1133.3V1176.2M804 1145V1194M804.2 1098.3V1148.4M805.8 1189.6V1220.2M806.8 1113.2V1204.6M807.4 1133.1V1193.9M807.8 1157.7V1196.4M809.3 1163V1202.8M810.1 1179.4V1219.9M810.4 1116.5V1219.4M811.3 1223.9V1264M812.1 1190.2V1233.5M812.4 1132.4V1190.1M813.2 1168V1196.1M813.4 1150.3V1226.4M813.9 1157.3V1221.2M814.8 1113.2V1254.8M814.8 1132.2V1186.5M815.4 1134.3V1193.2M815.4 1178.3V1230.1M815.9 1168.2V1228.4M816.2 1118V1151.9M816.5 1154.3V1195.8M816.9 1134.1V1162.6M817.6 1122.7V1191.1M817.8 1149.3V1193.8M818.6 1165.1V1200M819.1 1174.8V1219.7M819.4 1119.2V1158.9M820.1 1132.6V1190.7M820.4 1176.5V1202M820.9 1174.1V1224.6M821.4 1161.9V1201.5M821.9 1152V1199.1M822.3 1165.4V1193.5M823.1 1192.1V1235.5M823.3 1169.6V1213.8M825 1073.9V1139M825.2 1157.7V1190.6M826.4 1141V1191M826.8 1177.2V1242.3M827.7 1154.3V1207.1M828.9 1158.7V1184.7M829.6 1178.5V1226.1M830.2 1136.2V1206.6M830.6 1130.7V1182.1M831.5 1141.8V1289M831.8 1161V1203.8M832.4 1159.5V1202.3M833.1 1180.6V1216.4M833.5 1121V1234.6M834.5 1166V1211.1M834.6 1146.4V1203.1M835.5 1212.1V1258.4M835.6 1164V1217.7M836.1 1140.1V1169.5M836.8 1164.2V1213.1M837.6 1195.7V1240.5M837.8 1195.5V1243.1M839 1163.2V1195.7M839.3 1150.4V1210.9M839.6 1130.9V1257.9M839.7 1158.9V1214.1M840.4 1115.6V1248.9M840.7 1155.8V1193.1M841.1 1164.4V1181M841.1 1179.5V1215.2M841.7 1135.4V1177.2M841.7 1169.3V1207.1M842.8 1200.3V1217.7M843.9 1152.5V1295.7M844.7 1203.8V1240.4M845.2 1153.3V1197.1M845.8 1204.4V1213M845.8 1176.3V1238.2M846.6 1144.4V1193.5M846.4 1175V1227.5M846.8 1150.5V1209.3M847.2 1188.8V1239.3M847.6 1151.6V1185.7M847.8 1164.4V1183.9M848.3 1153.7V1223.4M848.9 1157.7V1183.6M849.3 1155.1V1195M850.5 1180.6V1212.6M851.5 1145.9V1190.1M852.4 1154.5V1207.6M852.6 1144.8V1183.3M853.1 1155.8V1207.4M854.3 1166.3V1210.6M854.7 1152.7V1203.9M854.9 1158.3V1198.4M855.4 1175.5V1197.4M855.8 1140.2V1190.6M856.5 1133.9V1184.5M857 1151.3V1187M857.5 1183.6V1233.6M857.9 1137.4V1196.3M858.7 1178.4V1235.3M859.1 1123.7V1194.6M859.4 1147.5V1188.7M859.6 1119V1152.5M860.5 1168.4V1198M861.3 1157.8V1210.2M861.4 1138.1V1205.7M861.6 1147V1185.5M862.4 1152.5V1196.7M862.6 1131.4V1162.6M863 1149.5V1191.8M863.1 1166.9V1183M863.8 1141.9V1165.8M864.9 1177.8V1212M864.9 1173V1228.3M865.4 1167.1V1227.6M865.6 1149.8V1184.3M866.3 1115.1V1142.9M867.4 1144.8V1194.1M868.1 1144.6V1175.7M868.9 1072.5V1255.6M869.1 1139.4V1249.3M870.1 1178.3V1208.4M872.1 1145.8V1194.5M873.4 1159.8V1185.3M873.8 1164.9V1199.1M874 1151.7V1215.1M874.6 1182.4V1214.7M875 1176.6V1221.2M875 1154.6V1200.1M875.8 1163.1V1204.4M876.4 1158.9V1200.2M877.1 1135.9V1181.5M877.8 1180.3V1209.5M878 1149.7V1185.2M878.5 1138.8V1182.7M879 1163.6V1206.2M879.3 1125.6V1198M879.9 1177.2V1210.1M880.4 1151.8V1185.4M880.6 1132.4V1157.6M881.2 1153.4V1205.7M881.5 1181.7V1195.3M881.7 1150.9V1184.9M881.8 1123.4V1169.1M882.8 1153.5V1170.1M883.7 1172.1V1221.2M884.1 1156V1188.5M885.1 1160.9V1195.4M885 1146.8V1182.4M885.6 1138.6V1178.7M886.2 1127.2V1178.8M886.6 1184.3V1222.1M887.1 1175.9V1219.6M887.7 1181.2V1216.5M887.9 1105.8V1181.5M888 1184.7V1223.3M889.1 1167.4V1211.4M889.9 1145.7V1190.5M890.2 1103.5V1143.7M890.9 1141.2V1175.5M891.2 1179.2V1241M891.7 1155.9V1206.4M891.5 1167.1V1226.6M892.2 1156.2V1191.6M893.1 1108.9V1150M893.2 1164.9V1202M894.1 1166.8V1188.8M894.6 1142.2V1176.9M895.2 1197.9V1244.1M895.5 1198.3V1240.9M895.8 1139.3V1216.2M896.2 1140.1V1174.1M897 1144.1V1238.6M897.1 1136.6V1178.2M897.3 1168.7V1216.9M898.3 1162.7V1185.8M899.6 1144.4V1201.6M900.6 1153.8V1195.8M902.6 1148.8V1179.4M902.9 1140.9V1198M903.5 1123.3V1190.1M904.2 1153V1188.1M904.5 1174V1222.6M905 1180.9V1228.5M905 1167.7V1215.5M906.4 1056.8V1240.4M906.2 1087.9V1127.3M907.1 1163.1V1213.1M907.2 1157.1V1214.6M909 1144.4V1200.2M909.2 1130.1V1194M910.6 1169.9V1220.2M911.3 1169.3V1201.9M911.8 1158.5V1199.1M912.4 1190.6V1239.7M913.6 1158.8V1193.1M915.2 1142.7V1193.2M916 1161.6V1221.8M916.6 1194.3V1223.2M917.7 1175.4V1215.2M918.2 1102.1V1149M918.2 1157.2V1180.6M919.7 1146V1200.5M920.3 1190.3V1223.1M921.4 1171.7V1213.9M921.6 1173.9V1211.4M922.2 1130V1171.9M922.9 1156.9V1193.6M923.4 1198.6V1231.5M924.2 1171.9V1214.8M924.8 1170V1215.5M925.1 1181.3V1208.2M925.9 1174.7V1197.3M926.1 1133.3V1197.3M926.9 1174.5V1214M927.1 1141.9V1205.4M927.6 1185.2V1219.9M927.9 1165.5V1202.4M928.8 1177.8V1206.6M928.9 1158.8V1194.1M929 1154.1V1164.2M930.6 1139.5V1190.7M930.6 1175.9V1218.6M932.2 1165.8V1203M932.9 1157.7V1225.9M934 1175.1V1214.9M934.8 1182.3V1222.8M934.8 1129.3V1180.8M935.2 1137.9V1179.2M935.8 1160.7V1198.8M936.8 1157.6V1199.8M936.6 1161.4V1191.3M937.6 1143V1185.8M938.3 1120.5V1196.2M938.9 1171.6V1200.5M939 1159.4V1169.4M940 1129.5V1183.9M941.6 1145.3V1178.5M941.9 1160.4V1213.5M942.3 1158.5V1205.7M943.2 1139.3V1171.6M943.4 1161.9V1195.8M944.3 1138.4V1186.1M944.2 1159.7V1193.1M944.6 1143.3V1205.3M945.7 1143.6V1179.5M946.8 1134.6V1190.3M946.7 1156.1V1202.9M947.8 1170.2V1185.3M948.5 1195.5V1230.5M948.8 1146.3V1195.1M949.7 1172.9V1240M949.5 1149V1197.8M950.4 1125V1203.1M950.6 1143.1V1190M951.6 1140.4V1197.8M951.9 1174.1V1236.2M953.1 1185V1227.8M954.3 1136.1V1186.7M954.4 1110.8V1232.8M954.9 1151.6V1199.2M955.5 1150.8V1217.9M955.7 1156.4V1211.6M956.1 1193.8V1236M956.9 1189.8V1238.2M956.8 1157.3V1197.8M958.2 1125.3V1174.6M958.6 1118.9V1174.2M959.8 1130.7V1160.4M960.9 1178V1233.3M962.4 1208V1249.9M962.4 1182.4V1227.5M962.8 1152.4V1211.4M963.8 1148V1200.2M964.4 1231.1V1264.7M964.7 1186.9V1247.9M965.5 1095.2V1121.5M965.5 1136.6V1187.4M965.9 1142.2V1158.6M966.5 1154.2V1183.5M967 1155.8V1203.6M967.4 1151.5V1190.6M967.2 1167.5V1192.9M968.2 1131.8V1166.3M968.3 1172.4V1210.3M968.7 1198V1231.1M969.7 1156.7V1196.4M970.5 1159.3V1203.9M971 1157.6V1193.8M971.8 1171.7V1223.4M973 1163.1V1196.9M974.2 1143.1V1193M975.2 1143.7V1208.1M975.2 1116.8V1155.9M975.9 1199.5V1261M976.4 1166.4V1208M976.8 1177.1V1219.6M977.7 1100.7V1134.7M979 1122.9V1170.6M979.4 1171.5V1206.7M980 1146.5V1185.6M980.6 1170.4V1204.2M981 1152.3V1185.7M981.4 1149V1212.2M982.4 1144.7V1189.8M983 1158.1V1201.6M983.3 1168.8V1195.8M983.5 1152.5V1204.5M984.3 1142.5V1176.6M984.7 1163V1194.1M985 1215.3V1244.5M986.2 1133.6V1191.4M987 1153.9V1193.3M987.9 1172.3V1214M988.1 1144.4V1207.7M988.6 1102V1165.7M989 1117.8V1215.5M989.6 1147.3V1177.5M990.1 1126.3V1168.1M990.1 1077.2V1238.7M991.5 1153.8V1201.9M992.3 1190.4V1233.6M992.5 1117.6V1171.3M992.9 1167.6V1188.7M993.2 1171.7V1215.4M993.6 1138.4V1178.8M994.9 1179.5V1219M995.4 1182.4V1235M995.6 1136.8V1167.3M995.9 1104.2V1235.3M996.6 1132.8V1181.6M996.8 1172.4V1210.2M997.6 1167.4V1213.9M997.5 1144.2V1178M997.9 1148.9V1182.1M998.8 1158.4V1188.9M998.7 1150.5V1197.4M999.4 1138.7V1168.8M999.5 1176.5V1200.5M999.9 1124.1V1164.3M1000.5 1104.3V1251M1000.4 1185.7V1229.8M1001.3 1119.1V1173.1M1002.8 1147.7V1181.3M1003.3 1077.2V1202.7M1004.5 1159.3V1260.5M1005.2 1192.8V1222.6M1005.8 1147.9V1188M1006.6 1159.4V1206.1M1008.3 1177.2V1218.4M1008.9 1151.3V1182.6M1009.7 1156.7V1194.6M1010.3 1113.4V1179.2M1010.4 1188.2V1230.7M1010.9 1144.6V1191.7M1011.1 1157.9V1206.8M1012.1 1165V1217.3M1011.9 1197.7V1216.9M1012.7 1181.5V1222.7M1013.6 1137.4V1171.3M1014.6 1136.6V1193.2M1014.9 1140.2V1180.9M1015.9 1128.4V1205.3M1015.9 1189.1V1237.1M1017.2 1128.2V1174.3M1017.3 1155.8V1212.4M1017.9 1193.6V1232.4M1018.4 1195.1V1262.4M1018.5 1152.2V1195M1019.1 1155.7V1197M1020 1169.5V1212.1M1020.2 1147.5V1197M1021.4 1173.3V1214.9M1021.6 1145.5V1196M1021.8 1161.2V1183.4M1022.2 1138V1179M1022.7 1119.5V1159.8M1023.2 1138.2V1195.2M1024.1 1168.1V1217.7M1024.2 1139.6V1178.1M1024.9 1189V1231.2M1025.6 1142.1V1196.8M1025.7 1149.9V1189.5M1026.5 1159.7V1189.7M1026.4 1194.9V1229.6M1027.6 1180.2V1221.3M1027.9 1156.3V1211.2M1028.7 1179.6V1209.7M1029.1 1143.8V1182.7M1028.9 1142.3V1175.8M1029.5 1138.2V1182.3M1029.7 1104.3V1156.2M1030.3 1168.6V1207.4M1030.7 1150.1V1196.6M1031.6 1175.9V1222M1031.6 1117.5V1210.9M1031.8 1178.3V1224.2M1032.5 1135.2V1187.8M1032.7 1139.2V1177.6M1033.3 1116.7V1248.6M1033.2 1196.3V1237.3M1033.9 1154.8V1201.7M1034.4 1170.6V1215.7M1035 1153.8V1196M1036.2 1156.4V1200.4M1036.4 1163.4V1228.5M1037 1148.9V1186.8M1037.6 1159.1V1201.3M1037.9 1161.9V1193.8M1039.1 1151.4V1189.1M1039.7 1125.7V1164.9M1040.6 1153.7V1190.6M1040.5 1111.3V1152.5M1041.7 1176.7V1190.7M1042 1134.2V1175.6M1042.7 1180.4V1195.4M1043.2 1180.8V1228.5M1043.4 1168.8V1211.8M1043.5 1158.7V1202.4M1044.3 1194.6V1255.4M1044.5 1162.7V1206M1044.8 1179.3V1221.1M1046.3 1234.2V1276.6M1047.1 1146.9V1192.6M1048.4 1108.2V1259.4M1048.7 1168.4V1205.2M1049.1 1151.4V1204.7M1050.3 1166.6V1200.4M1054.3 1145.4V1176.3M1054.3 1170.2V1203.8"/>
<path stroke="#555" stroke-width="1.30" d="M141.4 1172.3V1209.3M144.1 1139.2V1206.5M157 1158.9V1211.5M158.4 1160.3V1184M159.7 1169.7V1214M161.2 1199.7V1243.5M165.7 1148.2V1175.6M165.5 1146.3V1191M166.7 1159.8V1197.2M170.5 1190.1V1242.3M172.2 1135.8V1195.8M175 1220.4V1262.5M175.7 1133.5V1163.1M180.6 1157.2V1187.3M181.7 1168.4V1208M184 1155.6V1217.6M184.9 1177.7V1230.5M188.2 1145.1V1193.5M188.7 1171.7V1199.5M188.9 1128.8V1262.6M189.9 1114.7V1201.6M197.8 1106.5V1148.1M202.3 1091.7V1202.2M207.2 1144.1V1195.8M210.3 1178.6V1238.8M215.1 1198V1222.7M215.7 1170.3V1220.8M216.4 1130.2V1150.1M220 1130V1180M220.3 1156.3V1207.9M220.4 1143.7V1198.4M222.1 1133V1187M227.3 1163.9V1212.5M230.4 1114.2V1156.8M231.4 1130.2V1200.9M234.8 1151.8V1199.3M240.3 1167.4V1207M242.4 1119.7V1173.9M245.8 1131.5V1184.8M246 1144.9V1195.3M249.2 1138.5V1171.2M256.3 1162.5V1214.2M257.5 1157.1V1208.8M259.6 1165V1203.8M259.9 1155.8V1196.7M260.6 1122.2V1215.8M262.4 1141.4V1180.4M262.9 1169.4V1202.4M265.8 1219.9V1251.2M266.6 1157.5V1199.7M268.6 1160V1212.3M271.4 1132.4V1183.8M276.9 1155.5V1197.8M283.4 1168.7V1185.2M285.4 1154.4V1200.6M289.6 1161.1V1189.5M293 1168.2V1226.7M294 1164.3V1226M294.1 1151.7V1187.9M295.5 1150.4V1189.8M299.1 1132.2V1183M299 1138.2V1191.1M300.8 1174.9V1206.4M301.2 1170.1V1219.4M302 1138.4V1184.9M304 1132V1191.6M305.6 1151.8V1192.8M308.5 1160.2V1241.6M309.2 1135V1180.3M312.9 1092.9V1150.9M313.2 1144.2V1191M319.9 1169.8V1225.8M323.4 1149.2V1233.5M325.3 1168.3V1217.9M325.9 1124.3V1185.6M326.4 1120.3V1169.1M326.7 1175.6V1217.9M328.3 1159.5V1206.7M330 1178.6V1217.3M336.1 1089.4V1142M337.9 1167.4V1211.5M338.3 1146.9V1202.8M340.5 1165.7V1202.5M341.9 1175.4V1218.3M347 1138.1V1211.7M348.5 1164.3V1233.7M350 1143.5V1200M351 1170.5V1228.8M354.1 1149.3V1208.3M355.2 1146.5V1196.1M356.1 1157.8V1203.7M359.6 1168.4V1207.9M359.5 1188.1V1231.8M365.5 1162.1V1234.4M367.5 1145.5V1180.4M372.3 1215.5V1256.3M377 1198.8V1236.4M377.5 1176.8V1226M378.5 1192.4V1222.7M380.9 1145V1198M381.5 1160.7V1196.2M382.5 1151.2V1199.4M382.9 1202.5V1251.2M383.5 1119.8V1186.4M386.6 1137.4V1177.9M389.5 1212.5V1251.3M390.4 1156.1V1217.8M391 1112.6V1147.4M393.6 1152V1193.2M396.1 1151V1199.6M398.1 1124.7V1177.9M400.6 1132.9V1155.2M401.7 1137.3V1183.5M403.5 1173.6V1211.4M404.6 1116.4V1178.3M406.8 1112.3V1163.1M407.9 1191.4V1228.3M412.5 1130.9V1168.3M419.3 1140.8V1185.5M419.8 1172.5V1198.1M420.4 1151.9V1208.8M423.1 1168V1200.8M424.9 1172.7V1193.8M428.2 1158.2V1223.3M432 1197.3V1235.8M432.2 1164.7V1227.6M433.8 1135.2V1196.6M435.7 1115V1170.5M439 1156.4V1216.7M440.1 1173.5V1231M443.1 1162.4V1203.4M445.2 1166.4V1204.2M453.8 1167.8V1215.7M455.5 1135.8V1179.1M457.8 1145.4V1192.5M460.3 1164.1V1215.3M466.3 1126V1177.1M467.3 1175.4V1212M468.8 1113.6V1148M469.6 1114.8V1169M477.9 1140.6V1157.9M480.6 1172.5V1210.9M481 1146.5V1193.3M487.7 1169.6V1213.8M489.2 1158.7V1202.9M492.2 1159.1V1199.5M493.3 1152.9V1198.2M505.7 1161V1196.1M508 1210V1229.8M508.1 1168.6V1200.7M509.1 1171.7V1231.4M509.8 1191.6V1235.1M515 1163.4V1220.2M517 1124.9V1177.6M524 1163V1199.7M537.8 1197.1V1236.3M540.3 1204.3V1226.6M541 1140.6V1196.1M541.4 1173.1V1206.1M546 1163.4V1211.4M550 1164.3V1200.5M553.7 1152V1181.7M556.6 1158.7V1198.9M557.3 1171.5V1206.1M558.1 1147.2V1192.5M565.6 1186.6V1235.6M567 1181.8V1230.7M568.8 1118.3V1167.5M569.4 1141.1V1194.9M571 1142.6V1186.1M574.8 1128V1179.2M574.9 1137.6V1179.3M576.6 1171.7V1222.2M577.9 1163.7V1242.1M581.6 1117.2V1160.4M583.2 1187.9V1234.8M583.6 1112.7V1157.9M584 1164.1V1207.5M584.6 1130.2V1168.1M587.4 1163.5V1192.7M588.5 1157.6V1213.5M589.2 1119.9V1164.3M590.8 1132.8V1184.7M593.2 1140.7V1247.2M597.3 1151.4V1196.8M598.2 1190.1V1233.5M603 1136.7V1212.5M603.4 1130.9V1189.6M604.2 1149.2V1195.4M605.4 1131.9V1225.7M607 1170.3V1216.1M608.1 1176.3V1216.5M608.5 1127.5V1265M611.1 1160.3V1208.5M615 1135.6V1189.3M616.3 1181V1217.6M617.2 1150.4V1171.6M622.6 1139.6V1192.4M623.3 1140.1V1170.9M625.8 1158.4V1212.5M632 1180.4V1207.1M633.4 1154.8V1191.9M634.9 1138.6V1179.7M641 1176.5V1213.2M641.2 1173.9V1203M642 1157.4V1203.3M644.7 1192.9V1228.9M648.4 1193.4V1219.6M651.4 1170.1V1212.3M654.1 1167.3V1209.9M656.6 1178.6V1233.7M659 1155.2V1201.2M659.7 1195.8V1244.2M663.3 1177.8V1214.7M664.7 1164.7V1203.1M665.2 1166.4V1215.5M666.6 1172.3V1226.6M668.1 1144.3V1195.7M668.4 1141V1170.5M669.7 1161.9V1205.8M671.1 1119.3V1155.6M673.6 1156.3V1200.8M677 1191.1V1232M679.5 1157.2V1198.2M690.6 1120.8V1186.1M695.9 1112.8V1251.8M696.1 1193.6V1212.7M696.1 1181.4V1206.4M707.6 1144.3V1181.3M707.9 1199.1V1243M709 1124.4V1164.7M710.1 1144.3V1264.4M713.1 1189.8V1230.8M716.6 1152.4V1200.9M720.9 1162.9V1200.4M727.3 1133.9V1185M728.9 1177.3V1217.5M730.6 1136.6V1180.9M732.2 1096.4V1232.1M732.5 1181.6V1231.2M734 1102.3V1151.3M735.4 1144.9V1189.9M736.1 1132.5V1166M737.4 1155V1252.5M738.6 1132.8V1169.1M739.1 1173V1208.7M741.6 1168V1209.7M742.7 1208.6V1253.7M745.4 1161.1V1224.1M747 1147.7V1205.9M747.5 1123.2V1165.3M752.1 1159.2V1196.5M752.4 1140.1V1184.8M754.7 1142V1171.6M761.9 1163.7V1184.8M763.2 1149.1V1170.8M767.7 1119.9V1198.9M768.4 1108.7V1159.9M769.3 1115.5V1216.4M769.8 1153.5V1191.8M771.4 1169.7V1207.4M775.2 1160.1V1187.9M782 1172.8V1213M784.3 1103.4V1206.3M785.1 1176.6V1219.1M790.2 1154.9V1198.5M790.7 1143.3V1192.1M794.5 1156V1191.4M795.4 1169.4V1197.8M796.4 1171.7V1215.9M796.6 1124.7V1191.9M797.2 1137V1208M798.3 1133.1V1161.4M801.5 1195.7V1228.2M802.8 1125.6V1189.7M804.3 1157.3V1187.3M811.5 1165.8V1236.1M818.3 1114.9V1203.1M818.4 1153.7V1211M819.8 1173.5V1211.6M822.3 1196.1V1221.5M823.8 1144.3V1174.9M823.8 1188.1V1222.1M824.6 1114.6V1178.7M828.8 1137.3V1175.6M832.7 1151.8V1180.9M836.9 1121.8V1170.4M837 1198.1V1221.8M842.5 1170.8V1212.9M842.8 1153.7V1186.2M843.2 1153.3V1194.3M844.4 1112.9V1185.3M849.5 1120.2V1170.4M849.7 1135.4V1193M851 1163V1235.4M851.8 1165.2V1185.4M854 1135.7V1176.3M856.1 1140.8V1181.8M858.3 1129.1V1172.2M860.2 1159.6V1199.8M860.3 1181.1V1210.3M866.6 1128.7V1159.6M866.9 1158.4V1209.9M867.8 1210.8V1243.5M870.7 1163.1V1197M871.7 1203.7V1225.8M872.9 1145.9V1203.1M873.1 1193.4V1226.4M876.1 1117.6V1143.1M883.3 1161.3V1191.3M884.7 1182.1V1220M886.2 1144.5V1189.3M888.7 1170.1V1232.3M892.3 1140V1248.4M898.5 1129.9V1185.1M900.2 1120.3V1187.4M901.2 1129.6V1200.9M901.5 1136.8V1181.7M902.2 1167.8V1203.9M905.7 1172.5V1219.1M909.1 1124.7V1178.4M910 1068.2V1244.2M911.8 1138.8V1180.7M915.1 1168.2V1205.1M916.5 1145.3V1171.5M916.9 1124.8V1180.8M917.6 1178.5V1230.8M931.3 1126.4V1162.8M931.2 1151.8V1192.3M931.7 1188.2V1246M932.2 1198.1V1250.9M935.9 1182.7V1227.2M937.1 1167.1V1204.9M938.1 1181.5V1223.3M939.4 1153.7V1198.3M940.2 1115V1162.9M947.2 1146.3V1183.3M948 1144V1197.9M949 1172.6V1234.7M955.3 1125.6V1158.9M957.4 1111.6V1192M959.1 1156.8V1177.7M963.3 1155.7V1204.8M964.9 1167.3V1195.8M969.9 1162.7V1210.3M970.8 1171.8V1223.5M971.9 1109.4V1235.5M973.1 1141.3V1194M974.6 1147.7V1182.9M978.1 1148.5V1204.3M978.5 1146.2V1166.9M979.9 1140.6V1174.6M981.1 1152.7V1192.7M982.9 1170.9V1216.1M985.3 1137.8V1195.7M987.5 1170.2V1223.9M988 1196.1V1239.1M990.9 1185.5V1245.6M991.4 1117.6V1161.6M992.2 1118.9V1191.3M994.3 1191V1234M1001.3 1121.9V1195.8M1001.5 1151.8V1199.7M1002.1 1164V1229.4M1003.3 1127.9V1256M1003.8 1181V1207.7M1006.2 1181.4V1230.3M1006.4 1184.2V1233.3M1007.5 1161.6V1192.5M1011.6 1149.3V1197.4M1013.6 1175.9V1215.7M1015.3 1143.1V1170.2M1016.4 1136.9V1176.6M1016.9 1109.9V1179.9M1020.3 1140.1V1164.3M1023.7 1115.2V1161.8M1036.8 1166.2V1221.3M1037.7 1144.7V1196.3M1040.9 1183.8V1234.3M1041.4 1164.1V1266.3M1045.3 1198.1V1225.9M1045.7 1127.3V1178.2M1047.1 1137.7V1180.1M1048.9 1144.9V1183.4M1049.6 1151.7V1200.9M1050.6 1178.4V1226.3M1051.9 1109.7V1157.6M1053.7 1209.2V1243.6M1054.5 1170.9V1214.1"/>
</g>
<path clip-path="url(#c0)" stroke="#000" stroke-width="1.2" d="M382.7 198.7V335.7M582.3 138.4V324.5M563.3 164V343M409.8 176V309M610.4 274V344M632.3 261V319"/>
<path clip-path="url(#c1)" stroke="#000" stroke-width="1.2" d="M441.7 410V694M561 408V698M581.5 420V698M247 435V688M633 556V698M698 408V488M727 408V450M832 408V640M926 408V505M1029 408V462"/>
<path clip-path="url(#c2)" stroke="#000" stroke-width="1.2" d="M409.8 729V904M565 729V1018M581.5 729V1018M551 965V1018M610.8 729V782M926 729V815M1029.4 914V1018M277 880V1018"/>
<path clip-path="url(#c3)" stroke="#000" stroke-width="1.2" d="M408.6 1049V1335M565 1049V1339M561 1265V1339M346.5 1049V1120M601.8 1049V1110M632.7 1049V1120M755.6 1049V1110M824.5 1049V1120M860 1049V1110M925.9 1049V1130M965 1049V1100M1012.5 1049V1110M1029.8 1074V1339M978.3 1215V1330M150.4 1086V1339M151.6 1084V1227"/>
<path stroke="#000" stroke-width="1.1" fill="none" d="M151.6 1227H160.3V1209M1046.4 1273V1108H1056M1038 1273H1056M1053.5 1120V1273"/>
<g clip-path="url(#c0)" fill="none" stroke="#f00" stroke-width="1.15"><path d="M145.7 139.8V156.8M145.7 144.2V166.6M171.1 116.5V130.9M171.1 124.3V136.7M171.1 125.8V151.6M171.1 141.1V160.3M152.7 153.5V182.7M164.1 156V180.2M164.1 173.7V182.9M202.6 133.9V153.3M208.5 147.3V162.7M221.2 135.7V155.5M227.5 144.7V167.3M227.5 148.6V175.4M214.8 158.6V171.4M221.8 155.8V170.2M240.2 128V146.8M234 166.9V181.5M270.4 139.8V155.6M270.4 149.5V173.7M270.4 166.1V177.5M264.3 166.6V180.2M264.3 165.7V201.5M283.5 132.1V142.7M283.5 160.8V175.4M290.3 151.1V172.9M290.3 167.5V184.3M296.4 153.7V177.5M296.4 161.4V182.2M302.5 134.2V161.2M302.9 161.5V182.1M302.9 164.1V192.5M308.9 165.1V186.7M321.5 149.6V170.2M320.9 164.1V183.5M327.7 127.3V149.7M327.7 159.2V184.4M334.2 162.2V183.4M334.2 167.2V193.6M346.9 154V179.4M353.2 155.6V179M359.8 131.1V151.9M346.1 174.4V190.4M352.6 175.6V191.2M146.5 184.6V211.2M146.5 191.5V220.7M146.5 203.1V214.1M158 195.3V229.3M158 209.2V229.2M158 223.7V241.3M164.1 188.6V209.4M176.8 187V198.2M176.8 194.8V209.2M177.8 194.5V219.3M190.1 186V205.4M190.1 187.2V212.4M189.1 209.3V230.3M195.6 162.6V191.2M196.2 178.4V193M195.6 194V215M197.2 214.9V230.9M202.4 179.3V199.1M202.4 189.8V215M202.4 199V225.6M208.5 171.4V192.6M208.5 172.3V196.7M215.2 173.8V186.2M215.2 183.1V200.5M214.6 199.4V226M220.8 168.2V195M220.8 209.1V223.5M227.9 190.4V214.4M227.5 205.9V217.3M228.3 210.7V239.9M233.6 186V201.8M233.6 200.5V218.7M234.5 216.9V243.1M239.8 182.3V207.1M245.9 186V201.8M245.9 213V232.8M253.5 172.4V203M258.6 177.8V200.6M258.2 211.1V223.3M258.6 206.7V241.1M258.6 217V241M264.3 186.8V203.8M270.8 203.7V211.5M270.8 209.5V223.1M277.4 194.6V210.2M277.4 206.4V226.2M277.4 213.8V227.8M284.1 190.9V211.9M283.5 205.4V226M290.3 189.1V226.1M289.2 204.8V233.6M296.4 178.3V200.1M295.8 200.3V217.7M297 225.1V232.1M302.9 184V193M308.9 194.2V216.8M307 212.5V242.3M315.4 171.8V200.4M315.4 183.8V199.8M320.9 183.3V203.1M327.7 184.6V208M327.7 193.3V207.5M334.2 177.2V203.2M335.2 184.6V208.8M335.2 201.9V229.5M340.4 182.8V210.6M339.3 189.1V216.7M340.4 201.9V218.5M353.2 200.7V212.3M353.2 198.4V222.8M359.2 184.1V199.5M359.2 192.5V208.3M365.7 197.1V220.9M369 214.8V235M371.6 212V237M377.8 201.9V234.9M385.9 214.3V234.7M396.2 222V238M402.3 176.4V199M402.3 190.8V213.2M409.5 190.1V222.9M409.5 206.4V233.2M421.1 138V159.8M421.5 178.6V196.8M422.1 190.6V220.4M424.8 220.8V238.4M428.3 195.2V208.8M428.7 208.3V216.3M432.4 205.1V232.5M434.4 149.1V170.7M434.4 168.2V193.8M435 199.8V217.4M447.3 173.9V189.3M447.7 191.6V210M452.8 182.2V202.2M452.8 194V208.8M453.8 133.5V164.3M453.8 141.4V170.2M453.8 202.4V240.2M459.5 152.8V174.4M460 168.2V193M459.3 191.9V219.5M466.9 135.3V158.3M466.9 145.1V173.1M467.3 163.7V184.7M467.3 174.2V189.8M467.3 187.9V208.9M472.6 166.8V191.8M472.6 179.7V203.5M472.2 202.2V215M473.4 221.8V238.2M478.4 174.1V198.1M479.4 190.8V210M479.4 201.8V223.6M484.9 173V199.2M484.9 199.6V213.4M485.5 207.3V229.5M490.6 167.4V187.6M490.6 184.8V203M491.6 196.4V220M497.2 161V172.4M497.2 165.6V192.6M497.2 208.3V227.3M503.3 173.3V195.7M503.3 205.7V226.9M509 184.1V202.3M509 187.5V213.3M512.7 219.8V233.4M515.6 173V191.8M515.6 180.4V201.2M516.2 218.4V241.6M521.7 178.7V207.7M522.3 200.2V225.2M521.3 202.9V232.7M527.8 159.4V183.4M527.8 179.7V191.7M528.4 199.2V217.2M529.1 216.7V243.3M534.6 173.8V201.6M534.6 184.1V206.5M540.7 201.3V220.7M540.7 209.8V231M541.3 215.3V235.3M546.8 219.1V238.9M552.4 183.9V210.7M552.4 194.2V208.6M559.1 203.4V224M559.1 205.4V230.2M564.8 183V200.6M571.4 198.3V224.9M571.4 218.2V235M577.5 154V167M577.5 159.9V174.7M577.5 167.1V198.1M577.5 200.1V236.7M578.5 214.8V241.2M584.3 159.5V177.9M583.6 169.9V187.9M584.3 179.6V202.8M583.6 193.2V219M585.7 208.7V235.1M590.4 169.2V187.4M590.4 189.7V213.1M590.8 201.3V223.3M590.4 219.5V242.7M596.5 175.1V188.1M596.5 182.8V205.8M596.9 189.8V215M603.1 158.1V179.3M603.1 178.9V199.5M602.5 201.8V220.2M609.2 174.4V197M609.2 199.8V207.2M609.8 206.9V229.9M615.3 177.6V199.4M614.7 192V223.2M621.5 152.9V177.5M621.1 183.6V209M621.5 191.9V229.3M627.6 199.3V217.1M627.6 206.7V234.9M633.7 177.8V192.4M633.7 206.3V218.3M633.7 206.4V223.8M639.9 175.9V203.7M646 125.3V133.7M646 150.3V180.1M646.6 197.4V210.8M652.7 163.1V184.5M652.7 165.8V192M652.7 181.3V217.5M652.7 200.5V220.7M658.9 135.5V149.9M658.9 172.3V197.9M658.9 203.6V223.8M665.4 168V198M665.4 180.3V204.1M665.8 208.3V237.5M671.6 148.1V168.9M671.6 173V179.6M671.1 192.7V208.1M672.6 210.5V227.9M678.1 131.7V159.5M677.7 151.2V176M678.1 173.4V198M684.2 153.8V172.6M684.2 175.5V199.9M683.8 179.3V207.1M684.2 194.4V213.8M687.9 213.3V236.5M690.4 194.4V202.4M690 208.5V231.1M696.5 190.4V206.4M697.1 199.1V220.1M696.1 211.2V232.6M703.2 168.1V190.5M702.6 179.8V195.6M702.2 182.9V205.7M703.2 209.8V230.6M709.4 160.8V180.8M709.4 170V201.4M709.4 192.6V210.2M708.8 217.7V231.3M706.3 227.1V245.3M715.5 186.9V213.9M716.1 196.4V210.6M716.1 213.1V246.1M721.6 147.6V173.4M721.6 185.4V204M722.3 190.3V215.5M727.8 179.7V208.9M733.9 148.9V168.1M733.9 181.4V198.2M733.9 182.9V203.5M740 174.4V197M740.7 194.1V212.9M741.1 214.3V235.5M746.8 148.1V168.9M746.8 150.6V174.6M747.2 172.5V197.7M747.2 207.1V239.5M752.9 152.6V177.8M752.9 165.5V184.1M753.7 172.7V196.3M759.5 168V183.8M759.5 169.2V189.4M759.9 178.7V198.3M759.9 195.1V224.1M760.5 215.9V238.1M771.7 173.8V192.2M771.7 192.1V220.1M772.1 197.2V227.4M777.9 164.7V189.1M777.9 181.1V197.3M778.9 203.6V213.6M777.9 210.6V234.4M784 169.9V194.1M785 169.3V202.1M785 190.2V210.6M790.1 182.8V199.6M791.2 191.8V213M790.1 199V219M796.7 164.2V184.2M796.7 177.7V193.7M796.7 179.3V210.1M797.3 203.2V229.4M803.4 155.3V180.9M803.4 169.4V182.4M804.4 206.8V224.6M809.6 189.1V211.7M810.6 191.7V217.3M815.1 176.2V205M815.1 193.3V218.9M821.8 192.5V204.3M822.4 192.7V216.3M828 176.8V191.2M828.6 151V168.8M828 186.9V204.9M827.3 196.4V225.6M831 150.8V168.4M834.1 169.5V188.5M833.7 174.1V197.1M831 178.2V204.4M835.1 196.6V216.6M840.2 191.1V204.7M846.8 150.8V175.8M846.8 165.7V187.5M847.4 172.1V193.3M852.9 177.1V204.7M853.5 200.4V215M859.6 162.3V182.7M859.6 176.5V202.9M859 192.5V204.5M865.2 140.7V155.3M865.8 140.9V171.3M865.2 151.6V166.4M865.2 213.2V234M871.9 188.2V212.8M878 171.2V201.2M878.7 185.2V214.6M878 204.8V223.6M884.2 155.2V185.8M884.8 175.6V203M885.2 205.7V221.1M883.6 217.4V235.6M890.5 124.3V152.1M890.9 187.5V201.3M890.3 183V209.8M896.4 140.4V162.4M897.1 145.7V161.3M897.5 179.4V197M899.9 194.7V220.7M903.2 201.8V216.8M902.6 204.5V230.5M902.6 214.3V239.9M909.3 156.7V180.1M909.3 178.3V204.3M909.7 192V218.4M915.5 161.6V184.2M915.9 175.9V193.7M915.9 175.5V206.3M921.6 194.3V217.7M922 215V236.4M927.7 169.3V181.5M934.3 164.6V187.4M940.4 144.6V168.6M940.4 176.6V199.8M946.5 156.8V170.6M946.5 173.4V181.4M946.9 175.1V191.9M946.9 183.4V203.4M952.7 154.6V174.8M952.7 168.2V176.8M953.7 182.5V211.5M953.1 189.6V217.6M953.7 213.1V238.3M958.8 161.7V183.3M959.2 173.8V191.6M958.8 178.4V204.2M959.2 182.9V211.1M962.5 145.5V169.7M962.9 162.4V181.4M962.5 199.9V214.7M966 172.8V194.2M966 193V210M966.6 203.7V232.9M969 220V242.4M972.1 201V216.4M972.7 228.2V245.2M978.2 171.4V194.8M978.2 196.3V218.3M983.7 167.9V177.1M984.4 187.6V215.4M990.5 179.6V190.8M990.5 195.6V212.4M991.5 193.2V222.2M996.6 176.8V191.6M996.6 180.6V210.2M997.2 198.7V216.7M1002.8 163.1V180.7M1003.4 192.4V216.8M1002.8 192.9V226.5M1008.9 160.8V180.2M1008.9 163V189M1008.9 179.9V186.3M1009.5 186.8V210.2M1015.6 157.1V173.1M1015 176.6V205.2M1015 189.2V203.6M1015.6 200.5V222.1M1016.5 215.9V236.3M1027.3 197.2V228.4M1027.3 222.5V241.9M1033.8 195.1V210.1M1033.8 196.2V215.8M896.5 76.9V98.1"/><path d="M142 148.3l3.7 -3.1l3.7 3.1l-3.7 3.1zM142 155.4l3.7 -3.1l3.7 3.1l-3.7 3.1zM167.4 123.7l3.7 -3.1l3.7 3.1l-3.7 3.1zM167.4 130.5l3.7 -3.1l3.7 3.1l-3.7 3.1zM167.4 138.7l3.7 -3.1l3.7 3.1l-3.7 3.1zM167.4 150.7l3.7 -3.1l3.7 3.1l-3.7 3.1zM149 168.1l3.7 -3.1l3.7 3.1l-3.7 3.1zM160.4 168.1l3.7 -3.1l3.7 3.1l-3.7 3.1zM160.4 178.3l3.7 -3.1l3.7 3.1l-3.7 3.1zM198.9 143.6l3.7 -3.1l3.7 3.1l-3.7 3.1zM204.8 155l3.7 -3.1l3.7 3.1l-3.7 3.1zM217.5 145.6l3.7 -3.1l3.7 3.1l-3.7 3.1zM223.8 156l3.7 -3.1l3.7 3.1l-3.7 3.1zM223.8 162l3.7 -3.1l3.7 3.1l-3.7 3.1zM211.1 165l3.7 -3.1l3.7 3.1l-3.7 3.1zM218.1 163l3.7 -3.1l3.7 3.1l-3.7 3.1zM236.5 137.4l3.7 -3.1l3.7 3.1l-3.7 3.1zM230.3 174.2l3.7 -3.1l3.7 3.1l-3.7 3.1zM266.7 147.7l3.7 -3.1l3.7 3.1l-3.7 3.1zM266.7 161.6l3.7 -3.1l3.7 3.1l-3.7 3.1zM266.7 171.8l3.7 -3.1l3.7 3.1l-3.7 3.1zM260.6 173.4l3.7 -3.1l3.7 3.1l-3.7 3.1zM260.6 183.6l3.7 -3.1l3.7 3.1l-3.7 3.1zM279.8 137.4l3.7 -3.1l3.7 3.1l-3.7 3.1zM279.8 168.1l3.7 -3.1l3.7 3.1l-3.7 3.1zM286.6 162l3.7 -3.1l3.7 3.1l-3.7 3.1zM286.6 175.9l3.7 -3.1l3.7 3.1l-3.7 3.1zM292.7 165.6l3.7 -3.1l3.7 3.1l-3.7 3.1zM292.7 171.8l3.7 -3.1l3.7 3.1l-3.7 3.1zM298.8 147.7l3.7 -3.1l3.7 3.1l-3.7 3.1zM299.2 171.8l3.7 -3.1l3.7 3.1l-3.7 3.1zM299.2 178.3l3.7 -3.1l3.7 3.1l-3.7 3.1zM305.2 175.9l3.7 -3.1l3.7 3.1l-3.7 3.1zM317.8 159.9l3.7 -3.1l3.7 3.1l-3.7 3.1zM317.2 173.8l3.7 -3.1l3.7 3.1l-3.7 3.1zM324 138.5l3.7 -3.1l3.7 3.1l-3.7 3.1zM324 171.8l3.7 -3.1l3.7 3.1l-3.7 3.1zM330.5 172.8l3.7 -3.1l3.7 3.1l-3.7 3.1zM330.5 180.4l3.7 -3.1l3.7 3.1l-3.7 3.1zM343.2 166.7l3.7 -3.1l3.7 3.1l-3.7 3.1zM349.5 167.3l3.7 -3.1l3.7 3.1l-3.7 3.1zM356.1 141.5l3.7 -3.1l3.7 3.1l-3.7 3.1zM342.4 182.4l3.7 -3.1l3.7 3.1l-3.7 3.1zM348.9 183.4l3.7 -3.1l3.7 3.1l-3.7 3.1zM142.8 197.9l3.7 -3.1l3.7 3.1l-3.7 3.1zM142.8 206.1l3.7 -3.1l3.7 3.1l-3.7 3.1zM142.8 208.6l3.7 -3.1l3.7 3.1l-3.7 3.1zM154.3 212.3l3.7 -3.1l3.7 3.1l-3.7 3.1zM154.3 219.2l3.7 -3.1l3.7 3.1l-3.7 3.1zM154.3 232.5l3.7 -3.1l3.7 3.1l-3.7 3.1zM160.4 199l3.7 -3.1l3.7 3.1l-3.7 3.1zM173.1 192.6l3.7 -3.1l3.7 3.1l-3.7 3.1zM173.1 202l3.7 -3.1l3.7 3.1l-3.7 3.1zM174.1 206.9l3.7 -3.1l3.7 3.1l-3.7 3.1zM186.4 195.7l3.7 -3.1l3.7 3.1l-3.7 3.1zM186.4 199.8l3.7 -3.1l3.7 3.1l-3.7 3.1zM185.4 219.8l3.7 -3.1l3.7 3.1l-3.7 3.1zM191.9 176.9l3.7 -3.1l3.7 3.1l-3.7 3.1zM192.5 185.7l3.7 -3.1l3.7 3.1l-3.7 3.1zM191.9 204.5l3.7 -3.1l3.7 3.1l-3.7 3.1zM193.5 222.9l3.7 -3.1l3.7 3.1l-3.7 3.1zM198.7 189.2l3.7 -3.1l3.7 3.1l-3.7 3.1zM198.7 202.4l3.7 -3.1l3.7 3.1l-3.7 3.1zM198.7 212.3l3.7 -3.1l3.7 3.1l-3.7 3.1zM204.8 182l3.7 -3.1l3.7 3.1l-3.7 3.1zM204.8 184.5l3.7 -3.1l3.7 3.1l-3.7 3.1zM211.5 180l3.7 -3.1l3.7 3.1l-3.7 3.1zM211.5 191.8l3.7 -3.1l3.7 3.1l-3.7 3.1zM210.9 212.7l3.7 -3.1l3.7 3.1l-3.7 3.1zM217.1 181.6l3.7 -3.1l3.7 3.1l-3.7 3.1zM217.1 216.3l3.7 -3.1l3.7 3.1l-3.7 3.1zM224.2 202.4l3.7 -3.1l3.7 3.1l-3.7 3.1zM223.8 211.6l3.7 -3.1l3.7 3.1l-3.7 3.1zM224.6 225.3l3.7 -3.1l3.7 3.1l-3.7 3.1zM229.9 193.9l3.7 -3.1l3.7 3.1l-3.7 3.1zM229.9 209.6l3.7 -3.1l3.7 3.1l-3.7 3.1zM230.8 230l3.7 -3.1l3.7 3.1l-3.7 3.1zM236.1 194.7l3.7 -3.1l3.7 3.1l-3.7 3.1zM242.2 193.9l3.7 -3.1l3.7 3.1l-3.7 3.1zM242.2 222.9l3.7 -3.1l3.7 3.1l-3.7 3.1zM249.8 187.7l3.7 -3.1l3.7 3.1l-3.7 3.1zM254.9 189.2l3.7 -3.1l3.7 3.1l-3.7 3.1zM254.5 217.2l3.7 -3.1l3.7 3.1l-3.7 3.1zM254.9 223.9l3.7 -3.1l3.7 3.1l-3.7 3.1zM254.9 229l3.7 -3.1l3.7 3.1l-3.7 3.1zM260.6 195.3l3.7 -3.1l3.7 3.1l-3.7 3.1zM267.1 207.6l3.7 -3.1l3.7 3.1l-3.7 3.1zM267.1 216.3l3.7 -3.1l3.7 3.1l-3.7 3.1zM273.7 202.4l3.7 -3.1l3.7 3.1l-3.7 3.1zM273.7 216.3l3.7 -3.1l3.7 3.1l-3.7 3.1zM273.7 220.8l3.7 -3.1l3.7 3.1l-3.7 3.1zM280.4 201.4l3.7 -3.1l3.7 3.1l-3.7 3.1zM279.8 215.7l3.7 -3.1l3.7 3.1l-3.7 3.1zM286.6 207.6l3.7 -3.1l3.7 3.1l-3.7 3.1zM285.5 219.2l3.7 -3.1l3.7 3.1l-3.7 3.1zM292.7 189.2l3.7 -3.1l3.7 3.1l-3.7 3.1zM292.1 209l3.7 -3.1l3.7 3.1l-3.7 3.1zM293.3 228.6l3.7 -3.1l3.7 3.1l-3.7 3.1zM299.2 188.5l3.7 -3.1l3.7 3.1l-3.7 3.1zM305.2 205.5l3.7 -3.1l3.7 3.1l-3.7 3.1zM303.3 227.4l3.7 -3.1l3.7 3.1l-3.7 3.1zM311.7 186.1l3.7 -3.1l3.7 3.1l-3.7 3.1zM311.7 191.8l3.7 -3.1l3.7 3.1l-3.7 3.1zM317.2 193.2l3.7 -3.1l3.7 3.1l-3.7 3.1zM324 196.3l3.7 -3.1l3.7 3.1l-3.7 3.1zM324 200.4l3.7 -3.1l3.7 3.1l-3.7 3.1zM330.5 190.2l3.7 -3.1l3.7 3.1l-3.7 3.1zM331.5 196.7l3.7 -3.1l3.7 3.1l-3.7 3.1zM331.5 215.7l3.7 -3.1l3.7 3.1l-3.7 3.1zM336.7 196.7l3.7 -3.1l3.7 3.1l-3.7 3.1zM335.6 202.9l3.7 -3.1l3.7 3.1l-3.7 3.1zM336.7 210.2l3.7 -3.1l3.7 3.1l-3.7 3.1zM349.5 206.5l3.7 -3.1l3.7 3.1l-3.7 3.1zM349.5 210.6l3.7 -3.1l3.7 3.1l-3.7 3.1zM355.5 191.8l3.7 -3.1l3.7 3.1l-3.7 3.1zM355.5 200.4l3.7 -3.1l3.7 3.1l-3.7 3.1zM362 209l3.7 -3.1l3.7 3.1l-3.7 3.1zM365.3 224.9l3.7 -3.1l3.7 3.1l-3.7 3.1zM367.9 224.5l3.7 -3.1l3.7 3.1l-3.7 3.1zM374.1 218.4l3.7 -3.1l3.7 3.1l-3.7 3.1zM382.2 224.5l3.7 -3.1l3.7 3.1l-3.7 3.1zM392.5 230l3.7 -3.1l3.7 3.1l-3.7 3.1zM398.6 187.7l3.7 -3.1l3.7 3.1l-3.7 3.1zM398.6 202l3.7 -3.1l3.7 3.1l-3.7 3.1zM405.8 206.5l3.7 -3.1l3.7 3.1l-3.7 3.1zM405.8 219.8l3.7 -3.1l3.7 3.1l-3.7 3.1zM417.4 148.9l3.7 -3.1l3.7 3.1l-3.7 3.1zM417.8 187.7l3.7 -3.1l3.7 3.1l-3.7 3.1zM418.4 205.5l3.7 -3.1l3.7 3.1l-3.7 3.1zM421.1 229.6l3.7 -3.1l3.7 3.1l-3.7 3.1zM424.6 202l3.7 -3.1l3.7 3.1l-3.7 3.1zM425 212.3l3.7 -3.1l3.7 3.1l-3.7 3.1zM428.7 218.8l3.7 -3.1l3.7 3.1l-3.7 3.1zM430.7 159.9l3.7 -3.1l3.7 3.1l-3.7 3.1zM430.7 181l3.7 -3.1l3.7 3.1l-3.7 3.1zM431.3 208.6l3.7 -3.1l3.7 3.1l-3.7 3.1zM443.6 181.6l3.7 -3.1l3.7 3.1l-3.7 3.1zM444 200.8l3.7 -3.1l3.7 3.1l-3.7 3.1zM449.1 192.2l3.7 -3.1l3.7 3.1l-3.7 3.1zM449.1 201.4l3.7 -3.1l3.7 3.1l-3.7 3.1zM450.1 148.9l3.7 -3.1l3.7 3.1l-3.7 3.1zM450.1 155.8l3.7 -3.1l3.7 3.1l-3.7 3.1zM450.1 221.3l3.7 -3.1l3.7 3.1l-3.7 3.1zM455.8 163.6l3.7 -3.1l3.7 3.1l-3.7 3.1zM456.3 180.6l3.7 -3.1l3.7 3.1l-3.7 3.1zM455.6 205.7l3.7 -3.1l3.7 3.1l-3.7 3.1zM463.2 146.8l3.7 -3.1l3.7 3.1l-3.7 3.1zM463.2 159.1l3.7 -3.1l3.7 3.1l-3.7 3.1zM463.6 174.2l3.7 -3.1l3.7 3.1l-3.7 3.1zM463.6 182l3.7 -3.1l3.7 3.1l-3.7 3.1zM463.6 198.4l3.7 -3.1l3.7 3.1l-3.7 3.1zM468.9 179.3l3.7 -3.1l3.7 3.1l-3.7 3.1zM468.9 191.6l3.7 -3.1l3.7 3.1l-3.7 3.1zM468.5 208.6l3.7 -3.1l3.7 3.1l-3.7 3.1zM469.7 230l3.7 -3.1l3.7 3.1l-3.7 3.1zM474.7 186.1l3.7 -3.1l3.7 3.1l-3.7 3.1zM475.7 200.4l3.7 -3.1l3.7 3.1l-3.7 3.1zM475.7 212.7l3.7 -3.1l3.7 3.1l-3.7 3.1zM481.2 186.1l3.7 -3.1l3.7 3.1l-3.7 3.1zM481.2 206.5l3.7 -3.1l3.7 3.1l-3.7 3.1zM481.8 218.4l3.7 -3.1l3.7 3.1l-3.7 3.1zM486.9 177.5l3.7 -3.1l3.7 3.1l-3.7 3.1zM486.9 193.9l3.7 -3.1l3.7 3.1l-3.7 3.1zM487.9 208.2l3.7 -3.1l3.7 3.1l-3.7 3.1zM493.5 166.7l3.7 -3.1l3.7 3.1l-3.7 3.1zM493.5 179.1l3.7 -3.1l3.7 3.1l-3.7 3.1zM493.5 217.8l3.7 -3.1l3.7 3.1l-3.7 3.1zM499.6 184.5l3.7 -3.1l3.7 3.1l-3.7 3.1zM499.6 216.3l3.7 -3.1l3.7 3.1l-3.7 3.1zM505.3 193.2l3.7 -3.1l3.7 3.1l-3.7 3.1zM505.3 200.4l3.7 -3.1l3.7 3.1l-3.7 3.1zM509 226.6l3.7 -3.1l3.7 3.1l-3.7 3.1zM511.9 182.4l3.7 -3.1l3.7 3.1l-3.7 3.1zM511.9 190.8l3.7 -3.1l3.7 3.1l-3.7 3.1zM512.5 230l3.7 -3.1l3.7 3.1l-3.7 3.1zM518 193.2l3.7 -3.1l3.7 3.1l-3.7 3.1zM518.6 212.7l3.7 -3.1l3.7 3.1l-3.7 3.1zM517.6 217.8l3.7 -3.1l3.7 3.1l-3.7 3.1zM524.1 171.4l3.7 -3.1l3.7 3.1l-3.7 3.1zM524.1 185.7l3.7 -3.1l3.7 3.1l-3.7 3.1zM524.7 208.2l3.7 -3.1l3.7 3.1l-3.7 3.1zM525.4 230l3.7 -3.1l3.7 3.1l-3.7 3.1zM530.9 187.7l3.7 -3.1l3.7 3.1l-3.7 3.1zM530.9 195.3l3.7 -3.1l3.7 3.1l-3.7 3.1zM537 211l3.7 -3.1l3.7 3.1l-3.7 3.1zM537 220.4l3.7 -3.1l3.7 3.1l-3.7 3.1zM537.6 225.3l3.7 -3.1l3.7 3.1l-3.7 3.1zM543.1 229l3.7 -3.1l3.7 3.1l-3.7 3.1zM548.7 197.3l3.7 -3.1l3.7 3.1l-3.7 3.1zM548.7 201.4l3.7 -3.1l3.7 3.1l-3.7 3.1zM555.4 213.7l3.7 -3.1l3.7 3.1l-3.7 3.1zM555.4 217.8l3.7 -3.1l3.7 3.1l-3.7 3.1zM561.1 191.8l3.7 -3.1l3.7 3.1l-3.7 3.1zM567.7 211.6l3.7 -3.1l3.7 3.1l-3.7 3.1zM567.7 226.6l3.7 -3.1l3.7 3.1l-3.7 3.1zM573.8 160.5l3.7 -3.1l3.7 3.1l-3.7 3.1zM573.8 167.3l3.7 -3.1l3.7 3.1l-3.7 3.1zM573.8 182.6l3.7 -3.1l3.7 3.1l-3.7 3.1zM573.8 218.4l3.7 -3.1l3.7 3.1l-3.7 3.1zM574.8 228l3.7 -3.1l3.7 3.1l-3.7 3.1zM580.6 168.7l3.7 -3.1l3.7 3.1l-3.7 3.1zM579.9 178.9l3.7 -3.1l3.7 3.1l-3.7 3.1zM580.6 191.2l3.7 -3.1l3.7 3.1l-3.7 3.1zM579.9 206.1l3.7 -3.1l3.7 3.1l-3.7 3.1zM582 221.9l3.7 -3.1l3.7 3.1l-3.7 3.1zM586.7 178.3l3.7 -3.1l3.7 3.1l-3.7 3.1zM586.7 201.4l3.7 -3.1l3.7 3.1l-3.7 3.1zM587.1 212.3l3.7 -3.1l3.7 3.1l-3.7 3.1zM586.7 231.1l3.7 -3.1l3.7 3.1l-3.7 3.1zM592.8 181.6l3.7 -3.1l3.7 3.1l-3.7 3.1zM592.8 194.3l3.7 -3.1l3.7 3.1l-3.7 3.1zM593.2 202.4l3.7 -3.1l3.7 3.1l-3.7 3.1zM599.4 168.7l3.7 -3.1l3.7 3.1l-3.7 3.1zM599.4 189.2l3.7 -3.1l3.7 3.1l-3.7 3.1zM598.8 211l3.7 -3.1l3.7 3.1l-3.7 3.1zM605.5 185.7l3.7 -3.1l3.7 3.1l-3.7 3.1zM605.5 203.5l3.7 -3.1l3.7 3.1l-3.7 3.1zM606.1 218.4l3.7 -3.1l3.7 3.1l-3.7 3.1zM611.6 188.5l3.7 -3.1l3.7 3.1l-3.7 3.1zM611 207.6l3.7 -3.1l3.7 3.1l-3.7 3.1zM617.8 165.2l3.7 -3.1l3.7 3.1l-3.7 3.1zM617.4 196.3l3.7 -3.1l3.7 3.1l-3.7 3.1zM617.8 210.6l3.7 -3.1l3.7 3.1l-3.7 3.1zM623.9 208.2l3.7 -3.1l3.7 3.1l-3.7 3.1zM623.9 220.8l3.7 -3.1l3.7 3.1l-3.7 3.1zM630 185.1l3.7 -3.1l3.7 3.1l-3.7 3.1zM630 212.3l3.7 -3.1l3.7 3.1l-3.7 3.1zM630 215.1l3.7 -3.1l3.7 3.1l-3.7 3.1zM636.2 189.8l3.7 -3.1l3.7 3.1l-3.7 3.1zM642.3 129.5l3.7 -3.1l3.7 3.1l-3.7 3.1zM642.3 165.2l3.7 -3.1l3.7 3.1l-3.7 3.1zM642.9 204.1l3.7 -3.1l3.7 3.1l-3.7 3.1zM649 173.8l3.7 -3.1l3.7 3.1l-3.7 3.1zM649 178.9l3.7 -3.1l3.7 3.1l-3.7 3.1zM649 199.4l3.7 -3.1l3.7 3.1l-3.7 3.1zM649 210.6l3.7 -3.1l3.7 3.1l-3.7 3.1zM655.2 142.7l3.7 -3.1l3.7 3.1l-3.7 3.1zM655.2 185.1l3.7 -3.1l3.7 3.1l-3.7 3.1zM655.2 213.7l3.7 -3.1l3.7 3.1l-3.7 3.1zM661.7 183l3.7 -3.1l3.7 3.1l-3.7 3.1zM661.7 192.2l3.7 -3.1l3.7 3.1l-3.7 3.1zM662.1 222.9l3.7 -3.1l3.7 3.1l-3.7 3.1zM667.9 158.5l3.7 -3.1l3.7 3.1l-3.7 3.1zM667.9 176.3l3.7 -3.1l3.7 3.1l-3.7 3.1zM667.4 200.4l3.7 -3.1l3.7 3.1l-3.7 3.1zM668.9 219.2l3.7 -3.1l3.7 3.1l-3.7 3.1zM674.4 145.6l3.7 -3.1l3.7 3.1l-3.7 3.1zM674 163.6l3.7 -3.1l3.7 3.1l-3.7 3.1zM674.4 185.7l3.7 -3.1l3.7 3.1l-3.7 3.1zM680.5 163.2l3.7 -3.1l3.7 3.1l-3.7 3.1zM680.5 187.7l3.7 -3.1l3.7 3.1l-3.7 3.1zM680.1 193.2l3.7 -3.1l3.7 3.1l-3.7 3.1zM680.5 204.1l3.7 -3.1l3.7 3.1l-3.7 3.1zM684.2 224.9l3.7 -3.1l3.7 3.1l-3.7 3.1zM686.7 198.4l3.7 -3.1l3.7 3.1l-3.7 3.1zM686.3 219.8l3.7 -3.1l3.7 3.1l-3.7 3.1zM692.8 198.4l3.7 -3.1l3.7 3.1l-3.7 3.1zM693.4 209.6l3.7 -3.1l3.7 3.1l-3.7 3.1zM692.4 221.9l3.7 -3.1l3.7 3.1l-3.7 3.1zM699.5 179.3l3.7 -3.1l3.7 3.1l-3.7 3.1zM698.9 187.7l3.7 -3.1l3.7 3.1l-3.7 3.1zM698.5 194.3l3.7 -3.1l3.7 3.1l-3.7 3.1zM699.5 220.2l3.7 -3.1l3.7 3.1l-3.7 3.1zM705.7 170.8l3.7 -3.1l3.7 3.1l-3.7 3.1zM705.7 185.7l3.7 -3.1l3.7 3.1l-3.7 3.1zM705.7 201.4l3.7 -3.1l3.7 3.1l-3.7 3.1zM705.1 224.5l3.7 -3.1l3.7 3.1l-3.7 3.1zM702.6 236.2l3.7 -3.1l3.7 3.1l-3.7 3.1zM711.8 200.4l3.7 -3.1l3.7 3.1l-3.7 3.1zM712.4 203.5l3.7 -3.1l3.7 3.1l-3.7 3.1zM712.4 229.6l3.7 -3.1l3.7 3.1l-3.7 3.1zM717.9 160.5l3.7 -3.1l3.7 3.1l-3.7 3.1zM717.9 194.7l3.7 -3.1l3.7 3.1l-3.7 3.1zM718.6 202.9l3.7 -3.1l3.7 3.1l-3.7 3.1zM724.1 194.3l3.7 -3.1l3.7 3.1l-3.7 3.1zM730.2 158.5l3.7 -3.1l3.7 3.1l-3.7 3.1zM730.2 189.8l3.7 -3.1l3.7 3.1l-3.7 3.1zM730.2 193.2l3.7 -3.1l3.7 3.1l-3.7 3.1zM736.3 185.7l3.7 -3.1l3.7 3.1l-3.7 3.1zM737 203.5l3.7 -3.1l3.7 3.1l-3.7 3.1zM737.4 224.9l3.7 -3.1l3.7 3.1l-3.7 3.1zM743.1 158.5l3.7 -3.1l3.7 3.1l-3.7 3.1zM743.1 162.6l3.7 -3.1l3.7 3.1l-3.7 3.1zM743.5 185.1l3.7 -3.1l3.7 3.1l-3.7 3.1zM743.5 223.3l3.7 -3.1l3.7 3.1l-3.7 3.1zM749.2 165.2l3.7 -3.1l3.7 3.1l-3.7 3.1zM749.2 174.8l3.7 -3.1l3.7 3.1l-3.7 3.1zM750 184.5l3.7 -3.1l3.7 3.1l-3.7 3.1zM755.8 175.9l3.7 -3.1l3.7 3.1l-3.7 3.1zM755.8 179.3l3.7 -3.1l3.7 3.1l-3.7 3.1zM756.2 188.5l3.7 -3.1l3.7 3.1l-3.7 3.1zM756.2 209.6l3.7 -3.1l3.7 3.1l-3.7 3.1zM756.8 227l3.7 -3.1l3.7 3.1l-3.7 3.1zM768 183l3.7 -3.1l3.7 3.1l-3.7 3.1zM768 206.1l3.7 -3.1l3.7 3.1l-3.7 3.1zM768.4 212.3l3.7 -3.1l3.7 3.1l-3.7 3.1zM774.2 176.9l3.7 -3.1l3.7 3.1l-3.7 3.1zM774.2 189.2l3.7 -3.1l3.7 3.1l-3.7 3.1zM775.2 208.6l3.7 -3.1l3.7 3.1l-3.7 3.1zM774.2 222.5l3.7 -3.1l3.7 3.1l-3.7 3.1zM780.3 182l3.7 -3.1l3.7 3.1l-3.7 3.1zM781.3 185.7l3.7 -3.1l3.7 3.1l-3.7 3.1zM781.3 200.4l3.7 -3.1l3.7 3.1l-3.7 3.1zM786.4 191.2l3.7 -3.1l3.7 3.1l-3.7 3.1zM787.5 202.4l3.7 -3.1l3.7 3.1l-3.7 3.1zM786.4 209l3.7 -3.1l3.7 3.1l-3.7 3.1zM793 174.2l3.7 -3.1l3.7 3.1l-3.7 3.1zM793 185.7l3.7 -3.1l3.7 3.1l-3.7 3.1zM793 194.7l3.7 -3.1l3.7 3.1l-3.7 3.1zM793.6 216.3l3.7 -3.1l3.7 3.1l-3.7 3.1zM799.7 168.1l3.7 -3.1l3.7 3.1l-3.7 3.1zM799.7 175.9l3.7 -3.1l3.7 3.1l-3.7 3.1zM800.7 215.7l3.7 -3.1l3.7 3.1l-3.7 3.1zM805.9 200.4l3.7 -3.1l3.7 3.1l-3.7 3.1zM806.9 204.5l3.7 -3.1l3.7 3.1l-3.7 3.1zM811.4 190.6l3.7 -3.1l3.7 3.1l-3.7 3.1zM811.4 206.1l3.7 -3.1l3.7 3.1l-3.7 3.1zM818.1 198.4l3.7 -3.1l3.7 3.1l-3.7 3.1zM818.7 204.5l3.7 -3.1l3.7 3.1l-3.7 3.1zM824.3 184l3.7 -3.1l3.7 3.1l-3.7 3.1zM824.9 159.9l3.7 -3.1l3.7 3.1l-3.7 3.1zM824.3 195.9l3.7 -3.1l3.7 3.1l-3.7 3.1zM823.6 211l3.7 -3.1l3.7 3.1l-3.7 3.1zM827.3 159.6l3.7 -3.1l3.7 3.1l-3.7 3.1zM830.4 179l3.7 -3.1l3.7 3.1l-3.7 3.1zM830 185.6l3.7 -3.1l3.7 3.1l-3.7 3.1zM827.3 191.3l3.7 -3.1l3.7 3.1l-3.7 3.1zM831.4 206.6l3.7 -3.1l3.7 3.1l-3.7 3.1zM836.5 197.9l3.7 -3.1l3.7 3.1l-3.7 3.1zM843.1 163.3l3.7 -3.1l3.7 3.1l-3.7 3.1zM843.1 176.6l3.7 -3.1l3.7 3.1l-3.7 3.1zM843.7 182.7l3.7 -3.1l3.7 3.1l-3.7 3.1zM849.2 190.9l3.7 -3.1l3.7 3.1l-3.7 3.1zM849.8 207.7l3.7 -3.1l3.7 3.1l-3.7 3.1zM855.9 172.5l3.7 -3.1l3.7 3.1l-3.7 3.1zM855.9 189.7l3.7 -3.1l3.7 3.1l-3.7 3.1zM855.3 198.5l3.7 -3.1l3.7 3.1l-3.7 3.1zM861.5 148l3.7 -3.1l3.7 3.1l-3.7 3.1zM862.1 156.1l3.7 -3.1l3.7 3.1l-3.7 3.1zM861.5 159l3.7 -3.1l3.7 3.1l-3.7 3.1zM861.5 223.6l3.7 -3.1l3.7 3.1l-3.7 3.1zM868.2 200.5l3.7 -3.1l3.7 3.1l-3.7 3.1zM874.3 186.2l3.7 -3.1l3.7 3.1l-3.7 3.1zM875 199.9l3.7 -3.1l3.7 3.1l-3.7 3.1zM874.3 214.2l3.7 -3.1l3.7 3.1l-3.7 3.1zM880.5 170.5l3.7 -3.1l3.7 3.1l-3.7 3.1zM881.1 189.3l3.7 -3.1l3.7 3.1l-3.7 3.1zM881.5 213.4l3.7 -3.1l3.7 3.1l-3.7 3.1zM879.9 226.5l3.7 -3.1l3.7 3.1l-3.7 3.1zM886.8 138.2l3.7 -3.1l3.7 3.1l-3.7 3.1zM887.2 194.4l3.7 -3.1l3.7 3.1l-3.7 3.1zM886.6 196.4l3.7 -3.1l3.7 3.1l-3.7 3.1zM892.7 151.4l3.7 -3.1l3.7 3.1l-3.7 3.1zM893.4 153.5l3.7 -3.1l3.7 3.1l-3.7 3.1zM893.8 188.2l3.7 -3.1l3.7 3.1l-3.7 3.1zM896.2 207.7l3.7 -3.1l3.7 3.1l-3.7 3.1zM899.5 209.3l3.7 -3.1l3.7 3.1l-3.7 3.1zM898.9 217.5l3.7 -3.1l3.7 3.1l-3.7 3.1zM898.9 227.1l3.7 -3.1l3.7 3.1l-3.7 3.1zM905.6 168.4l3.7 -3.1l3.7 3.1l-3.7 3.1zM905.6 191.3l3.7 -3.1l3.7 3.1l-3.7 3.1zM906 205.2l3.7 -3.1l3.7 3.1l-3.7 3.1zM911.8 172.9l3.7 -3.1l3.7 3.1l-3.7 3.1zM912.2 184.8l3.7 -3.1l3.7 3.1l-3.7 3.1zM912.2 190.9l3.7 -3.1l3.7 3.1l-3.7 3.1zM917.9 206l3.7 -3.1l3.7 3.1l-3.7 3.1zM918.3 225.7l3.7 -3.1l3.7 3.1l-3.7 3.1zM924 175.4l3.7 -3.1l3.7 3.1l-3.7 3.1zM930.6 176l3.7 -3.1l3.7 3.1l-3.7 3.1zM936.7 156.6l3.7 -3.1l3.7 3.1l-3.7 3.1zM936.7 188.2l3.7 -3.1l3.7 3.1l-3.7 3.1zM942.8 163.7l3.7 -3.1l3.7 3.1l-3.7 3.1zM942.8 177.4l3.7 -3.1l3.7 3.1l-3.7 3.1zM943.2 183.5l3.7 -3.1l3.7 3.1l-3.7 3.1zM943.2 193.4l3.7 -3.1l3.7 3.1l-3.7 3.1zM949 164.7l3.7 -3.1l3.7 3.1l-3.7 3.1zM949 172.5l3.7 -3.1l3.7 3.1l-3.7 3.1zM950 197l3.7 -3.1l3.7 3.1l-3.7 3.1zM949.4 203.6l3.7 -3.1l3.7 3.1l-3.7 3.1zM950 225.7l3.7 -3.1l3.7 3.1l-3.7 3.1zM955.1 172.5l3.7 -3.1l3.7 3.1l-3.7 3.1zM955.5 182.7l3.7 -3.1l3.7 3.1l-3.7 3.1zM955.1 191.3l3.7 -3.1l3.7 3.1l-3.7 3.1zM955.5 197l3.7 -3.1l3.7 3.1l-3.7 3.1zM958.8 157.6l3.7 -3.1l3.7 3.1l-3.7 3.1zM959.2 171.9l3.7 -3.1l3.7 3.1l-3.7 3.1zM958.8 207.3l3.7 -3.1l3.7 3.1l-3.7 3.1zM962.3 183.5l3.7 -3.1l3.7 3.1l-3.7 3.1zM962.3 201.5l3.7 -3.1l3.7 3.1l-3.7 3.1zM962.9 218.3l3.7 -3.1l3.7 3.1l-3.7 3.1zM965.3 231.2l3.7 -3.1l3.7 3.1l-3.7 3.1zM968.4 208.7l3.7 -3.1l3.7 3.1l-3.7 3.1zM969 236.7l3.7 -3.1l3.7 3.1l-3.7 3.1zM974.5 183.1l3.7 -3.1l3.7 3.1l-3.7 3.1zM974.5 207.3l3.7 -3.1l3.7 3.1l-3.7 3.1zM980 172.5l3.7 -3.1l3.7 3.1l-3.7 3.1zM980.7 201.5l3.7 -3.1l3.7 3.1l-3.7 3.1zM986.8 185.2l3.7 -3.1l3.7 3.1l-3.7 3.1zM986.8 204l3.7 -3.1l3.7 3.1l-3.7 3.1zM987.8 207.7l3.7 -3.1l3.7 3.1l-3.7 3.1zM992.9 184.2l3.7 -3.1l3.7 3.1l-3.7 3.1zM992.9 195.4l3.7 -3.1l3.7 3.1l-3.7 3.1zM993.5 207.7l3.7 -3.1l3.7 3.1l-3.7 3.1zM999.1 171.9l3.7 -3.1l3.7 3.1l-3.7 3.1zM999.7 204.6l3.7 -3.1l3.7 3.1l-3.7 3.1zM999.1 209.7l3.7 -3.1l3.7 3.1l-3.7 3.1zM1005.2 170.5l3.7 -3.1l3.7 3.1l-3.7 3.1zM1005.2 176l3.7 -3.1l3.7 3.1l-3.7 3.1zM1005.2 183.1l3.7 -3.1l3.7 3.1l-3.7 3.1zM1005.8 198.5l3.7 -3.1l3.7 3.1l-3.7 3.1zM1011.9 165.1l3.7 -3.1l3.7 3.1l-3.7 3.1zM1011.3 190.9l3.7 -3.1l3.7 3.1l-3.7 3.1zM1011.3 196.4l3.7 -3.1l3.7 3.1l-3.7 3.1zM1011.9 211.3l3.7 -3.1l3.7 3.1l-3.7 3.1zM1012.8 226.1l3.7 -3.1l3.7 3.1l-3.7 3.1zM1023.6 212.8l3.7 -3.1l3.7 3.1l-3.7 3.1zM1023.6 232.2l3.7 -3.1l3.7 3.1l-3.7 3.1zM1030.1 202.6l3.7 -3.1l3.7 3.1l-3.7 3.1zM1030.1 206l3.7 -3.1l3.7 3.1l-3.7 3.1zM892.8 87.5l3.7 -3.1l3.7 3.1l-3.7 3.1z"/></g>
<g clip-path="url(#c1)" fill="none" stroke="#f00" stroke-width="1.15"><path d="M170.3 392.7V431.9M170.3 404.8V445.8M169.8 422.6V479.6M176.8 456.3V483.5M208.3 434.8V486.2M227.1 463V499.8M234 465V493.6M283.1 458.5V484.5M359.1 438V474.8M421.7 425.7V483.9M453.6 464.3V502.5M453.6 460.8V527.2M467.1 413.7V445.9M465.8 452V487M467.5 456.5V485.7M645.9 428.7V476.1M746.9 441.4V475.8M796.8 470.5V491.9M829 451.7V501.7M865.7 389V427.4M896.6 410.4V445.6M896.6 436.5V472.3M989.8 469.9V500.1M1015.8 452.4V499.4"/><path d="M166.6 412.3l3.7 -3.1l3.7 3.1l-3.7 3.1zM166.6 425.3l3.7 -3.1l3.7 3.1l-3.7 3.1zM166.1 451.1l3.7 -3.1l3.7 3.1l-3.7 3.1zM173.1 469.9l3.7 -3.1l3.7 3.1l-3.7 3.1zM204.6 460.5l3.7 -3.1l3.7 3.1l-3.7 3.1zM223.4 481.4l3.7 -3.1l3.7 3.1l-3.7 3.1zM230.3 479.3l3.7 -3.1l3.7 3.1l-3.7 3.1zM279.4 471.5l3.7 -3.1l3.7 3.1l-3.7 3.1zM355.4 456.4l3.7 -3.1l3.7 3.1l-3.7 3.1zM418 454.8l3.7 -3.1l3.7 3.1l-3.7 3.1zM449.9 483.4l3.7 -3.1l3.7 3.1l-3.7 3.1zM449.9 494l3.7 -3.1l3.7 3.1l-3.7 3.1zM463.4 429.8l3.7 -3.1l3.7 3.1l-3.7 3.1zM462.1 469.5l3.7 -3.1l3.7 3.1l-3.7 3.1zM463.8 471.1l3.7 -3.1l3.7 3.1l-3.7 3.1zM642.2 452.4l3.7 -3.1l3.7 3.1l-3.7 3.1zM743.2 458.6l3.7 -3.1l3.7 3.1l-3.7 3.1zM793.1 481.2l3.7 -3.1l3.7 3.1l-3.7 3.1zM825.3 476.7l3.7 -3.1l3.7 3.1l-3.7 3.1zM862 408.2l3.7 -3.1l3.7 3.1l-3.7 3.1zM892.9 428l3.7 -3.1l3.7 3.1l-3.7 3.1zM892.9 454.4l3.7 -3.1l3.7 3.1l-3.7 3.1zM986.1 485l3.7 -3.1l3.7 3.1l-3.7 3.1zM1012.1 475.9l3.7 -3.1l3.7 3.1l-3.7 3.1z"/></g>
<g clip-path="url(#c0)" fill="none" stroke="#0ff" stroke-width="1.15"><path d="M144.1 292.7V323.5M253.7 282.9V303.9M254.5 280V317.4M312.9 305.6V335.2M328.9 283.5V322.1M381.9 349V409M405 284V315M432.3 312V342M458 303.7V334.7M519.8 289.1V319.7M555 300.7V329.3M555 306V334M615.8 293.7V328.1M682.6 311.8V332.2M695.4 287.9V309.3M719.3 284.1V319.7M729.2 282.9V319.1M749 277.6V310.4M749 306.6V345.8M781.6 269.9V309.1M779.5 288.1V318.9M823.2 291.6V324.4M845.5 299V329.4M896.2 321.1V359.3M949.8 272.4V308.2M969.2 285.7V318.9M986.1 295.1V320.9M1016.2 284.1V312.1M1029 299.1V330.9"/><path d="M140.4 308.1l3.7 -3.1l3.7 3.1l-3.7 3.1zM250 293.4l3.7 -3.1l3.7 3.1l-3.7 3.1zM250.8 298.7l3.7 -3.1l3.7 3.1l-3.7 3.1zM309.2 320.4l3.7 -3.1l3.7 3.1l-3.7 3.1zM325.2 302.8l3.7 -3.1l3.7 3.1l-3.7 3.1zM378.2 379l3.7 -3.1l3.7 3.1l-3.7 3.1zM401.3 299.5l3.7 -3.1l3.7 3.1l-3.7 3.1zM428.6 327l3.7 -3.1l3.7 3.1l-3.7 3.1zM454.3 319.2l3.7 -3.1l3.7 3.1l-3.7 3.1zM516.1 304.4l3.7 -3.1l3.7 3.1l-3.7 3.1zM551.3 315l3.7 -3.1l3.7 3.1l-3.7 3.1zM551.3 320l3.7 -3.1l3.7 3.1l-3.7 3.1zM612.1 310.9l3.7 -3.1l3.7 3.1l-3.7 3.1zM678.9 322l3.7 -3.1l3.7 3.1l-3.7 3.1zM691.7 298.6l3.7 -3.1l3.7 3.1l-3.7 3.1zM715.6 301.9l3.7 -3.1l3.7 3.1l-3.7 3.1zM725.5 301l3.7 -3.1l3.7 3.1l-3.7 3.1zM745.3 294l3.7 -3.1l3.7 3.1l-3.7 3.1zM745.3 326.2l3.7 -3.1l3.7 3.1l-3.7 3.1zM777.9 289.5l3.7 -3.1l3.7 3.1l-3.7 3.1zM775.8 303.5l3.7 -3.1l3.7 3.1l-3.7 3.1zM819.5 308l3.7 -3.1l3.7 3.1l-3.7 3.1zM841.8 314.2l3.7 -3.1l3.7 3.1l-3.7 3.1zM892.5 340.2l3.7 -3.1l3.7 3.1l-3.7 3.1zM946.1 290.3l3.7 -3.1l3.7 3.1l-3.7 3.1zM965.5 302.3l3.7 -3.1l3.7 3.1l-3.7 3.1zM982.4 308l3.7 -3.1l3.7 3.1l-3.7 3.1zM1012.5 298.1l3.7 -3.1l3.7 3.1l-3.7 3.1zM1025.3 315l3.7 -3.1l3.7 3.1l-3.7 3.1z"/></g>
<g clip-path="url(#c1)" fill="none" stroke="#0ff" stroke-width="1.15"><path d="M363.6 615.3V661.3M447 677.2V720.8M736.6 628.7V683.5M798.5 628.6V665.4M862 618.5V655.7M867.8 611V665.8M951 605.7V647.9M949.8 632.3V663.3M969.2 626.4V679.2M1029.4 639.9V687.9"/><path d="M359.9 638.3l3.7 -3.1l3.7 3.1l-3.7 3.1zM443.3 699l3.7 -3.1l3.7 3.1l-3.7 3.1zM732.9 656.1l3.7 -3.1l3.7 3.1l-3.7 3.1zM794.8 647l3.7 -3.1l3.7 3.1l-3.7 3.1zM858.3 637.1l3.7 -3.1l3.7 3.1l-3.7 3.1zM864.1 638.4l3.7 -3.1l3.7 3.1l-3.7 3.1zM947.3 626.8l3.7 -3.1l3.7 3.1l-3.7 3.1zM946.1 647.8l3.7 -3.1l3.7 3.1l-3.7 3.1zM965.5 652.8l3.7 -3.1l3.7 3.1l-3.7 3.1zM1025.7 663.9l3.7 -3.1l3.7 3.1l-3.7 3.1z"/></g>
<g clip-path="url(#c2)" fill="none" stroke="#0ff" stroke-width="1.15"><path d="M174.3 920.4V980.8M247.5 935.2V988.8M345.2 978.3V1034.9M363.6 942.2V988.4M454 899.3V953.7M651.3 957.4V1006.4M867.3 921.1V968.3M923.4 912.7V955.3M978.3 955.9V1005.3M1018.7 920.6V961.4"/><path d="M170.6 950.6l3.7 -3.1l3.7 3.1l-3.7 3.1zM243.8 962l3.7 -3.1l3.7 3.1l-3.7 3.1zM341.5 1006.6l3.7 -3.1l3.7 3.1l-3.7 3.1zM359.9 965.3l3.7 -3.1l3.7 3.1l-3.7 3.1zM450.3 926.5l3.7 -3.1l3.7 3.1l-3.7 3.1zM647.6 981.9l3.7 -3.1l3.7 3.1l-3.7 3.1zM863.6 944.7l3.7 -3.1l3.7 3.1l-3.7 3.1zM919.7 934l3.7 -3.1l3.7 3.1l-3.7 3.1zM974.6 980.6l3.7 -3.1l3.7 3.1l-3.7 3.1zM1015 941l3.7 -3.1l3.7 3.1l-3.7 3.1z"/></g>
<g clip-path="url(#c3)" fill="none" stroke="#0ff" stroke-width="1.15"><path d="M333 1223V1261M582.8 1261.8V1321.8"/><path d="M329.3 1242l3.7 -3.1l3.7 3.1l-3.7 3.1zM579.1 1291.8l3.7 -3.1l3.7 3.1l-3.7 3.1z"/></g>
<path stroke="#f0f" stroke-width="1.15" d="M140.6 243.9H1056.3"/>
<path stroke="#f0f" stroke-width="1.15" d="M140.6 550.7H1056.3"/>
<path fill="none" stroke="#000" stroke-width="1.1" d="M140.6 87.6H1056.3V378.1H140.6ZM148.3 378.1v-5.8M148.3 87.6v5.8M166.3 378.1v-2.9M166.3 87.6v2.9M184.4 378.1v-2.9M184.4 87.6v2.9M202.4 378.1v-2.9M202.4 87.6v2.9M220.4 378.1v-2.9M220.4 87.6v2.9M238.5 378.1v-2.9M238.5 87.6v2.9M256.5 378.1v-2.9M256.5 87.6v2.9M274.5 378.1v-2.9M274.5 87.6v2.9M292.6 378.1v-2.9M292.6 87.6v2.9M310.6 378.1v-2.9M310.6 87.6v2.9M328.6 378.1v-5.8M328.6 87.6v5.8M346.7 378.1v-2.9M346.7 87.6v2.9M364.7 378.1v-2.9M364.7 87.6v2.9M382.7 378.1v-2.9M382.7 87.6v2.9M400.7 378.1v-2.9M400.7 87.6v2.9M418.8 378.1v-2.9M418.8 87.6v2.9M436.8 378.1v-2.9M436.8 87.6v2.9M454.8 378.1v-2.9M454.8 87.6v2.9M472.9 378.1v-2.9M472.9 87.6v2.9M490.9 378.1v-2.9M490.9 87.6v2.9M508.9 378.1v-5.8M508.9 87.6v5.8M527.0 378.1v-2.9M527.0 87.6v2.9M545.0 378.1v-2.9M545.0 87.6v2.9M563.0 378.1v-2.9M563.0 87.6v2.9M581.1 378.1v-2.9M581.1 87.6v2.9M599.1 378.1v-2.9M599.1 87.6v2.9M617.1 378.1v-2.9M617.1 87.6v2.9M635.2 378.1v-2.9M635.2 87.6v2.9M653.2 378.1v-2.9M653.2 87.6v2.9M671.2 378.1v-2.9M671.2 87.6v2.9M689.3 378.1v-5.8M689.3 87.6v5.8M707.3 378.1v-2.9M707.3 87.6v2.9M725.3 378.1v-2.9M725.3 87.6v2.9M743.4 378.1v-2.9M743.4 87.6v2.9M761.4 378.1v-2.9M761.4 87.6v2.9M779.4 378.1v-2.9M779.4 87.6v2.9M797.5 378.1v-2.9M797.5 87.6v2.9M815.5 378.1v-2.9M815.5 87.6v2.9M833.5 378.1v-2.9M833.5 87.6v2.9M851.5 378.1v-2.9M851.5 87.6v2.9M869.6 378.1v-5.8M869.6 87.6v5.8M887.6 378.1v-2.9M887.6 87.6v2.9M905.6 378.1v-2.9M905.6 87.6v2.9M923.7 378.1v-2.9M923.7 87.6v2.9M941.7 378.1v-2.9M941.7 87.6v2.9M959.7 378.1v-2.9M959.7 87.6v2.9M977.8 378.1v-2.9M977.8 87.6v2.9M995.8 378.1v-2.9M995.8 87.6v2.9M1013.8 378.1v-2.9M1013.8 87.6v2.9M1031.9 378.1v-2.9M1031.9 87.6v2.9M1049.9 378.1v-5.8M1049.9 87.6v5.8M140.6 372.4h9.2M1056.3 372.4h-9.2M140.6 357.3h9.2M1056.3 357.3h-9.2M140.6 342.2h9.2M1056.3 342.2h-9.2M140.6 327.2h18.3M1056.3 327.2h-18.3M140.6 312.1h9.2M1056.3 312.1h-9.2M140.6 297.1h9.2M1056.3 297.1h-9.2M140.6 282.1h9.2M1056.3 282.1h-9.2M140.6 267.0h18.3M1056.3 267.0h-18.3M140.6 251.9h9.2M1056.3 251.9h-9.2M140.6 236.9h9.2M1056.3 236.9h-9.2M140.6 221.8h9.2M1056.3 221.8h-9.2M140.6 206.8h18.3M1056.3 206.8h-18.3M140.6 191.8h9.2M1056.3 191.8h-9.2M140.6 176.7h9.2M1056.3 176.7h-9.2M140.6 161.7h9.2M1056.3 161.7h-9.2M140.6 146.6h18.3M1056.3 146.6h-18.3M140.6 131.6h9.2M1056.3 131.6h-9.2M140.6 116.5h9.2M1056.3 116.5h-9.2M140.6 101.5h9.2M1056.3 101.5h-9.2"/>
<path stroke="#000" stroke-width="1" d="M140.6 267.0H1056.3"/>
<path fill="none" stroke="#000" stroke-width="1.1" d="M140.6 408.3H1056.3V698.1H140.6ZM148.3 698.1v-5.8M148.3 408.3v5.8M166.3 698.1v-2.9M166.3 408.3v2.9M184.4 698.1v-2.9M184.4 408.3v2.9M202.4 698.1v-2.9M202.4 408.3v2.9M220.4 698.1v-2.9M220.4 408.3v2.9M238.5 698.1v-2.9M238.5 408.3v2.9M256.5 698.1v-2.9M256.5 408.3v2.9M274.5 698.1v-2.9M274.5 408.3v2.9M292.6 698.1v-2.9M292.6 408.3v2.9M310.6 698.1v-2.9M310.6 408.3v2.9M328.6 698.1v-5.8M328.6 408.3v5.8M346.7 698.1v-2.9M346.7 408.3v2.9M364.7 698.1v-2.9M364.7 408.3v2.9M382.7 698.1v-2.9M382.7 408.3v2.9M400.7 698.1v-2.9M400.7 408.3v2.9M418.8 698.1v-2.9M418.8 408.3v2.9M436.8 698.1v-2.9M436.8 408.3v2.9M454.8 698.1v-2.9M454.8 408.3v2.9M472.9 698.1v-2.9M472.9 408.3v2.9M490.9 698.1v-2.9M490.9 408.3v2.9M508.9 698.1v-5.8M508.9 408.3v5.8M527.0 698.1v-2.9M527.0 408.3v2.9M545.0 698.1v-2.9M545.0 408.3v2.9M563.0 698.1v-2.9M563.0 408.3v2.9M581.1 698.1v-2.9M581.1 408.3v2.9M599.1 698.1v-2.9M599.1 408.3v2.9M617.1 698.1v-2.9M617.1 408.3v2.9M635.2 698.1v-2.9M635.2 408.3v2.9M653.2 698.1v-2.9M653.2 408.3v2.9M671.2 698.1v-2.9M671.2 408.3v2.9M689.3 698.1v-5.8M689.3 408.3v5.8M707.3 698.1v-2.9M707.3 408.3v2.9M725.3 698.1v-2.9M725.3 408.3v2.9M743.4 698.1v-2.9M743.4 408.3v2.9M761.4 698.1v-2.9M761.4 408.3v2.9M779.4 698.1v-2.9M779.4 408.3v2.9M797.5 698.1v-2.9M797.5 408.3v2.9M815.5 698.1v-2.9M815.5 408.3v2.9M833.5 698.1v-2.9M833.5 408.3v2.9M851.5 698.1v-2.9M851.5 408.3v2.9M869.6 698.1v-5.8M869.6 408.3v5.8M887.6 698.1v-2.9M887.6 408.3v2.9M905.6 698.1v-2.9M905.6 408.3v2.9M923.7 698.1v-2.9M923.7 408.3v2.9M941.7 698.1v-2.9M941.7 408.3v2.9M959.7 698.1v-2.9M959.7 408.3v2.9M977.8 698.1v-2.9M977.8 408.3v2.9M995.8 698.1v-2.9M995.8 408.3v2.9M1013.8 698.1v-2.9M1013.8 408.3v2.9M1031.9 698.1v-2.9M1031.9 408.3v2.9M1049.9 698.1v-5.8M1049.9 408.3v5.8M140.6 695.0h9.2M1056.3 695.0h-9.2M140.6 690.8h18.3M1056.3 690.8h-18.3M140.6 686.6h9.2M1056.3 686.6h-9.2M140.6 682.4h9.2M1056.3 682.4h-9.2M140.6 678.2h9.2M1056.3 678.2h-9.2M140.6 674.1h9.2M1056.3 674.1h-9.2M140.6 669.9h9.2M1056.3 669.9h-9.2M140.6 665.7h9.2M1056.3 665.7h-9.2M140.6 661.5h9.2M1056.3 661.5h-9.2M140.6 657.3h9.2M1056.3 657.3h-9.2M140.6 653.1h9.2M1056.3 653.1h-9.2M140.6 649.0h18.3M1056.3 649.0h-18.3M140.6 644.8h9.2M1056.3 644.8h-9.2M140.6 640.6h9.2M1056.3 640.6h-9.2M140.6 636.4h9.2M1056.3 636.4h-9.2M140.6 632.2h9.2M1056.3 632.2h-9.2M140.6 628.0h9.2M1056.3 628.0h-9.2M140.6 623.9h9.2M1056.3 623.9h-9.2M140.6 619.7h9.2M1056.3 619.7h-9.2M140.6 615.5h9.2M1056.3 615.5h-9.2M140.6 611.3h9.2M1056.3 611.3h-9.2M140.6 607.1h18.3M1056.3 607.1h-18.3M140.6 602.9h9.2M1056.3 602.9h-9.2M140.6 598.8h9.2M1056.3 598.8h-9.2M140.6 594.6h9.2M1056.3 594.6h-9.2M140.6 590.4h9.2M1056.3 590.4h-9.2M140.6 586.2h9.2M1056.3 586.2h-9.2M140.6 582.0h9.2M1056.3 582.0h-9.2M140.6 577.8h9.2M1056.3 577.8h-9.2M140.6 573.7h9.2M1056.3 573.7h-9.2M140.6 569.5h9.2M1056.3 569.5h-9.2M140.6 565.3h18.3M1056.3 565.3h-18.3M140.6 561.1h9.2M1056.3 561.1h-9.2M140.6 556.9h9.2M1056.3 556.9h-9.2M140.6 552.8h9.2M1056.3 552.8h-9.2M140.6 548.6h9.2M1056.3 548.6h-9.2M140.6 544.4h9.2M1056.3 544.4h-9.2M140.6 540.2h9.2M1056.3 540.2h-9.2M140.6 536.0h9.2M1056.3 536.0h-9.2M140.6 531.8h9.2M1056.3 531.8h-9.2M140.6 527.7h9.2M1056.3 527.7h-9.2M140.6 523.5h18.3M1056.3 523.5h-18.3M140.6 519.3h9.2M1056.3 519.3h-9.2M140.6 515.1h9.2M1056.3 515.1h-9.2M140.6 510.9h9.2M1056.3 510.9h-9.2M140.6 506.7h9.2M1056.3 506.7h-9.2M140.6 502.6h9.2M1056.3 502.6h-9.2M140.6 498.4h9.2M1056.3 498.4h-9.2M140.6 494.2h9.2M1056.3 494.2h-9.2M140.6 490.0h9.2M1056.3 490.0h-9.2M140.6 485.8h9.2M1056.3 485.8h-9.2M140.6 481.6h18.3M1056.3 481.6h-18.3M140.6 477.5h9.2M1056.3 477.5h-9.2M140.6 473.3h9.2M1056.3 473.3h-9.2M140.6 469.1h9.2M1056.3 469.1h-9.2M140.6 464.9h9.2M1056.3 464.9h-9.2M140.6 460.7h9.2M1056.3 460.7h-9.2M140.6 456.5h9.2M1056.3 456.5h-9.2M140.6 452.4h9.2M1056.3 452.4h-9.2M140.6 448.2h9.2M1056.3 448.2h-9.2M140.6 444.0h9.2M1056.3 444.0h-9.2M140.6 439.8h18.3M1056.3 439.8h-18.3M140.6 435.6h9.2M1056.3 435.6h-9.2M140.6 431.4h9.2M1056.3 431.4h-9.2M140.6 427.3h9.2M1056.3 427.3h-9.2M140.6 423.1h9.2M1056.3 423.1h-9.2M140.6 418.9h9.2M1056.3 418.9h-9.2M140.6 414.7h9.2M1056.3 414.7h-9.2M140.6 410.5h9.2M1056.3 410.5h-9.2"/>
<path stroke="#000" stroke-width="1" d="M140.6 565.3H1056.3"/>
<path fill="none" stroke="#000" stroke-width="1.1" d="M140.6 728.7H1056.3V1018.5H140.6ZM148.3 1018.5v-5.8M148.3 728.7v5.8M166.3 1018.5v-2.9M166.3 728.7v2.9M184.4 1018.5v-2.9M184.4 728.7v2.9M202.4 1018.5v-2.9M202.4 728.7v2.9M220.4 1018.5v-2.9M220.4 728.7v2.9M238.5 1018.5v-2.9M238.5 728.7v2.9M256.5 1018.5v-2.9M256.5 728.7v2.9M274.5 1018.5v-2.9M274.5 728.7v2.9M292.6 1018.5v-2.9M292.6 728.7v2.9M310.6 1018.5v-2.9M310.6 728.7v2.9M328.6 1018.5v-5.8M328.6 728.7v5.8M346.7 1018.5v-2.9M346.7 728.7v2.9M364.7 1018.5v-2.9M364.7 728.7v2.9M382.7 1018.5v-2.9M382.7 728.7v2.9M400.7 1018.5v-2.9M400.7 728.7v2.9M418.8 1018.5v-2.9M418.8 728.7v2.9M436.8 1018.5v-2.9M436.8 728.7v2.9M454.8 1018.5v-2.9M454.8 728.7v2.9M472.9 1018.5v-2.9M472.9 728.7v2.9M490.9 1018.5v-2.9M490.9 728.7v2.9M508.9 1018.5v-5.8M508.9 728.7v5.8M527.0 1018.5v-2.9M527.0 728.7v2.9M545.0 1018.5v-2.9M545.0 728.7v2.9M563.0 1018.5v-2.9M563.0 728.7v2.9M581.1 1018.5v-2.9M581.1 728.7v2.9M599.1 1018.5v-2.9M599.1 728.7v2.9M617.1 1018.5v-2.9M617.1 728.7v2.9M635.2 1018.5v-2.9M635.2 728.7v2.9M653.2 1018.5v-2.9M653.2 728.7v2.9M671.2 1018.5v-2.9M671.2 728.7v2.9M689.3 1018.5v-5.8M689.3 728.7v5.8M707.3 1018.5v-2.9M707.3 728.7v2.9M725.3 1018.5v-2.9M725.3 728.7v2.9M743.4 1018.5v-2.9M743.4 728.7v2.9M761.4 1018.5v-2.9M761.4 728.7v2.9M779.4 1018.5v-2.9M779.4 728.7v2.9M797.5 1018.5v-2.9M797.5 728.7v2.9M815.5 1018.5v-2.9M815.5 728.7v2.9M833.5 1018.5v-2.9M833.5 728.7v2.9M851.5 1018.5v-2.9M851.5 728.7v2.9M869.6 1018.5v-5.8M869.6 728.7v5.8M887.6 1018.5v-2.9M887.6 728.7v2.9M905.6 1018.5v-2.9M905.6 728.7v2.9M923.7 1018.5v-2.9M923.7 728.7v2.9M941.7 1018.5v-2.9M941.7 728.7v2.9M959.7 1018.5v-2.9M959.7 728.7v2.9M977.8 1018.5v-2.9M977.8 728.7v2.9M995.8 1018.5v-2.9M995.8 728.7v2.9M1013.8 1018.5v-2.9M1013.8 728.7v2.9M1031.9 1018.5v-2.9M1031.9 728.7v2.9M1049.9 1018.5v-5.8M1049.9 728.7v5.8M140.6 1016.6h9.2M1056.3 1016.6h-9.2M140.6 1000.6h18.3M1056.3 1000.6h-18.3M140.6 984.6h9.2M1056.3 984.6h-9.2M140.6 968.6h9.2M1056.3 968.6h-9.2M140.6 952.6h9.2M1056.3 952.6h-9.2M140.6 936.5h18.3M1056.3 936.5h-18.3M140.6 920.5h9.2M1056.3 920.5h-9.2M140.6 904.5h9.2M1056.3 904.5h-9.2M140.6 888.5h9.2M1056.3 888.5h-9.2M140.6 872.5h18.3M1056.3 872.5h-18.3M140.6 856.5h9.2M1056.3 856.5h-9.2M140.6 840.5h9.2M1056.3 840.5h-9.2M140.6 824.5h9.2M1056.3 824.5h-9.2M140.6 808.5h18.3M1056.3 808.5h-18.3M140.6 792.4h9.2M1056.3 792.4h-9.2M140.6 776.4h9.2M1056.3 776.4h-9.2M140.6 760.4h9.2M1056.3 760.4h-9.2M140.6 744.4h18.3M1056.3 744.4h-18.3"/>
<path stroke="#000" stroke-width="1" d="M140.6 872.5H1056.3"/>
<path fill="none" stroke="#000" stroke-width="1.1" d="M140.6 1048.7H1056.3V1339.0H140.6ZM148.3 1339.0v-5.8M148.3 1048.7v5.8M166.3 1339.0v-2.9M166.3 1048.7v2.9M184.4 1339.0v-2.9M184.4 1048.7v2.9M202.4 1339.0v-2.9M202.4 1048.7v2.9M220.4 1339.0v-2.9M220.4 1048.7v2.9M238.5 1339.0v-2.9M238.5 1048.7v2.9M256.5 1339.0v-2.9M256.5 1048.7v2.9M274.5 1339.0v-2.9M274.5 1048.7v2.9M292.6 1339.0v-2.9M292.6 1048.7v2.9M310.6 1339.0v-2.9M310.6 1048.7v2.9M328.6 1339.0v-5.8M328.6 1048.7v5.8M346.7 1339.0v-2.9M346.7 1048.7v2.9M364.7 1339.0v-2.9M364.7 1048.7v2.9M382.7 1339.0v-2.9M382.7 1048.7v2.9M400.7 1339.0v-2.9M400.7 1048.7v2.9M418.8 1339.0v-2.9M418.8 1048.7v2.9M436.8 1339.0v-2.9M436.8 1048.7v2.9M454.8 1339.0v-2.9M454.8 1048.7v2.9M472.9 1339.0v-2.9M472.9 1048.7v2.9M490.9 1339.0v-2.9M490.9 1048.7v2.9M508.9 1339.0v-5.8M508.9 1048.7v5.8M527.0 1339.0v-2.9M527.0 1048.7v2.9M545.0 1339.0v-2.9M545.0 1048.7v2.9M563.0 1339.0v-2.9M563.0 1048.7v2.9M581.1 1339.0v-2.9M581.1 1048.7v2.9M599.1 1339.0v-2.9M599.1 1048.7v2.9M617.1 1339.0v-2.9M617.1 1048.7v2.9M635.2 1339.0v-2.9M635.2 1048.7v2.9M653.2 1339.0v-2.9M653.2 1048.7v2.9M671.2 1339.0v-2.9M671.2 1048.7v2.9M689.3 1339.0v-5.8M689.3 1048.7v5.8M707.3 1339.0v-2.9M707.3 1048.7v2.9M725.3 1339.0v-2.9M725.3 1048.7v2.9M743.4 1339.0v-2.9M743.4 1048.7v2.9M761.4 1339.0v-2.9M761.4 1048.7v2.9M779.4 1339.0v-2.9M779.4 1048.7v2.9M797.5 1339.0v-2.9M797.5 1048.7v2.9M815.5 1339.0v-2.9M815.5 1048.7v2.9M833.5 1339.0v-2.9M833.5 1048.7v2.9M851.5 1339.0v-2.9M851.5 1048.7v2.9M869.6 1339.0v-5.8M869.6 1048.7v5.8M887.6 1339.0v-2.9M887.6 1048.7v2.9M905.6 1339.0v-2.9M905.6 1048.7v2.9M923.7 1339.0v-2.9M923.7 1048.7v2.9M941.7 1339.0v-2.9M941.7 1048.7v2.9M959.7 1339.0v-2.9M959.7 1048.7v2.9M977.8 1339.0v-2.9M977.8 1048.7v2.9M995.8 1339.0v-2.9M995.8 1048.7v2.9M1013.8 1339.0v-2.9M1013.8 1048.7v2.9M1031.9 1339.0v-2.9M1031.9 1048.7v2.9M1049.9 1339.0v-5.8M1049.9 1048.7v5.8M140.6 1332.8h9.2M1056.3 1332.8h-9.2M140.6 1321.0h18.3M1056.3 1321.0h-18.3M140.6 1309.1h9.2M1056.3 1309.1h-9.2M140.6 1297.2h9.2M1056.3 1297.2h-9.2M140.6 1285.3h9.2M1056.3 1285.3h-9.2M140.6 1273.4h18.3M1056.3 1273.4h-18.3M140.6 1261.6h9.2M1056.3 1261.6h-9.2M140.6 1249.7h9.2M1056.3 1249.7h-9.2M140.6 1237.8h9.2M1056.3 1237.8h-9.2M140.6 1225.9h18.3M1056.3 1225.9h-18.3M140.6 1214.0h9.2M1056.3 1214.0h-9.2M140.6 1202.2h9.2M1056.3 1202.2h-9.2M140.6 1190.3h9.2M1056.3 1190.3h-9.2M140.6 1178.4h18.3M1056.3 1178.4h-18.3M140.6 1166.5h9.2M1056.3 1166.5h-9.2M140.6 1154.6h9.2M1056.3 1154.6h-9.2M140.6 1142.8h9.2M1056.3 1142.8h-9.2M140.6 1130.9h18.3M1056.3 1130.9h-18.3M140.6 1119.0h9.2M1056.3 1119.0h-9.2M140.6 1107.1h9.2M1056.3 1107.1h-9.2M140.6 1095.2h9.2M1056.3 1095.2h-9.2M140.6 1083.4h18.3M1056.3 1083.4h-18.3M140.6 1071.5h9.2M1056.3 1071.5h-9.2M140.6 1059.6h9.2M1056.3 1059.6h-9.2"/>
<path stroke="#000" stroke-width="1" d="M140.6 1178.4H1056.3"/>
<g style="font-family:&quot;DejaVu Sans&quot;,&quot;Liberation Sans&quot;,sans-serif;font-weight:200" fill="#222">
<text transform="scale(1.150 1)" x="48.03 68.59 89.63" y="161.0" style="font-size:35.1px;white-space:pre" class="big">400</text>
<text transform="scale(1.150 1)" x="48.03 68.59 89.63" y="221.2" style="font-size:35.1px;white-space:pre" class="big">200</text>
<text transform="scale(1.150 1)" x="89.63" y="281.4" style="font-size:35.1px;white-space:pre" class="big">0</text>
<text transform="scale(1.150 1)" y="341.6" style="font-size:35.1px;white-space:pre" class="big"><tspan x="21.63" y="339.2" textLength="25.87" lengthAdjust="spacingAndGlyphs">-</tspan><tspan x="48.03 68.59 89.63" y="341.6">200</tspan></text>
<text transform="scale(1.150 1)" x="47.99 68.59 89.63" y="454.2" style="font-size:35.1px;white-space:pre" class="big">300</text>
<text transform="scale(1.150 1)" x="48.03 68.59 89.63" y="496.0" style="font-size:35.1px;white-space:pre" class="big">200</text>
<text transform="scale(1.150 1)" x="47.61 68.59 89.63" y="537.9" style="font-size:35.1px;white-space:pre" class="big">100</text>
<text transform="scale(1.150 1)" x="89.63" y="579.7" style="font-size:35.1px;white-space:pre" class="big">0</text>
<text transform="scale(1.150 1)" y="621.5" style="font-size:35.1px;white-space:pre" class="big"><tspan x="21.63" y="619.1" textLength="25.87" lengthAdjust="spacingAndGlyphs">-</tspan><tspan x="47.61 68.59 89.63" y="621.5">100</tspan></text>
<text transform="scale(1.150 1)" y="663.4" style="font-size:35.1px;white-space:pre" class="big"><tspan x="21.63" y="661.0" textLength="25.87" lengthAdjust="spacingAndGlyphs">-</tspan><tspan x="48.03 68.59 89.63" y="663.4">200</tspan></text>
<text transform="scale(1.150 1)" y="698.7" style="font-size:35.1px;white-space:pre" class="big"><tspan x="21.63" y="696.3" textLength="25.87" lengthAdjust="spacingAndGlyphs">-</tspan><tspan x="47.99 68.59 89.63" y="698.7">300</tspan></text>
<text transform="scale(1.150 1)" x="48.03 68.59 89.63" y="758.8" style="font-size:35.1px;white-space:pre" class="big">400</text>
<text transform="scale(1.150 1)" x="48.03 68.59 89.63" y="822.9" style="font-size:35.1px;white-space:pre" class="big">200</text>
<text transform="scale(1.150 1)" x="89.63" y="886.9" style="font-size:35.1px;white-space:pre" class="big">0</text>
<text transform="scale(1.150 1)" y="950.9" style="font-size:35.1px;white-space:pre" class="big"><tspan x="21.63" y="948.5" textLength="25.87" lengthAdjust="spacingAndGlyphs">-</tspan><tspan x="48.03 68.59 89.63" y="950.9">200</tspan></text>
<text transform="scale(1.150 1)" y="1015.0" style="font-size:35.1px;white-space:pre" class="big"><tspan x="21.63" y="1012.6" textLength="25.87" lengthAdjust="spacingAndGlyphs">-</tspan><tspan x="48.03 68.59 89.63" y="1015.0">400</tspan></text>
<text transform="scale(1.150 1)" x="48.03 68.59 89.63" y="1097.8" style="font-size:35.1px;white-space:pre" class="big">400</text>
<text transform="scale(1.150 1)" x="48.03 68.59 89.63" y="1145.3" style="font-size:35.1px;white-space:pre" class="big">200</text>
<text transform="scale(1.150 1)" x="89.63" y="1192.8" style="font-size:35.1px;white-space:pre" class="big">0</text>
<text transform="scale(1.150 1)" y="1240.3" style="font-size:35.1px;white-space:pre" class="big"><tspan x="21.63" y="1237.9" textLength="25.87" lengthAdjust="spacingAndGlyphs">-</tspan><tspan x="48.03 68.59 89.63" y="1240.3">200</tspan></text>
<text transform="scale(1.150 1)" y="1287.8" style="font-size:35.1px;white-space:pre" class="big"><tspan x="21.63" y="1285.4" textLength="25.87" lengthAdjust="spacingAndGlyphs">-</tspan><tspan x="48.03 68.59 89.63" y="1287.8">400</tspan></text>
<text transform="scale(1.150 1)" y="1335.4" style="font-size:35.1px;white-space:pre" class="big"><tspan x="21.63" y="1333.0" textLength="25.87" lengthAdjust="spacingAndGlyphs">-</tspan><tspan x="47.31 68.59 89.63" y="1335.4">600</tspan></text>
<text transform="scale(1.150 1)" x="74.80 95.44 116.72 137.76 158.81" y="1394.1" style="font-size:35.1px;white-space:pre" class="big">56000</text>
<text transform="scale(1.150 1)" x="231.60 252.92 273.52 294.56 315.61" y="1394.1" style="font-size:35.1px;white-space:pre" class="big">57000</text>
<text transform="scale(1.150 1)" x="388.40 409.23 430.32 451.36 472.41" y="1394.1" style="font-size:35.1px;white-space:pre" class="big">58000</text>
<text transform="scale(1.150 1)" x="545.20 565.84 587.12 608.16 629.21" y="1394.1" style="font-size:35.1px;white-space:pre" class="big">59000</text>
<text transform="scale(1.150 1)" x="701.59 722.88 743.92 764.96 786.01" y="1394.1" style="font-size:35.1px;white-space:pre" class="big">60000</text>
<text transform="scale(1.150 1)" x="858.39 879.74 900.72 921.76 942.81" y="1394.1" style="font-size:35.1px;white-space:pre" class="big">61000</text>
<text transform="scale(1.000 1)" y="67.4" style="font-size:26.2px;white-space:pre" ><tspan x="165.61 184.80 200.84 218.52" y="67.4">HERX</tspan><tspan x="237.61" y="67.4" textLength="22.07" lengthAdjust="spacingAndGlyphs">-</tspan><tspan x="261.92 278.43 287.26 290.26 314.02" y="67.4">1:  2</tspan><tspan x="331.42" y="67.4" textLength="21.25" lengthAdjust="spacingAndGlyphs">-</tspan><tspan x="352.91 368.00 382.50 398.01 412.85 429.36 445.32 461.90 473.13 489.64 505.82 522.40 536.50 544.83 547.83 567.80 583.34 600.35 614.94 625.22 638.91 656.36 673.23 684.31 700.37 710.61 727.64 735.31 751.74 762.41 773.09 789.60 806.63 815.46 827.68 845.34 862.99 880.65" y="67.4">day averages,  Last data plotted: 2025</tspan><tspan x="896.73" y="67.4" textLength="21.94" lengthAdjust="spacingAndGlyphs">-</tspan><tspan x="918.41 937.08 952.13" y="67.4">DEC</tspan><tspan x="971.97" y="67.4" textLength="21.66" lengthAdjust="spacingAndGlyphs">-</tspan><tspan x="995.82 1012.11" y="67.4">16</tspan></text>
<text transform="scale(1.150 1)" y="105.6" style="font-size:20.1px;white-space:pre" class="sm"><tspan x="-8.71 1.07 13.34 20.42 30.98 50.36" y="105.6">76.7+/</tspan><tspan x="60.58" y="105.6" textLength="15.62" lengthAdjust="spacingAndGlyphs">-</tspan><tspan x="74.78 80.00 85.22 90.43 95.65 114.08 126.38 132.29 140.99 153.55 172.19 182.31 189.64 201.03" y="105.6">     0.6 mcrab</tspan></text>
<text transform="scale(1.150 1)" y="114.5" style="font-size:20.1px;white-space:pre" class="sm"><tspan x="122.40 136.45" y="114.5">12</tspan><tspan x="149.22" y="114.5" textLength="14.78" lengthAdjust="spacingAndGlyphs">-</tspan><tspan x="164.69 176.24 189.02 196.81 206.29 216.50" y="114.5">25 keV</tspan></text>
<text transform="scale(1.150 1)" y="423.5" style="font-size:20.1px;white-space:pre" class="sm"><tspan x="-8.71 1.30 13.34 20.17 30.98 50.36" y="423.5">35.0+/</tspan><tspan x="60.58" y="423.5" textLength="15.62" lengthAdjust="spacingAndGlyphs">-</tspan><tspan x="74.78 80.00 85.22 90.43 95.65 114.12 126.38 132.43 141.12 153.55 172.19 182.31 189.64 201.03" y="423.5">     1.0 mcrab</tspan></text>
<text transform="scale(1.150 1)" y="431.8" style="font-size:20.1px;white-space:pre" class="sm"><tspan x="128.17 138.50" y="431.8">25</tspan><tspan x="149.89" y="431.8" textLength="14.31" lengthAdjust="spacingAndGlyphs">-</tspan><tspan x="164.45 175.00 187.78 196.64 205.94 215.97" y="431.8">50 keV</tspan></text>
<text transform="scale(1.150 1)" y="743.0" style="font-size:20.1px;white-space:pre" class="sm"><tspan x="1.30 13.34 20.03 30.98 50.36" y="743.0">5.9+/</tspan><tspan x="60.58" y="743.0" textLength="15.62" lengthAdjust="spacingAndGlyphs">-</tspan><tspan x="74.78 80.00 85.22 90.43 95.65 114.12 126.38 132.52 141.22 153.55 172.19 182.31 189.64 201.03" y="743.0">     1.5 mcrab</tspan></text>
<text transform="scale(1.150 1)" y="750.2" style="font-size:20.1px;white-space:pre" class="sm"><tspan x="123.41 135.35" y="750.2">50</tspan><tspan x="149.19" y="750.2" textLength="14.31" lengthAdjust="spacingAndGlyphs">-</tspan><tspan x="164.92 175.88 186.83 199.60 208.47 217.77 227.80" y="750.2">100 keV</tspan></text>
<text transform="scale(1.150 1)" y="1062.0" style="font-size:20.1px;white-space:pre" class="sm"><tspan x="1.49 13.34 20.42 30.98 50.36" y="1062.0">2.3+/</tspan><tspan x="60.58" y="1062.0" textLength="15.62" lengthAdjust="spacingAndGlyphs">-</tspan><tspan x="74.78 80.00 85.22 90.43 95.65 114.36 126.38 132.46 141.16 153.55 172.19 182.31 189.64 201.03" y="1062.0">     2.1 mcrab</tspan></text>
<text transform="scale(1.150 1)" y="1068.6" style="font-size:20.1px;white-space:pre" class="sm"><tspan x="121.79 135.18 148.57" y="1068.6">100</tspan><tspan x="161.72" y="1068.6" textLength="14.31" lengthAdjust="spacingAndGlyphs">-</tspan><tspan x="176.04 187.69 199.35 212.12 220.29 229.25 238.93" y="1068.6">300 keV</tspan></text>
<text transform="scale(1.150 1)" x="467.69 477.48 479.96 497.72 511.23 515.86 524.29 543.10 549.45 566.22" y="1402.6" style="font-size:21.9px;white-space:pre" class="sm">Time (MJD)</text>
<g transform="translate(61.8 783.1) rotate(-90)"><text transform="scale(1.150 1)" x="-2.51 7.62 11.63 22.97 35.15 44.62 51.84 71.08 81.59 89.25 101.05 113.31" y="0.0" style="font-size:20.6px;white-space:pre" class="sm">Flux (mcrab)</text></g>
</g>
</svg>
</body></html>
